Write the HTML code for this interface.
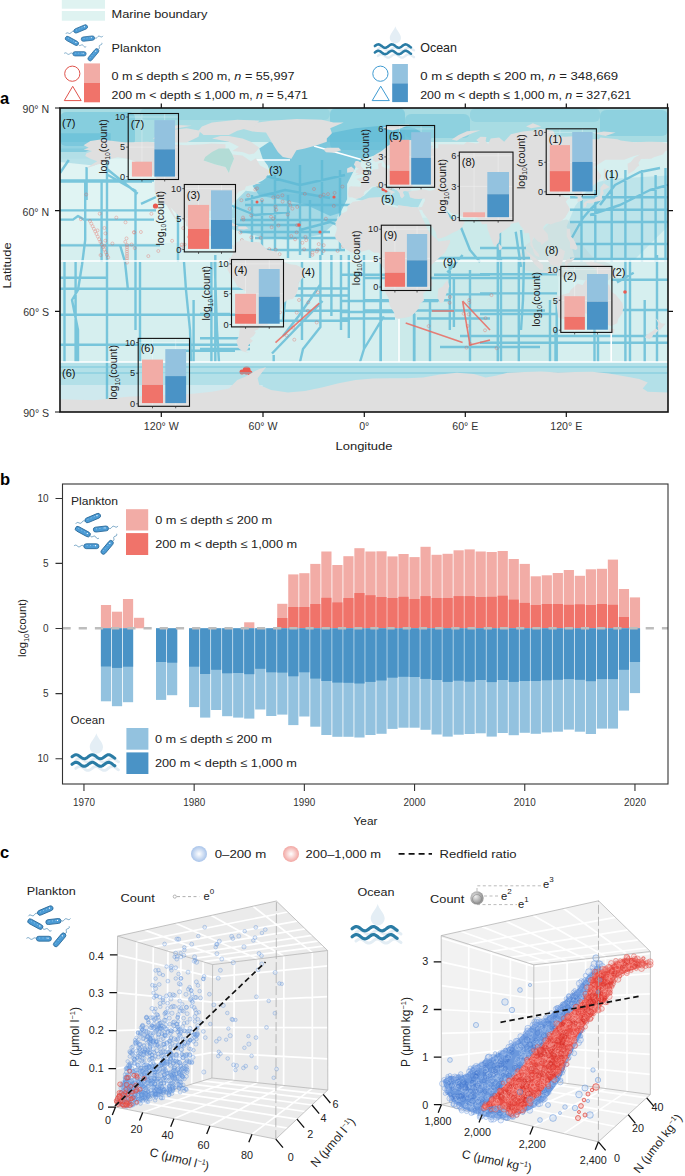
<!DOCTYPE html>
<html><head><meta charset="utf-8"><style>
html,body{margin:0;padding:0;background:#fff;}
svg{display:block;font-family:"Liberation Sans", sans-serif;}
</style></head><body>
<svg width="685" height="1176" viewBox="0 0 685 1176">
<defs><symbol id="bact" viewBox="0 0 40 38" overflow="visible"><path d="M10.00,7.70 L9.59,7.53 L9.18,7.40 L8.80,7.35 L8.44,7.39 L8.11,7.53 L7.80,7.77 L7.51,8.08 L7.23,8.43 L6.96,8.78 L6.67,9.10 L6.36,9.33 L6.03,9.48 L5.67,9.52 L5.29,9.46 L4.88,9.33 L4.47,9.17 L4.05,9.00 L3.65,8.87 L3.26,8.82 L2.90,8.86 L2.57,9.00 L2.26,9.24 L1.98,9.55 L1.70,9.90" fill="none" stroke="#2f77a8" stroke-width="0.6"/><path d="M14.30,20.40 L14.55,20.75 L14.82,21.07 L15.11,21.31 L15.42,21.46 L15.77,21.50 L16.14,21.45 L16.53,21.33 L16.93,21.17 L17.34,21.01 L17.73,20.88 L18.10,20.83 L18.45,20.88 L18.76,21.02 L19.05,21.27 L19.31,21.58 L19.57,21.93 L19.82,22.29 L20.09,22.60 L20.37,22.84 L20.69,22.99 L21.03,23.03 L21.40,22.98 L21.80,22.86 L22.20,22.70" fill="none" stroke="#2f77a8" stroke-width="0.6"/><path d="M30.60,13.80 L31.01,13.98 L31.41,14.12 L31.79,14.19 L32.15,14.17 L32.49,14.03 L32.81,13.81 L33.11,13.51 L33.40,13.17 L33.69,12.83 L33.99,12.53 L34.31,12.30 L34.65,12.17 L35.01,12.14 L35.39,12.21 L35.79,12.35 L36.20,12.53 L36.61,12.72 L37.01,12.86 L37.39,12.93 L37.75,12.90 L38.09,12.77 L38.41,12.54 L38.71,12.24 L39.00,11.90" fill="none" stroke="#2f77a8" stroke-width="0.6"/><path d="M8.85,29.80 L8.49,29.52 L8.14,29.28 L7.78,29.12 L7.42,29.05 L7.05,29.09 L6.68,29.23 L6.31,29.44 L5.93,29.70 L5.56,29.96 L5.19,30.17 L4.82,30.31 L4.45,30.35 L4.09,30.28 L3.73,30.12 L3.37,29.88 L3.02,29.60 L2.66,29.32 L2.30,29.08 L1.95,28.92 L1.58,28.85 L1.22,28.89 L0.85,29.03 L0.47,29.24 L0.10,29.50" fill="none" stroke="#2f77a8" stroke-width="0.6"/><path d="M34.10,25.20 L34.49,25.07 L34.84,24.91 L35.12,24.72 L35.32,24.48 L35.43,24.19 L35.45,23.85 L35.41,23.47 L35.33,23.07 L35.26,22.67 L35.21,22.29 L35.24,21.94 L35.34,21.65 L35.54,21.41 L35.83,21.22 L36.18,21.07 L36.57,20.93 L36.95,20.80 L37.30,20.65 L37.59,20.46 L37.79,20.22 L37.90,19.92 L37.92,19.58 L37.88,19.20 L37.80,18.80" fill="none" stroke="#2f77a8" stroke-width="0.6"/><g transform="translate(16.7,4.9) rotate(-23)"><rect x="-7.25" y="-2.15" width="14.5" height="4.3" rx="2.15" fill="#4b9bd5" stroke="#2b6a99" stroke-width="0.75"/><path d="M-4.75,-0.6 h9.50" stroke="#bfe0f5" stroke-width="0.6" stroke-dasharray="0.8 2.2" opacity="0.9"/><circle cx="4.25" cy="-0.5" r="0.55" fill="#fff"/></g><g transform="translate(7.9,16.9) rotate(28.6)"><rect x="-7.25" y="-2.15" width="14.5" height="4.3" rx="2.15" fill="#4b9bd5" stroke="#2b6a99" stroke-width="0.75"/><path d="M-4.75,-0.6 h9.50" stroke="#bfe0f5" stroke-width="0.6" stroke-dasharray="0.8 2.2" opacity="0.9"/><circle cx="4.25" cy="-0.5" r="0.55" fill="#fff"/></g><g transform="translate(23.9,14.6) rotate(-6.5)"><rect x="-6.70" y="-2.15" width="13.4" height="4.3" rx="2.15" fill="#4b9bd5" stroke="#2b6a99" stroke-width="0.75"/><path d="M-4.20,-0.6 h8.40" stroke="#bfe0f5" stroke-width="0.6" stroke-dasharray="0.8 2.2" opacity="0.9"/><circle cx="3.70" cy="-0.5" r="0.55" fill="#fff"/></g><g transform="translate(15.5,29.8) rotate(0)"><rect x="-6.65" y="-2.15" width="13.3" height="4.3" rx="2.15" fill="#4b9bd5" stroke="#2b6a99" stroke-width="0.75"/><path d="M-4.15,-0.6 h8.30" stroke="#bfe0f5" stroke-width="0.6" stroke-dasharray="0.8 2.2" opacity="0.9"/><circle cx="3.65" cy="-0.5" r="0.55" fill="#fff"/></g><g transform="translate(29.4,30.8) rotate(-50)"><rect x="-7.25" y="-2.15" width="14.5" height="4.3" rx="2.15" fill="#4b9bd5" stroke="#2b6a99" stroke-width="0.75"/><path d="M-4.75,-0.6 h9.50" stroke="#bfe0f5" stroke-width="0.6" stroke-dasharray="0.8 2.2" opacity="0.9"/><circle cx="4.25" cy="-0.5" r="0.55" fill="#fff"/></g></symbol></defs>
<rect x="61.8" y="0" width="43.2" height="8.7" fill="#dff3f1"/>
<rect x="61.8" y="11" width="43.2" height="9.7" fill="#dff3f1"/>
<text x="111.5" y="18" font-size="11.7" text-anchor="start" fill="#222" font-weight="normal" textLength="96" lengthAdjust="spacingAndGlyphs">Marine boundary</text>
<use href="#bact" x="64" y="24" width="40" height="38"/>
<text x="111.5" y="51.5" font-size="11.7" text-anchor="start" fill="#222" font-weight="normal" textLength="49.5" lengthAdjust="spacingAndGlyphs">Plankton</text>
<circle cx="72.3" cy="73.7" r="7.6" fill="none" stroke="#e0534c" stroke-width="1"/>
<path d="M64.3,100.6 L81.2,100.6 L72.7,86.3 Z" fill="none" stroke="#e0534c" stroke-width="1"/>
<rect x="84" y="63.4" width="16" height="19.6" fill="#f2aca6"/>
<rect x="84" y="83" width="16" height="19.3" fill="#f0736a"/>
<text x="111.5" y="79.6" font-size="11.7" text-anchor="start" fill="#222" font-weight="normal" textLength="183" lengthAdjust="spacingAndGlyphs">0 m ≤ depth ≤ 200 m, <tspan font-style="italic">n</tspan> = 55,997</text>
<text x="111.5" y="98.5" font-size="11.7" text-anchor="start" fill="#222" font-weight="normal" textLength="196.5" lengthAdjust="spacingAndGlyphs">200 m &lt; depth ≤ 1,000 m, <tspan font-style="italic">n</tspan> = 5,471</text>
<g transform="translate(374,25.5) scale(0.8)"><path d="M26.7,1 C28,6 33.7,10.5 33.7,15.5 A7,7 0 0 1 19.7,15.5 C19.7,10.5 25.4,6 26.7,1Z" fill="#e4eef5"/><path d="M5.00,29.50 L5.75,28.93 L6.50,28.40 L7.25,27.95 L8.00,27.63 L8.75,27.44 L9.50,27.41 L10.25,27.53 L11.00,27.81 L11.75,28.21 L12.50,28.71 L13.25,29.27 L14.00,29.85 L14.75,30.40 L15.50,30.88 L16.25,31.26 L17.00,31.50 L17.75,31.60 L18.50,31.54 L19.25,31.32 L20.00,30.96 L20.75,30.50 L21.50,29.96 L22.25,29.38 L23.00,28.82 L23.75,28.30 L24.50,27.88 L25.25,27.58 L26.00,27.42 L26.75,27.42 L27.50,27.58 L28.25,27.88 L29.00,28.30 L29.75,28.82 L30.50,29.38 L31.25,29.96 L32.00,30.50 L32.75,30.96 L33.50,31.32 L34.25,31.54 L35.00,31.60 L35.75,31.50 L36.50,31.26 L37.25,30.88 L38.00,30.40 L38.75,29.85 L39.50,29.27 L40.25,28.71 L41.00,28.21 L41.75,27.81 L42.50,27.53 L43.25,27.41 L44.00,27.44 L44.75,27.63 L45.50,27.95 L46.25,28.40 L47.00,28.93 L47.75,29.50 L48.50,30.07 L49.25,30.60 L50.00,31.05" fill="none" stroke="#e3edf4" stroke-width="3" stroke-linecap="round"/><path d="M5.00,38.00 L5.75,37.43 L6.50,36.90 L7.25,36.45 L8.00,36.13 L8.75,35.94 L9.50,35.91 L10.25,36.03 L11.00,36.31 L11.75,36.71 L12.50,37.21 L13.25,37.77 L14.00,38.35 L14.75,38.90 L15.50,39.38 L16.25,39.76 L17.00,40.00 L17.75,40.10 L18.50,40.04 L19.25,39.82 L20.00,39.46 L20.75,39.00 L21.50,38.46 L22.25,37.88 L23.00,37.32 L23.75,36.80 L24.50,36.38 L25.25,36.08 L26.00,35.92 L26.75,35.92 L27.50,36.08 L28.25,36.38 L29.00,36.80 L29.75,37.32 L30.50,37.88 L31.25,38.46 L32.00,39.00 L32.75,39.46 L33.50,39.82 L34.25,40.04 L35.00,40.10 L35.75,40.00 L36.50,39.76 L37.25,39.38 L38.00,38.90 L38.75,38.35 L39.50,37.77 L40.25,37.21 L41.00,36.71 L41.75,36.31 L42.50,36.03 L43.25,35.91 L44.00,35.94 L44.75,36.13 L45.50,36.45 L46.25,36.90 L47.00,37.43 L47.75,38.00 L48.50,38.57 L49.25,39.10 L50.00,39.55" fill="none" stroke="#e3edf4" stroke-width="3" stroke-linecap="round"/><path d="M1.10,25.70 L1.85,25.13 L2.60,24.60 L3.36,24.15 L4.11,23.82 L4.86,23.64 L5.61,23.61 L6.36,23.74 L7.11,24.01 L7.87,24.42 L8.62,24.92 L9.37,25.48 L10.12,26.06 L10.87,26.61 L11.62,27.09 L12.38,27.47 L13.13,27.71 L13.88,27.80 L14.63,27.73 L15.38,27.51 L16.13,27.15 L16.89,26.68 L17.64,26.13 L18.39,25.55 L19.14,24.99 L19.89,24.48 L20.64,24.06 L21.40,23.76 L22.15,23.62 L22.90,23.63 L23.65,23.79 L24.40,24.10 L25.15,24.54 L25.91,25.06 L26.66,25.63 L27.41,26.20 L28.16,26.74 L28.91,27.20 L29.66,27.54 L30.42,27.75 L31.17,27.80 L31.92,27.69 L32.67,27.43 L33.42,27.04 L34.17,26.54 L34.93,25.99 L35.68,25.41 L36.43,24.85 L37.18,24.36 L37.93,23.97 L38.68,23.71 L39.44,23.60 L40.19,23.65 L40.94,23.86 L41.69,24.20 L42.44,24.66 L43.19,25.20 L43.95,25.77 L44.70,26.34 L45.45,26.86 L46.20,27.30" fill="none" stroke="#2a7ca5" stroke-width="3.2" stroke-linecap="round"/><path d="M1.10,33.70 L1.85,33.13 L2.60,32.60 L3.36,32.15 L4.11,31.82 L4.86,31.64 L5.61,31.61 L6.36,31.74 L7.11,32.01 L7.87,32.42 L8.62,32.92 L9.37,33.48 L10.12,34.06 L10.87,34.61 L11.62,35.09 L12.38,35.47 L13.13,35.71 L13.88,35.80 L14.63,35.73 L15.38,35.51 L16.13,35.15 L16.89,34.68 L17.64,34.13 L18.39,33.55 L19.14,32.99 L19.89,32.48 L20.64,32.06 L21.40,31.76 L22.15,31.62 L22.90,31.63 L23.65,31.79 L24.40,32.10 L25.15,32.54 L25.91,33.06 L26.66,33.63 L27.41,34.20 L28.16,34.74 L28.91,35.20 L29.66,35.54 L30.42,35.75 L31.17,35.80 L31.92,35.69 L32.67,35.43 L33.42,35.04 L34.17,34.54 L34.93,33.99 L35.68,33.41 L36.43,32.85 L37.18,32.36 L37.93,31.97 L38.68,31.71 L39.44,31.60 L40.19,31.65 L40.94,31.86 L41.69,32.20 L42.44,32.66 L43.19,33.20 L43.95,33.77 L44.70,34.34 L45.45,34.86 L46.20,35.30" fill="none" stroke="#2a7ca5" stroke-width="3.2" stroke-linecap="round"/></g>
<text x="420.2" y="51.8" font-size="11.9" text-anchor="start" fill="#222" font-weight="normal" textLength="36.8" lengthAdjust="spacingAndGlyphs">Ocean</text>
<circle cx="380.4" cy="73.7" r="7.6" fill="none" stroke="#3f9bd2" stroke-width="1"/>
<path d="M372.2,100.6 L389.3,100.6 L380.7,86.2 Z" fill="none" stroke="#3f9bd2" stroke-width="1"/>
<rect x="392.2" y="64" width="15.7" height="19.3" fill="#93c2df"/>
<rect x="392.2" y="83.3" width="15.7" height="18.8" fill="#4a93c6"/>
<text x="420.2" y="79.6" font-size="11.7" text-anchor="start" fill="#222" font-weight="normal" textLength="198" lengthAdjust="spacingAndGlyphs">0 m ≤ depth ≤ 200 m, <tspan font-style="italic">n</tspan> = 348,669</text>
<text x="420.2" y="98.5" font-size="11.7" text-anchor="start" fill="#222" font-weight="normal" textLength="211" lengthAdjust="spacingAndGlyphs">200 m &lt; depth ≤ 1,000 m, <tspan font-style="italic">n</tspan> = 327,621</text>
<text x="0" y="104" font-size="16.5" text-anchor="start" fill="#000" font-weight="bold">a</text>
<text x="0" y="484.5" font-size="16.5" text-anchor="start" fill="#000" font-weight="bold">b</text>
<text x="0" y="857.5" font-size="16.5" text-anchor="start" fill="#000" font-weight="bold">c</text>
<clipPath id="mapclip"><rect x="60" y="108" width="608" height="304"/></clipPath>
<g clip-path="url(#mapclip)">
<rect x="60" y="108" width="608" height="304" fill="#d6efef"/>
<polygon points="60.0,243.1 195.1,243.1 195.1,158.7 60.0,158.7" fill="#e0f4f3"/>
<polygon points="397.8,361.3 558.2,361.3 558.2,217.8 397.8,217.8" fill="#cbeaea"/>
<rect x="60" y="108" width="608" height="34" fill="#a8dce3"/>
<rect x="60" y="362" width="608" height="50" fill="#b3e0e8"/>
<polygon points="60.0,385.0 262.7,385.0 262.7,401.9 60.0,401.9" fill="#cfe9ee"/>
<polygon points="524.4,246.5 532.9,239.7 543.0,229.6 549.8,222.8 566.7,219.5 580.2,226.2 583.6,246.5 592.0,256.6 608.9,263.4 617.3,270.1 608.9,280.3 583.6,280.3 563.3,276.9 541.3,273.5 524.4,270.1 519.4,256.6" fill="#cfe2e2"/>
<rect x="60" y="112" width="75" height="34" rx="6" fill="#5ebcd6" opacity="0.45"/>
<rect x="330" y="108" width="75" height="42" rx="6" fill="#5ebcd6" opacity="0.45"/>
<rect x="405" y="114" width="65" height="24" rx="6" fill="#5ebcd6" opacity="0.35"/>
<rect x="600" y="110" width="68" height="26" rx="6" fill="#5ebcd6" opacity="0.35"/>
<rect x="470" y="108" width="130" height="14" rx="6" fill="#5ebcd6" opacity="0.25"/>
<rect x="140" y="108" width="190" height="12" rx="6" fill="#5ebcd6" opacity="0.2"/>
<polygon points="252.5,185.7 262.7,180.6 271.1,173.9 267.7,165.4 262.7,158.7 259.3,148.5 269.4,141.8 296.4,148.5 313.3,141.8 330.2,133.3 355.6,128.3 389.3,124.9 414.7,128.3 431.6,138.4 406.2,141.8 380.9,153.6 364.0,158.7 355.6,167.1 347.1,184.0 347.1,199.2 340.4,212.7 330.2,216.1 304.9,204.3 279.6,199.2 259.3,195.8" fill="#5fbad6" opacity="0.75"/>
<polygon points="228.9,217.8 235.6,200.9 245.8,190.8 259.3,192.4 288.0,194.1 330.2,195.8 343.7,200.9 335.3,222.8 321.8,234.7 288.0,239.7 259.3,236.4 232.3,229.6" fill="#72c3db" opacity="0.5"/>
<polygon points="60.0,148.5 93.8,148.5 110.7,158.7 93.8,165.4 60.0,162.0" fill="#8fd0df" opacity="0.5"/>
<polygon points="60.0,133.3 110.7,133.3 110.7,141.8 85.3,151.9 60.0,151.9" fill="#5ebcd7" opacity="0.55"/>
<polygon points="592.0,184.0 608.9,178.9 668.0,175.6 668.0,226.2 634.2,260.0 575.1,260.0 566.7,226.2 575.1,206.0" fill="#9fd7e4" opacity="0.45"/>
<polygon points="355.6,199.2 364.0,195.8 372.4,187.4 384.3,184.0 397.8,190.8 411.3,190.8 423.1,197.5 418.0,207.6 397.8,206.0 380.9,200.9 364.0,200.9" fill="#a7dbe5" opacity="0.9"/>
<path d="M60,181.5 H152 M60,210.4 H156 M60,219.6 L73,219.6 L78,216 L84,219.6 L154,219.6 M60,245.4 H160 M85.2,182 L85.2,240 L82,265 L78,290 L72,300 L78,330 L78,362 M101.6,180 V262 M107,160 V412 M108,175 L135.5,190.7 L135.5,330 M178,210 V262 M141,203.8 L156,197 M68.8,160 L60,173 M60,277.7 H107 M60,288.8 H262 M60,314.8 H262 M182,350.7 H235 M184,262 L186,290 L190,330 L191,362 M214.7,262 L217,330 L219,362 M120,245 L125,262 L128,290 M86.6,167 L86.6,200 M107,169 L137.7,193.8 M60,180.5 H154 M245,205 H350 M240,220 H350 M255,238 H350 M265,250 H345 M252,195 V255 M275,175 V255 M300,165 V255 M322,160 V255 M340,170 V250 M262,175 L300,185 L345,175 M245,200 L285,190 L330,198 M320.4,255 L320.4,327 L303,349 L300,362 M331.4,255 V316 M341,255 V330 M272,353.5 L322.6,301 M283,336 L298.5,316.3 L320,285 M285,295.5 H350 M285,310.8 H350 M266,320.7 H350 M200,338.2 H250 M200,349 H250 M200,314 H230 M215.3,255 V362 M298.5,281 L285.4,298.8 L283,320 M302,262 V340 M285,288.5 H350 M348.8,255 V338 M364,255 L364,349 L360,362 M383.8,316.3 L364,349 M380.5,299 V362 M414.4,314 V362 M453.9,277 V327 M340,301 H438 M340,312 H395 M340,318.5 H395 M417,318.5 H490 M340,274.7 H385 M434,274.7 H490 M445,294.4 H490 M447.3,272.5 L462.6,255 M430,300 V362 M470,270 V362 M497.8,210 V362 M521,230 L524,260 L523,300 L521,330 M555.5,330 V362 M598,334.6 V362 M625.4,255 V362 M644.7,300 V362 M657,255 V362 M480,274.2 H557 M480,293.4 H557 M614.5,310 H668 M480,314 H562 M480,342.8 H668 M611.7,279.7 H668 M617,282.4 L633.7,272.8 M515.7,231.7 L521,267 M480,248 H526 M581.5,200 V262 M595.3,190 V262 M611.7,172 V262 M625.4,170 V262 M642,170 V262 M655.6,175 V262 M665.5,168 V262 M600,205 L615,185 L640,172 L660,168 M590,215 L620,205 L650,190 L668,185 M570,197.3 H668 M570,209.7 H668 M570,222 H668 M570,244 H668 M570,259 H668 M570.6,240 L583,218 L590,209.7 L600,200 M460,225 L470,250 L480,262 M500,230 V262 M440,205 L455,222 M435,258 H530 M64.5,262 V362 M75.6,262 V362 M140,262 V362 M193.6,300 V362 M211.4,262 V362 M273.7,355 V362 M60,344.8 H250 M380.8,258 V362 M414,258 V362 M449.8,258 V330 M501,258 V362 M518.8,258 V362 M550,300 V362 M556.7,300 V362 M594.5,300 V362 M630,258 V362 M363,278 H540 M363,300.3 H450 M363,310.5 H545 M460,336 H668 M440,347 H540 M225,225 H300 M240,232 H330 M262,200 V255 M288,195 V258 M310,200 V258 M230,205 L255,215 L290,212 M300,230 L330,222 L350,230" fill="none" stroke="#5cb8d5" stroke-width="2.4" stroke-linejoin="round" opacity="0.78"/>
<path d="M275.5,342.6 L319.3,303.2 M432,311 H454 M462.6,301 L490,330 M405.7,323 L462.6,342.6 M462.6,301 L470,345 L490,340" fill="none" stroke="#ea6a60" stroke-width="1.6" opacity="0.85"/>
<g fill="#ea5a50"><circle cx="246.6" cy="370.5" r="4"/><circle cx="242" cy="372" r="2.5"/><circle cx="250" cy="373" r="2.5"/><circle cx="383.5" cy="189" r="2.2"/><circle cx="386" cy="191" r="1.6"/><circle cx="155.5" cy="206" r="2.6"/><circle cx="299" cy="225" r="1.8"/><circle cx="334" cy="197" r="1.6"/><circle cx="320" cy="232" r="1.6"/><circle cx="257" cy="202" r="1.5"/><circle cx="625" cy="292" r="1.8"/></g>
<path d="M60,373 H668 M60,367 H668" stroke="#74c5dc" stroke-width="2" opacity="0.45" fill="none"/>
<g fill="none" stroke="#e9594f" stroke-width="0.6" opacity="0.55"><circle cx="305.4" cy="236.9" r="1.5"/><circle cx="323.5" cy="251.0" r="1.5"/><circle cx="317.7" cy="249.6" r="1.5"/><circle cx="243.0" cy="217.6" r="1.5"/><circle cx="339.1" cy="230.4" r="1.5"/><circle cx="334.6" cy="192.9" r="1.5"/><circle cx="289.3" cy="202.3" r="1.5"/><circle cx="297.1" cy="225.2" r="1.5"/><circle cx="241.4" cy="200.2" r="1.5"/><circle cx="269.3" cy="249.1" r="1.5"/><circle cx="320.4" cy="196.2" r="1.5"/><circle cx="323.7" cy="194.7" r="1.5"/><circle cx="304.8" cy="193.9" r="1.5"/><circle cx="240.2" cy="246.0" r="1.5"/><circle cx="262.0" cy="200.1" r="1.5"/><circle cx="343.2" cy="246.1" r="1.5"/><circle cx="270.4" cy="252.3" r="1.5"/><circle cx="296.6" cy="232.4" r="1.5"/><circle cx="261.5" cy="250.9" r="1.5"/><circle cx="312.5" cy="252.7" r="1.5"/><circle cx="333.8" cy="205.9" r="1.5"/><circle cx="277.9" cy="196.6" r="1.5"/><circle cx="255.3" cy="189.6" r="1.5"/><circle cx="271.6" cy="227.2" r="1.5"/><circle cx="240.4" cy="232.5" r="1.5"/><circle cx="275.5" cy="206.7" r="1.5"/><circle cx="325.9" cy="218.7" r="1.5"/><circle cx="273.2" cy="218.7" r="1.5"/><circle cx="314.0" cy="189.0" r="1.5"/><circle cx="342.4" cy="186.6" r="1.5"/><circle cx="318.7" cy="244.1" r="1.5"/><circle cx="241.9" cy="240.1" r="1.5"/><circle cx="278.4" cy="225.5" r="1.5"/><circle cx="241.0" cy="188.3" r="1.5"/><circle cx="259.0" cy="251.9" r="1.5"/><circle cx="260.6" cy="237.9" r="1.5"/><circle cx="337.6" cy="250.9" r="1.5"/><circle cx="276.2" cy="209.8" r="1.5"/><circle cx="295.1" cy="239.3" r="1.5"/><circle cx="251.3" cy="237.4" r="1.5"/><circle cx="323.7" cy="245.2" r="1.5"/><circle cx="243.8" cy="251.2" r="1.5"/><circle cx="249.6" cy="208.9" r="1.5"/><circle cx="304.1" cy="249.3" r="1.5"/><circle cx="275.7" cy="249.7" r="1.5"/><circle cx="297.2" cy="206.9" r="1.5"/><circle cx="273.3" cy="197.4" r="1.5"/><circle cx="248.2" cy="195.4" r="1.5"/><circle cx="312.4" cy="254.8" r="1.5"/><circle cx="257.0" cy="188.4" r="1.5"/><circle cx="343.6" cy="222.3" r="1.5"/><circle cx="282.6" cy="201.6" r="1.5"/><circle cx="302.4" cy="242.8" r="1.5"/><circle cx="287.8" cy="214.5" r="1.5"/><circle cx="245.8" cy="249.1" r="1.5"/><circle cx="243.4" cy="219.5" r="1.5"/><circle cx="328.0" cy="194.1" r="1.5"/><circle cx="316.8" cy="251.5" r="1.5"/><circle cx="306.2" cy="240.2" r="1.5"/><circle cx="251.2" cy="215.4" r="1.5"/><circle cx="255.7" cy="244.1" r="1.5"/><circle cx="271.0" cy="216.7" r="1.5"/><circle cx="344.9" cy="244.7" r="1.5"/><circle cx="342.5" cy="216.7" r="1.5"/><circle cx="291.3" cy="236.1" r="1.5"/><circle cx="290.3" cy="205.4" r="1.5"/><circle cx="282.4" cy="195.3" r="1.5"/><circle cx="279.6" cy="254.2" r="1.5"/><circle cx="340.8" cy="228.9" r="1.5"/><circle cx="292.4" cy="208.7" r="1.5"/><circle cx="86.2" cy="194.5" r="1.5"/><circle cx="134.7" cy="248.1" r="1.5"/><circle cx="105.3" cy="240.7" r="1.5"/><circle cx="134.2" cy="232.5" r="1.5"/><circle cx="126.5" cy="238.4" r="1.5"/><circle cx="105.4" cy="233.4" r="1.5"/><circle cx="99.7" cy="213.7" r="1.5"/><circle cx="133.9" cy="232.2" r="1.5"/><circle cx="100.6" cy="255.1" r="1.5"/><circle cx="125.5" cy="222.3" r="1.5"/><circle cx="80.8" cy="219.2" r="1.5"/><circle cx="97.5" cy="230.4" r="1.5"/><circle cx="112.4" cy="243.5" r="1.5"/><circle cx="125.3" cy="241.8" r="1.5"/><circle cx="104.4" cy="228.0" r="1.5"/><circle cx="131.6" cy="244.5" r="1.5"/><circle cx="104.5" cy="245.9" r="1.5"/><circle cx="140.9" cy="232.0" r="1.5"/><circle cx="148.3" cy="256.1" r="1.5"/><circle cx="116.3" cy="217.6" r="1.5"/><circle cx="158.3" cy="251.0" r="1.5"/><circle cx="196.9" cy="231.2" r="1.5"/><circle cx="184.6" cy="244.6" r="1.5"/><circle cx="186.5" cy="214.5" r="1.5"/><circle cx="189.0" cy="236.9" r="1.5"/><circle cx="183.3" cy="228.1" r="1.5"/><circle cx="181.2" cy="247.6" r="1.5"/><circle cx="181.8" cy="244.6" r="1.5"/><circle cx="151.4" cy="213.8" r="1.5"/><circle cx="172.1" cy="240.8" r="1.5"/><circle cx="293.1" cy="327.7" r="1.5"/><circle cx="317.9" cy="292.3" r="1.5"/><circle cx="308.3" cy="302.4" r="1.5"/><circle cx="283.2" cy="297.3" r="1.5"/><circle cx="299.0" cy="300.0" r="1.5"/><circle cx="291.6" cy="292.0" r="1.5"/><circle cx="307.9" cy="310.9" r="1.5"/><circle cx="316.7" cy="322.5" r="1.5"/><circle cx="294.3" cy="339.7" r="1.5"/><circle cx="280.0" cy="312.3" r="1.5"/><circle cx="296.7" cy="312.6" r="1.5"/><circle cx="286.9" cy="335.7" r="1.5"/><circle cx="449.9" cy="297.0" r="1.5"/><circle cx="469.1" cy="300.2" r="1.5"/><circle cx="463.6" cy="313.7" r="1.5"/><circle cx="466.5" cy="347.7" r="1.5"/><circle cx="485.5" cy="318.1" r="1.5"/><circle cx="485.0" cy="330.3" r="1.5"/><circle cx="449.6" cy="302.8" r="1.5"/><circle cx="467.7" cy="326.0" r="1.5"/><circle cx="496.6" cy="348.2" r="1.5"/><circle cx="468.7" cy="314.3" r="1.5"/><circle cx="491.5" cy="295.1" r="1.5"/><circle cx="428.6" cy="326.1" r="1.5"/><circle cx="469.2" cy="302.7" r="1.5"/><circle cx="470.4" cy="344.0" r="1.5"/><circle cx="390.1" cy="188.6" r="1.5"/><circle cx="378.1" cy="185.8" r="1.5"/><circle cx="437.8" cy="187.6" r="1.5"/><circle cx="436.9" cy="198.3" r="1.5"/><circle cx="407.7" cy="185.2" r="1.5"/><circle cx="438.5" cy="189.9" r="1.5"/><circle cx="393.2" cy="186.4" r="1.5"/><circle cx="438.7" cy="189.8" r="1.5"/><circle cx="127.0" cy="245.0" r="1.5"/><circle cx="127.0" cy="247.2" r="1.5"/><circle cx="127.0" cy="249.4" r="1.5"/><circle cx="127.0" cy="251.6" r="1.5"/><circle cx="127.0" cy="253.8" r="1.5"/><circle cx="127.0" cy="256.0" r="1.5"/><circle cx="127.0" cy="258.2" r="1.5"/><circle cx="127.0" cy="260.4" r="1.5"/><circle cx="127.0" cy="262.6" r="1.5"/><circle cx="90.0" cy="221.0" r="1.5"/><circle cx="91.3" cy="223.6" r="1.5"/><circle cx="92.6" cy="226.2" r="1.5"/><circle cx="93.9" cy="228.8" r="1.5"/><circle cx="95.2" cy="231.4" r="1.5"/><circle cx="96.5" cy="234.0" r="1.5"/><circle cx="97.8" cy="236.6" r="1.5"/><circle cx="99.1" cy="239.2" r="1.5"/><circle cx="100.4" cy="241.8" r="1.5"/><circle cx="101.7" cy="244.4" r="1.5"/><circle cx="103.0" cy="247.0" r="1.5"/><circle cx="104.3" cy="249.6" r="1.5"/><circle cx="105.6" cy="252.2" r="1.5"/><circle cx="106.9" cy="254.8" r="1.5"/><circle cx="108.2" cy="257.4" r="1.5"/></g>
<path d="M60,261 H668 M60,362 H668 M399,318.5 V362 M611.2,332 V362 M255,160 H290 M314,146 L363,160" stroke="#fff" stroke-width="1.6" fill="none"/>
<polygon points="83.6,145.2 90.4,140.9 100.5,139.6 125.9,142.5 147.8,141.8 169.8,144.3 186.7,145.2 203.6,144.3 212.0,143.5 225.5,144.3 225.5,148.5 217.1,151.9 206.9,157.0 205.2,160.9 215.4,164.6 225.5,167.1 228.9,173.0 230.6,167.1 234.0,158.7 232.3,154.4 242.4,155.6 250.8,161.2 255.9,158.2 260.1,165.4 267.7,169.6 269.9,172.2 264.4,178.9 255.1,182.3 261.0,183.2 252.5,184.8 245.8,186.5 244.9,189.6 239.0,191.6 235.6,195.8 235.6,200.9 227.2,206.8 228.9,214.4 228.0,217.4 225.5,215.2 223.8,210.2 220.4,209.8 213.7,209.0 212.0,211.0 205.2,210.0 199.7,213.6 199.3,219.5 199.3,223.7 203.6,228.4 210.3,228.8 211.2,224.5 217.1,223.7 216.2,229.6 214.5,233.0 222.1,233.8 223.0,241.4 226.4,244.8 230.6,244.0 233.1,245.6 233.4,246.8 228.9,247.3 223.8,245.6 218.8,241.4 215.4,237.5 208.6,235.5 201.9,233.5 193.4,230.4 185.8,225.4 185.8,222.0 179.9,216.9 174.0,211.0 170.6,207.6 174.0,214.4 178.2,221.2 174.8,218.6 171.5,213.6 168.9,209.3 166.4,205.1 160.5,201.7 157.1,196.7 154.6,191.6 154.6,182.3 156.3,178.1 152.9,175.6 147.8,172.2 143.6,168.0 139.4,163.7 134.3,161.2 127.6,158.7 117.4,157.3 109.0,159.5 103.9,162.9 97.2,164.6 90.4,167.1 86.2,168.0 97.2,161.2 90.4,158.7 85.3,156.1 86.2,153.6 92.1,151.1 83.6,149.4 88.7,147.7 83.6,145.2" fill="#dfdfdf"/>
<polygon points="240.7,128.3 252.5,123.2 271.1,120.7 296.4,119.0 321.8,119.8 333.6,122.4 343.7,122.4 330.2,128.3 331.9,133.3 326.8,138.4 326.8,141.8 316.7,145.2 304.9,148.5 296.4,150.2 291.4,158.7 282.9,157.0 277.9,151.9 274.5,146.8 271.1,140.9 266.0,132.5 252.5,131.6 240.7,128.3" fill="#dfdfdf"/>
<polygon points="228.9,135.9 242.4,138.4 250.8,141.8 259.3,147.7 254.2,153.6 249.2,154.4 242.4,151.9 232.3,151.1 239.0,146.8 228.9,141.8 212.0,138.4 220.4,135.9" fill="#dfdfdf"/>
<polygon points="234.0,245.6 236.5,242.3 242.4,239.7 245.8,240.6 250.8,241.9 259.3,242.3 262.7,245.6 267.7,249.9 276.2,251.6 279.6,257.5 282.9,261.7 289.7,264.2 296.4,265.1 304.9,269.3 304.9,275.2 299.0,282.0 298.1,289.6 295.6,295.5 293.1,298.8 288.0,299.7 282.1,303.9 282.1,308.1 277.9,312.4 274.5,317.4 267.7,320.8 267.7,325.0 259.3,325.9 258.4,329.2 254.2,330.9 255.9,332.6 253.4,336.0 250.0,338.5 252.9,340.7 248.3,345.3 248.3,348.7 245.8,351.2 249.2,352.9 242.4,351.2 238.2,347.8 236.5,341.1 239.0,336.0 239.9,327.6 239.9,322.5 243.2,315.7 243.2,307.3 244.9,298.8 245.8,291.2 237.3,286.2 234.0,280.3 229.7,273.5 227.2,269.3 227.2,266.8 228.9,262.5 228.9,258.3 230.9,257.5 233.1,253.2 233.3,249.0 234.0,245.6" fill="#dfdfdf"/>
<polygon points="335.3,224.5 337.0,219.5 342.0,213.6 347.1,211.0 347.6,206.0 353.0,201.7 360.6,200.7 369.1,197.8 380.9,197.0 382.6,200.0 380.9,203.4 389.3,205.4 397.8,208.0 397.8,205.1 406.2,206.3 413.8,207.6 418.0,207.3 418.9,209.7 423.1,219.5 427.3,228.8 430.7,234.2 436.6,238.9 438.3,241.4 450.1,240.1 450.1,242.3 445.1,252.4 434.9,261.7 431.6,265.1 429.9,270.1 430.7,277.7 432.4,285.3 423.1,293.8 424.0,300.5 419.7,303.9 418.9,308.1 414.7,312.9 410.4,316.6 406.2,317.4 397.8,318.8 394.9,317.4 394.4,313.2 389.7,305.6 388.5,298.0 383.9,289.6 386.8,280.3 384.8,270.1 379.2,261.7 380.0,254.1 378.4,252.4 374.1,252.7 369.1,249.4 360.6,252.1 351.3,252.6 342.9,247.3 341.2,244.0 338.7,241.4 335.8,238.9 334.8,235.2 336.1,232.1 337.0,227.9 335.3,224.5" fill="#dfdfdf"/>
<polygon points="447.3,280.3 449.3,286.2 447.6,290.4 445.1,297.2 443.4,302.2 440.0,303.1 437.5,297.2 438.3,288.7 442.5,286.7 445.1,282.8" fill="#dfdfdf"/>
<polygon points="348.8,197.5 348.0,194.1 348.8,187.4 350.5,186.2 360.6,186.7 361.5,182.3 356.4,178.9 361.5,177.8 366.5,175.2 370.8,173.2 372.4,169.8 378.4,169.1 378.4,166.3 377.8,163.7 381.7,162.6 381.7,166.3 385.1,168.1 387.6,168.8 395.2,167.6 399.5,166.3 399.5,163.7 404.5,163.4 404.5,161.2 403.7,160.0 413.0,158.7 402.0,158.3 400.3,156.1 400.3,152.8 406.2,149.9 401.2,148.9 396.1,152.8 393.6,154.4 393.6,157.0 396.1,158.7 394.4,160.4 391.9,163.7 388.5,165.4 385.4,164.9 382.6,160.5 380.9,160.4 375.8,162.0 373.3,160.7 372.4,157.0 375.8,154.3 381.7,151.1 387.6,146.0 391.9,143.5 396.1,141.8 402.8,140.6 411.3,140.1 416.4,141.8 419.7,142.8 433.2,146.0 431.6,148.5 438.3,148.2 438.3,144.3 453.5,144.3 463.6,144.6 467.0,142.1 475.5,143.5 479.7,143.0 476.3,140.1 480.5,136.7 486.4,137.0 485.6,140.9 488.1,144.3 490.7,138.4 499.1,137.6 504.2,141.8 510.9,134.2 522.8,131.6 534.6,130.3 540.5,128.8 553.2,130.8 555.7,135.9 565.0,136.7 578.5,135.9 581.9,140.1 586.9,139.2 598.8,139.2 600.4,137.6 617.3,139.2 620.7,140.4 634.2,142.3 647.7,141.8 652.0,141.8 661.2,142.1 668.0,143.8 668.0,150.2 665.5,151.1 662.9,154.4 654.5,157.0 651.1,158.7 641.0,159.0 638.4,162.9 639.3,165.4 637.1,167.1 634.2,170.5 628.3,173.9 627.5,163.7 630.8,162.0 634.2,157.8 640.1,154.4 634.2,156.1 624.1,159.8 614.0,159.8 605.5,159.8 600.4,162.9 593.7,167.1 597.1,169.6 601.3,175.6 600.4,178.1 597.1,182.3 592.0,186.5 586.9,187.4 582.7,190.8 582.7,192.4 580.2,195.0 582.7,199.2 581.9,200.7 577.6,201.9 577.6,196.7 575.1,196.2 574.3,192.8 570.0,191.6 569.2,194.1 564.1,194.1 562.4,195.0 565.0,197.5 570.9,197.5 567.5,199.2 565.8,201.7 568.4,206.0 570.0,209.3 567.5,213.6 565.0,217.8 560.8,221.2 555.7,222.5 550.6,224.5 548.9,223.7 546.4,223.7 543.9,226.2 543.0,228.8 547.8,234.2 548.4,240.1 544.7,242.3 541.3,245.5 541.0,242.6 538.0,241.4 533.7,237.2 532.0,242.3 533.7,248.2 538.8,254.1 539.6,257.5 535.4,255.3 533.7,252.4 532.9,249.0 530.4,245.6 530.4,241.4 529.0,233.0 524.4,233.3 523.1,228.8 520.2,225.4 518.5,222.0 516.0,222.8 510.9,223.7 510.1,226.2 505.9,229.3 499.4,233.8 499.6,238.0 498.8,242.6 494.9,246.5 493.2,244.0 489.8,235.5 487.3,227.9 487.0,223.7 482.2,224.5 479.7,220.3 476.3,217.1 467.9,217.4 461.1,216.6 459.1,214.1 455.2,214.9 451.0,213.0 448.4,209.3 445.9,209.3 448.8,215.2 449.8,218.1 451.0,219.1 455.2,219.1 458.6,216.1 459.4,218.6 465.0,222.0 462.8,225.4 461.4,227.9 457.7,230.4 452.2,233.0 445.9,236.4 440.0,238.4 437.3,238.6 436.1,233.5 435.8,232.1 429.9,223.7 428.2,219.5 423.1,212.7 422.3,210.2 418.9,209.5 418.6,207.3 421.9,207.1 423.1,204.3 424.8,200.9 424.8,198.4 418.9,199.0 414.7,198.7 410.1,197.5 408.8,193.3 408.2,191.4 413.0,190.8 417.2,190.4 423.1,189.1 429.0,190.8 434.1,189.9 434.1,188.1 429.0,184.8 427.3,180.6 423.1,181.8 420.6,184.8 416.4,181.3 414.7,183.2 412.5,185.7 411.3,189.1 407.9,191.4 404.5,191.1 402.8,192.1 404.5,195.8 402.0,198.4 400.3,196.7 399.5,193.3 396.8,189.9 391.0,186.5 387.1,183.8 384.8,184.3 387.6,188.2 391.0,190.2 395.2,192.1 391.9,194.1 391.0,195.8 390.5,192.4 385.1,189.6 381.7,187.4 378.9,185.0 376.2,186.4 371.6,186.5 369.2,188.4 369.4,189.2 365.4,190.8 363.5,193.3 364.3,194.6 360.5,198.0 355.6,198.7 353.4,197.8 351.3,197.2" fill="#dfdfdf"/>
<polygon points="354.4,175.6 366.5,173.5 366.9,171.0 364.0,169.6 361.5,167.1 360.6,165.4 361.0,162.7 358.1,161.0 355.6,161.0 353.9,164.6 355.6,167.1 358.9,168.8 356.4,170.0 356.2,170.8 355.6,172.9 358.9,173.2" fill="#dfdfdf"/>
<polygon points="347.1,172.7 353.9,171.8 353.9,168.8 351.3,166.6 347.1,168.5" fill="#dfdfdf"/>
<polygon points="323.5,149.4 326.8,147.7 338.7,147.7 341.2,150.2 333.6,152.8 326.0,152.2" fill="#dfdfdf"/>
<polygon points="583.6,207.6 586.1,206.8 586.9,202.9 592.0,203.4 595.4,201.7 599.6,200.9 601.8,199.7 602.1,195.8 603.8,193.3 603.0,189.9 605.5,189.1 609.7,186.9 603.8,183.2 600.4,187.4 600.4,190.8 600.1,195.0 595.4,197.5 593.7,199.5 588.6,200.0 585.2,201.7 583.6,203.4" fill="#dfdfdf"/>
<polygon points="603.8,182.3 606.4,177.2 605.5,168.8 603.8,168.8" fill="#dfdfdf"/>
<polygon points="566.7,228.8 570.0,228.8 570.9,236.4 573.4,238.9 576.0,244.0 577.6,248.2 576.0,249.9 570.0,248.2 570.0,242.3 566.7,236.4" fill="#dfdfdf"/>
<polygon points="525.0,250.5 529.5,253.2 539.6,261.7 543.0,265.1 543.0,270.1 540.5,269.8 534.6,264.2 530.4,257.5" fill="#dfdfdf"/>
<polygon points="541.3,271.5 546.4,270.6 554.0,271.5 557.4,273.2 549.8,273.8" fill="#dfdfdf"/>
<polygon points="548.1,257.5 551.5,256.6 554.8,254.6 559.9,248.3 565.0,251.2 563.3,258.3 562.4,261.7 560.8,265.9 556.5,265.9 550.6,265.1 548.1,260.5" fill="#dfdfdf"/>
<polygon points="565.0,269.3 567.5,269.3 567.5,263.4 571.7,261.7 575.1,257.5 567.5,259.2 565.0,261.7" fill="#dfdfdf"/>
<polygon points="585.2,262.5 591.2,261.7 597.1,262.9 602.1,264.6 609.7,267.6 613.1,270.5 618.2,277.7 613.1,276.9 610.6,273.5 606.4,275.2 600.4,274.0 597.1,274.0 596.2,269.3 591.2,266.8 586.9,264.2" fill="#dfdfdf"/>
<polygon points="555.7,297.2 556.5,303.9 558.2,317.4 563.1,319.1 572.6,317.4 576.8,314.6 585.2,313.2 590.3,315.4 593.0,318.8 596.7,315.7 597.1,320.0 600.4,324.2 607.2,324.7 611.1,325.9 617.3,323.3 618.2,319.1 622.4,313.2 623.2,308.1 622.4,303.1 618.7,298.2 615.6,294.6 611.1,291.8 609.4,285.3 606.4,283.6 604.7,278.2 603.0,282.8 603.0,288.7 599.6,289.6 593.7,286.2 595.0,280.6 587.8,279.4 585.2,280.6 582.7,285.2 577.6,283.6 573.4,287.5 570.9,289.6 569.2,292.9 564.1,294.3 557.4,296.8" fill="#dfdfdf"/>
<polygon points="608.2,328.7 614.5,329.1 614.0,333.0 610.6,333.6" fill="#dfdfdf"/>
<polygon points="655.5,318.1 658.7,320.8 661.2,323.3 665.5,323.7 662.9,326.7 659.9,330.3 658.9,329.6 657.5,326.2 658.7,323.8" fill="#dfdfdf"/>
<polygon points="655.8,328.4 658.4,330.4 656.5,332.6 653.3,334.6 652.1,337.4 649.4,338.9 645.2,337.7 646.0,335.3 652.8,330.9" fill="#dfdfdf"/>
<polygon points="498.8,243.4 502.3,247.3 501.1,249.5 499.1,249.9 498.6,246.5" fill="#dfdfdf"/>
<polygon points="220.4,223.2 228.9,220.8 235.6,224.5 238.7,225.9 233.1,226.4 227.2,223.5" fill="#dfdfdf"/>
<polygon points="238.3,226.6 245.8,226.6 248.5,228.6 244.1,229.6 238.3,229.1" fill="#dfdfdf"/>
<polygon points="382.6,127.4 392.7,124.9 409.6,124.4 401.2,128.3 392.7,130.6 386.0,129.1" fill="#dfdfdf"/>
<polygon points="451.8,139.6 458.6,135.0 467.0,131.3 480.5,130.3 472.1,133.3 460.3,138.4 456.9,140.8" fill="#dfdfdf"/>
<polygon points="526.1,126.6 532.9,123.2 541.3,126.6 531.2,128.3" fill="#dfdfdf"/>
<polygon points="593.7,133.3 603.8,131.6 615.6,132.5 605.5,135.9" fill="#dfdfdf"/>
<polygon points="60.0,399.3 93.8,400.2 110.7,398.5 127.6,396.8 144.4,396.0 161.3,395.1 178.2,395.1 195.1,393.4 212.0,391.7 228.9,388.4 237.3,379.9 245.8,376.5 254.2,371.5 259.3,368.9 266.0,367.2 262.7,371.5 257.6,378.2 259.3,385.0 271.1,390.0 288.0,392.6 304.9,390.9 321.8,387.5 338.7,383.3 355.6,379.9 372.4,378.6 389.3,378.2 406.2,378.2 423.1,377.4 440.0,374.5 456.9,372.8 473.8,374.0 485.6,377.4 495.7,375.7 507.6,372.8 524.4,372.0 541.3,371.5 558.2,372.5 575.1,372.0 592.0,371.8 608.9,373.5 625.8,376.5 639.3,379.1 647.7,382.4 642.7,388.4 647.7,391.7 668.0,392.6 668.0,412.0 60.0,412.0" fill="#dfdfdf"/>
<polygon points="152.9,138.4 164.7,130.8 186.7,128.3 200.2,130.8 198.5,136.7 186.7,142.6 173.2,142.6 161.3,140.1" fill="#dfdfdf"/>
<polygon points="203.6,135.0 228.9,135.0 237.3,130.8 254.2,126.6 259.3,120.7 237.3,119.8 212.0,122.4 201.9,126.6 198.5,130.8" fill="#dfdfdf"/>
<polygon points="169.8,130.0 181.6,127.4 191.7,125.7 178.2,124.9 161.3,128.3" fill="#dfdfdf"/>
<polygon points="203.6,160.4 205.2,157.0 212.0,151.9 218.8,148.5 228.9,148.5 232.3,154.4 234.0,158.7 230.6,167.1 228.9,173.0 225.5,167.1 215.4,164.6" fill="#b3dcd6"/>
</g>
<rect x="60" y="108" width="608" height="304" fill="none" stroke="#111" stroke-width="1.6"/>
<path d="M161.3,108 v-4.5 M263,108 v-4.5 M364.3,108 v-4.5 M465.3,108 v-4.5 M566.3,108 v-4.5 M667.5,108 v-4.5 M161.3,412 v5 M263,412 v5 M364.3,412 v5 M465.3,412 v5 M566.3,412 v5 M60,108 h-5 M60,210.6 h-5 M60,311.3 h-5 M60,412 h-5 M668,210.6 h5 M668,311.3 h5 " stroke="#111" stroke-width="1.2"/>
<text x="161.3" y="429.6" font-size="10.6" text-anchor="middle" fill="#333" font-weight="normal">120° W</text>
<text x="263" y="429.6" font-size="10.6" text-anchor="middle" fill="#333" font-weight="normal">60° W</text>
<text x="364.3" y="429.6" font-size="10.6" text-anchor="middle" fill="#333" font-weight="normal">0°</text>
<text x="465.3" y="429.6" font-size="10.6" text-anchor="middle" fill="#333" font-weight="normal">60° E</text>
<text x="566.3" y="429.6" font-size="10.6" text-anchor="middle" fill="#333" font-weight="normal">120° E</text>
<text x="49.2" y="112.9" font-size="10.6" text-anchor="end" fill="#333" font-weight="normal">90° N</text>
<text x="49.2" y="215.5" font-size="10.6" text-anchor="end" fill="#333" font-weight="normal">60° N</text>
<text x="49.2" y="316.2" font-size="10.6" text-anchor="end" fill="#333" font-weight="normal">60° S</text>
<text x="49.2" y="416.9" font-size="10.6" text-anchor="end" fill="#333" font-weight="normal">90° S</text>
<text x="364" y="450" font-size="11.6" text-anchor="middle" fill="#222" font-weight="normal" textLength="57" lengthAdjust="spacingAndGlyphs">Longitude</text>
<text transform="translate(10.8,265.4) rotate(-90)" font-size="11.6" text-anchor="middle" fill="#222" textLength="46" lengthAdjust="spacingAndGlyphs">Latitude</text>
<path d="M128.2,117 H178.5 M128.2,147.1 H178.5 M128.2,176.6 H178.5 M141.95,113.5 V179.5 M164.7,113.5 V179.5" stroke="#fff" stroke-width="0.6" opacity="0.5"/>
<rect x="131.9" y="161.7" width="20.099999999999994" height="14.900000000000006" fill="#f2aca6"/>
<rect x="154.4" y="120.1" width="20.599999999999994" height="29.200000000000017" fill="#93c2df"/>
<rect x="154.4" y="149.3" width="20.599999999999994" height="27.299999999999983" fill="#4a93c6"/>
<rect x="128.2" y="113.5" width="50.30000000000001" height="66.0" fill="none" stroke="#111" stroke-width="1.1"/>
<text x="125.19999999999999" y="120.2" font-size="9.2" text-anchor="end" fill="#222" font-weight="normal">10</text>
<text x="125.19999999999999" y="150.29999999999998" font-size="9.2" text-anchor="end" fill="#222" font-weight="normal">5</text>
<text x="125.19999999999999" y="179.79999999999998" font-size="9.2" text-anchor="end" fill="#222" font-weight="normal">0</text>
<path d="M128.2,117 h-2 M128.2,147.1 h-2 M128.2,176.6 h-2 M141.95,179.5 v2 M164.7,179.5 v2" stroke="#222" stroke-width="0.7"/>
<text x="130.7" y="127.5" font-size="11" text-anchor="start" fill="#111" font-weight="normal">(7)</text>
<text transform="translate(107.4,146.5) rotate(-90)" font-size="10.6" text-anchor="middle" fill="#222">log<tspan font-size="6.8" dy="2.6">10</tspan><tspan dy="-2.6">(count)</tspan></text>
<path d="M184.3,188.6 H235.5 M184.3,218.8 H235.5 M184.3,249.5 H235.5 M198.55,184.5 V251.9 M221.5,184.5 V251.9" stroke="#fff" stroke-width="0.6" opacity="0.5"/>
<rect x="188" y="204.9" width="21.099999999999994" height="24.099999999999994" fill="#f2aca6"/>
<rect x="188" y="229" width="21.099999999999994" height="19.900000000000006" fill="#f0736a"/>
<rect x="211" y="190.3" width="21" height="29.69999999999999" fill="#93c2df"/>
<rect x="211" y="220" width="21" height="28.900000000000006" fill="#4a93c6"/>
<rect x="184.3" y="184.5" width="51.19999999999999" height="67.4" fill="none" stroke="#111" stroke-width="1.1"/>
<text x="181.3" y="191.79999999999998" font-size="9.2" text-anchor="end" fill="#222" font-weight="normal">10</text>
<text x="181.3" y="222.0" font-size="9.2" text-anchor="end" fill="#222" font-weight="normal">5</text>
<text x="181.3" y="252.7" font-size="9.2" text-anchor="end" fill="#222" font-weight="normal">0</text>
<path d="M184.3,188.6 h-2 M184.3,218.8 h-2 M184.3,249.5 h-2 M198.55,251.9 v2 M221.5,251.9 v2" stroke="#222" stroke-width="0.7"/>
<text x="186.8" y="198.5" font-size="11" text-anchor="start" fill="#111" font-weight="normal">(3)</text>
<text transform="translate(163.7,218.2) rotate(-90)" font-size="10.6" text-anchor="middle" fill="#222">log<tspan font-size="6.8" dy="2.6">10</tspan><tspan dy="-2.6">(count)</tspan></text>
<path d="M231.5,263.9 H283.5 M231.5,293.8 H283.5 M231.5,324.5 H283.5 M245.55,259.5 V326.9 M269.25,259.5 V326.9" stroke="#fff" stroke-width="0.6" opacity="0.5"/>
<rect x="235.1" y="293.8" width="20.900000000000006" height="20.099999999999966" fill="#f2aca6"/>
<rect x="235.1" y="313.9" width="20.900000000000006" height="9.800000000000011" fill="#f0736a"/>
<rect x="258.8" y="269" width="20.899999999999977" height="27.69999999999999" fill="#93c2df"/>
<rect x="258.8" y="296.7" width="20.899999999999977" height="27.0" fill="#4a93c6"/>
<rect x="231.5" y="259.5" width="52.0" height="67.39999999999998" fill="none" stroke="#111" stroke-width="1.1"/>
<text x="228.5" y="267.09999999999997" font-size="9.2" text-anchor="end" fill="#222" font-weight="normal">10</text>
<text x="228.5" y="297.0" font-size="9.2" text-anchor="end" fill="#222" font-weight="normal">5</text>
<text x="228.5" y="327.7" font-size="9.2" text-anchor="end" fill="#222" font-weight="normal">0</text>
<path d="M231.5,263.9 h-2 M231.5,293.8 h-2 M231.5,324.5 h-2 M245.55,326.9 v2 M269.25,326.9 v2" stroke="#222" stroke-width="0.7"/>
<text x="234.0" y="273.5" font-size="11" text-anchor="start" fill="#111" font-weight="normal">(4)</text>
<text transform="translate(210.2,293.2) rotate(-90)" font-size="10.6" text-anchor="middle" fill="#222">log<tspan font-size="6.8" dy="2.6">10</tspan><tspan dy="-2.6">(count)</tspan></text>
<path d="M138.2,342.5 H189.5 M138.2,373.2 H189.5 M138.2,403.8 H189.5 M152.5,338.4 V406.3 M175.7,338.4 V406.3" stroke="#fff" stroke-width="0.6" opacity="0.5"/>
<rect x="142" y="359.6" width="21" height="25.299999999999955" fill="#f2aca6"/>
<rect x="142" y="384.9" width="21" height="18.200000000000045" fill="#f0736a"/>
<rect x="165.3" y="349.1" width="20.799999999999983" height="27.0" fill="#93c2df"/>
<rect x="165.3" y="376.1" width="20.799999999999983" height="27.0" fill="#4a93c6"/>
<rect x="138.2" y="338.4" width="51.30000000000001" height="67.90000000000003" fill="none" stroke="#111" stroke-width="1.1"/>
<text x="135.2" y="345.7" font-size="9.2" text-anchor="end" fill="#222" font-weight="normal">10</text>
<text x="135.2" y="376.4" font-size="9.2" text-anchor="end" fill="#222" font-weight="normal">5</text>
<text x="135.2" y="407.0" font-size="9.2" text-anchor="end" fill="#222" font-weight="normal">0</text>
<path d="M138.2,342.5 h-2 M138.2,373.2 h-2 M138.2,403.8 h-2 M152.5,406.3 v2 M175.7,406.3 v2" stroke="#222" stroke-width="0.7"/>
<text x="140.7" y="352.4" font-size="11" text-anchor="start" fill="#111" font-weight="normal">(6)</text>
<text transform="translate(116.9,372.35) rotate(-90)" font-size="10.6" text-anchor="middle" fill="#222">log<tspan font-size="6.8" dy="2.6">10</tspan><tspan dy="-2.6">(count)</tspan></text>
<path d="M386.4,128.9 H434.6 M386.4,156.9 H434.6 M386.4,184.8 H434.6 M399.5,125.5 V187.3 M421.04999999999995,125.5 V187.3" stroke="#fff" stroke-width="0.6" opacity="0.5"/>
<rect x="389.7" y="139.8" width="19.600000000000023" height="31.0" fill="#f2aca6"/>
<rect x="389.7" y="170.8" width="19.600000000000023" height="13.799999999999983" fill="#f0736a"/>
<rect x="411.2" y="132.2" width="19.69999999999999" height="25.600000000000023" fill="#93c2df"/>
<rect x="411.2" y="157.8" width="19.69999999999999" height="26.799999999999983" fill="#4a93c6"/>
<rect x="386.4" y="125.5" width="48.200000000000045" height="61.80000000000001" fill="none" stroke="#111" stroke-width="1.1"/>
<text x="383.4" y="132.1" font-size="9.2" text-anchor="end" fill="#222" font-weight="normal">6</text>
<text x="383.4" y="160.1" font-size="9.2" text-anchor="end" fill="#222" font-weight="normal">3</text>
<text x="383.4" y="188.0" font-size="9.2" text-anchor="end" fill="#222" font-weight="normal">0</text>
<path d="M386.4,128.9 h-2 M386.4,156.9 h-2 M386.4,184.8 h-2 M399.5,187.3 v2 M421.04999999999995,187.3 v2" stroke="#222" stroke-width="0.7"/>
<text x="388.9" y="139.5" font-size="11" text-anchor="start" fill="#111" font-weight="normal">(5)</text>
<text transform="translate(368.7,156.4) rotate(-90)" font-size="10.6" text-anchor="middle" fill="#222">log<tspan font-size="6.8" dy="2.6">10</tspan><tspan dy="-2.6">(count)</tspan></text>
<path d="M459.3,155.8 H513 M459.3,186.4 H513 M459.3,217.5 H513 M474.05,152.1 V220.7 M498.15,152.1 V220.7" stroke="#fff" stroke-width="0.6" opacity="0.5"/>
<rect x="463.1" y="212.3" width="21.899999999999977" height="4.899999999999977" fill="#f2aca6"/>
<rect x="487.3" y="172" width="21.69999999999999" height="22.19999999999999" fill="#93c2df"/>
<rect x="487.3" y="194.2" width="21.69999999999999" height="23.0" fill="#4a93c6"/>
<rect x="459.3" y="152.1" width="53.69999999999999" height="68.6" fill="none" stroke="#111" stroke-width="1.1"/>
<text x="456.3" y="159.0" font-size="9.2" text-anchor="end" fill="#222" font-weight="normal">6</text>
<text x="456.3" y="189.6" font-size="9.2" text-anchor="end" fill="#222" font-weight="normal">3</text>
<text x="456.3" y="220.7" font-size="9.2" text-anchor="end" fill="#222" font-weight="normal">0</text>
<path d="M459.3,155.8 h-2 M459.3,186.4 h-2 M459.3,217.5 h-2 M474.05,220.7 v2 M498.15,220.7 v2" stroke="#222" stroke-width="0.7"/>
<text x="461.8" y="166.1" font-size="11" text-anchor="start" fill="#111" font-weight="normal">(8)</text>
<text transform="translate(446.0,186.39999999999998) rotate(-90)" font-size="10.6" text-anchor="middle" fill="#222">log<tspan font-size="6.8" dy="2.6">10</tspan><tspan dy="-2.6">(count)</tspan></text>
<path d="M381.3,229.2 H430.8 M381.3,258.4 H430.8 M381.3,287 H430.8 M394.9,225.2 V290.5 M417.04999999999995,225.2 V290.5" stroke="#fff" stroke-width="0.6" opacity="0.5"/>
<rect x="384.8" y="251.9" width="20.19999999999999" height="20.799999999999983" fill="#f2aca6"/>
<rect x="384.8" y="272.7" width="20.19999999999999" height="14.100000000000023" fill="#f0736a"/>
<rect x="406.9" y="234" width="20.30000000000001" height="26.30000000000001" fill="#93c2df"/>
<rect x="406.9" y="260.3" width="20.30000000000001" height="26.5" fill="#4a93c6"/>
<rect x="381.3" y="225.2" width="49.5" height="65.30000000000001" fill="none" stroke="#111" stroke-width="1.1"/>
<text x="378.3" y="232.39999999999998" font-size="9.2" text-anchor="end" fill="#222" font-weight="normal">10</text>
<text x="378.3" y="261.59999999999997" font-size="9.2" text-anchor="end" fill="#222" font-weight="normal">5</text>
<text x="378.3" y="290.2" font-size="9.2" text-anchor="end" fill="#222" font-weight="normal">0</text>
<path d="M381.3,229.2 h-2 M381.3,258.4 h-2 M381.3,287 h-2 M394.9,290.5 v2 M417.04999999999995,290.5 v2" stroke="#222" stroke-width="0.7"/>
<text x="383.8" y="239.2" font-size="11" text-anchor="start" fill="#111" font-weight="normal">(9)</text>
<text transform="translate(359.5,257.85) rotate(-90)" font-size="10.6" text-anchor="middle" fill="#222">log<tspan font-size="6.8" dy="2.6">10</tspan><tspan dy="-2.6">(count)</tspan></text>
<path d="M546.2,132.4 H596.4 M546.2,162.3 H596.4 M546.2,191.8 H596.4 M559.9,128.8 V194.5 M582.4000000000001,128.8 V194.5" stroke="#fff" stroke-width="0.6" opacity="0.5"/>
<rect x="549.8" y="145.1" width="20.200000000000045" height="26.0" fill="#f2aca6"/>
<rect x="549.8" y="171.1" width="20.200000000000045" height="20.400000000000006" fill="#f0736a"/>
<rect x="572.2" y="132" width="20.399999999999977" height="29.900000000000006" fill="#93c2df"/>
<rect x="572.2" y="161.9" width="20.399999999999977" height="29.599999999999994" fill="#4a93c6"/>
<rect x="546.2" y="128.8" width="50.19999999999993" height="65.69999999999999" fill="none" stroke="#111" stroke-width="1.1"/>
<text x="543.2" y="135.6" font-size="9.2" text-anchor="end" fill="#222" font-weight="normal">10</text>
<text x="543.2" y="165.5" font-size="9.2" text-anchor="end" fill="#222" font-weight="normal">5</text>
<text x="543.2" y="195.0" font-size="9.2" text-anchor="end" fill="#222" font-weight="normal">0</text>
<path d="M546.2,132.4 h-2 M546.2,162.3 h-2 M546.2,191.8 h-2 M559.9,194.5 v2 M582.4000000000001,194.5 v2" stroke="#222" stroke-width="0.7"/>
<text x="548.7" y="142.8" font-size="11" text-anchor="start" fill="#111" font-weight="normal">(1)</text>
<text transform="translate(524.5,161.65) rotate(-90)" font-size="10.6" text-anchor="middle" fill="#222">log<tspan font-size="6.8" dy="2.6">10</tspan><tspan dy="-2.6">(count)</tspan></text>
<path d="M560.8,269.6 H611.9 M560.8,300.3 H611.9 M560.8,330.2 H611.9 M574.65,266.4 V332.4 M597.45,266.4 V332.4" stroke="#fff" stroke-width="0.6" opacity="0.5"/>
<rect x="564.4" y="296.2" width="20.5" height="20.600000000000023" fill="#f2aca6"/>
<rect x="564.4" y="316.8" width="20.5" height="12.899999999999977" fill="#f0736a"/>
<rect x="587" y="274" width="20.899999999999977" height="27.69999999999999" fill="#93c2df"/>
<rect x="587" y="301.7" width="20.899999999999977" height="28.0" fill="#4a93c6"/>
<rect x="560.8" y="266.4" width="51.10000000000002" height="66.0" fill="none" stroke="#111" stroke-width="1.1"/>
<text x="557.8" y="272.8" font-size="9.2" text-anchor="end" fill="#222" font-weight="normal">10</text>
<text x="557.8" y="303.5" font-size="9.2" text-anchor="end" fill="#222" font-weight="normal">5</text>
<text x="557.8" y="333.4" font-size="9.2" text-anchor="end" fill="#222" font-weight="normal">0</text>
<path d="M560.8,269.6 h-2 M560.8,300.3 h-2 M560.8,330.2 h-2 M574.65,332.4 v2 M597.45,332.4 v2" stroke="#222" stroke-width="0.7"/>
<text x="563.3" y="280.4" font-size="11" text-anchor="start" fill="#111" font-weight="normal">(2)</text>
<text transform="translate(539.5,299.4) rotate(-90)" font-size="10.6" text-anchor="middle" fill="#222">log<tspan font-size="6.8" dy="2.6">10</tspan><tspan dy="-2.6">(count)</tspan></text>
<text x="62" y="127" font-size="11" text-anchor="start" fill="#111" font-weight="normal">(7)</text>
<text x="269" y="174.3" font-size="11" text-anchor="start" fill="#111" font-weight="normal">(3)</text>
<text x="301.4" y="276" font-size="11" text-anchor="start" fill="#111" font-weight="normal">(4)</text>
<text x="62" y="377" font-size="11" text-anchor="start" fill="#111" font-weight="normal">(6)</text>
<text x="381" y="203" font-size="11" text-anchor="start" fill="#111" font-weight="normal">(5)</text>
<text x="443" y="266" font-size="11" text-anchor="start" fill="#111" font-weight="normal">(9)</text>
<text x="605" y="178.3" font-size="11" text-anchor="start" fill="#111" font-weight="normal">(1)</text>
<text x="545" y="253.5" font-size="11" text-anchor="start" fill="#111" font-weight="normal">(8)</text>
<text x="612" y="276" font-size="11" text-anchor="start" fill="#111" font-weight="normal">(2)</text>
<rect x="100.90" y="605" width="10.2" height="23.30" fill="#f2aca6"/>
<rect x="111.92" y="611.7" width="10.2" height="16.60" fill="#f2aca6"/>
<rect x="122.94" y="599" width="10.2" height="29.30" fill="#f2aca6"/>
<rect x="133.96" y="617.8" width="10.2" height="10.50" fill="#f2aca6"/>
<rect x="244.16" y="622.3" width="10.2" height="6.00" fill="#f2aca6"/>
<rect x="277.22" y="603.8" width="10.2" height="24.50" fill="#f2aca6"/>
<rect x="277.22" y="618" width="10.2" height="10.30" fill="#f0736a"/>
<rect x="288.24" y="574.4" width="10.2" height="53.90" fill="#f2aca6"/>
<rect x="288.24" y="607" width="10.2" height="21.30" fill="#f0736a"/>
<rect x="299.26" y="573.2" width="10.2" height="55.10" fill="#f2aca6"/>
<rect x="299.26" y="607" width="10.2" height="21.30" fill="#f0736a"/>
<rect x="310.28" y="563.9" width="10.2" height="64.40" fill="#f2aca6"/>
<rect x="310.28" y="604" width="10.2" height="24.30" fill="#f0736a"/>
<rect x="321.30" y="551.5" width="10.2" height="76.80" fill="#f2aca6"/>
<rect x="321.30" y="597.8" width="10.2" height="30.50" fill="#f0736a"/>
<rect x="332.32" y="565" width="10.2" height="63.30" fill="#f2aca6"/>
<rect x="332.32" y="602.4" width="10.2" height="25.90" fill="#f0736a"/>
<rect x="343.34" y="556.2" width="10.2" height="72.10" fill="#f2aca6"/>
<rect x="343.34" y="598" width="10.2" height="30.30" fill="#f0736a"/>
<rect x="354.36" y="548.2" width="10.2" height="80.10" fill="#f2aca6"/>
<rect x="354.36" y="593" width="10.2" height="35.30" fill="#f0736a"/>
<rect x="365.38" y="551.5" width="10.2" height="76.80" fill="#f2aca6"/>
<rect x="365.38" y="595.2" width="10.2" height="33.10" fill="#f0736a"/>
<rect x="376.40" y="551.3" width="10.2" height="77.00" fill="#f2aca6"/>
<rect x="376.40" y="597" width="10.2" height="31.30" fill="#f0736a"/>
<rect x="387.42" y="556.4" width="10.2" height="71.90" fill="#f2aca6"/>
<rect x="387.42" y="598" width="10.2" height="30.30" fill="#f0736a"/>
<rect x="398.44" y="554" width="10.2" height="74.30" fill="#f2aca6"/>
<rect x="398.44" y="596.8" width="10.2" height="31.50" fill="#f0736a"/>
<rect x="409.46" y="557.1" width="10.2" height="71.20" fill="#f2aca6"/>
<rect x="409.46" y="599" width="10.2" height="29.30" fill="#f0736a"/>
<rect x="420.48" y="546.8" width="10.2" height="81.50" fill="#f2aca6"/>
<rect x="420.48" y="596.1" width="10.2" height="32.20" fill="#f0736a"/>
<rect x="431.50" y="554.8" width="10.2" height="73.50" fill="#f2aca6"/>
<rect x="431.50" y="598" width="10.2" height="30.30" fill="#f0736a"/>
<rect x="442.52" y="553.8" width="10.2" height="74.50" fill="#f2aca6"/>
<rect x="442.52" y="598" width="10.2" height="30.30" fill="#f0736a"/>
<rect x="453.54" y="550.3" width="10.2" height="78.00" fill="#f2aca6"/>
<rect x="453.54" y="596.1" width="10.2" height="32.20" fill="#f0736a"/>
<rect x="464.56" y="549.4" width="10.2" height="78.90" fill="#f2aca6"/>
<rect x="464.56" y="596.1" width="10.2" height="32.20" fill="#f0736a"/>
<rect x="475.58" y="551.5" width="10.2" height="76.80" fill="#f2aca6"/>
<rect x="475.58" y="597" width="10.2" height="31.30" fill="#f0736a"/>
<rect x="486.60" y="552" width="10.2" height="76.30" fill="#f2aca6"/>
<rect x="486.60" y="596.8" width="10.2" height="31.50" fill="#f0736a"/>
<rect x="497.62" y="551" width="10.2" height="77.30" fill="#f2aca6"/>
<rect x="497.62" y="595.7" width="10.2" height="32.60" fill="#f0736a"/>
<rect x="508.64" y="559" width="10.2" height="69.30" fill="#f2aca6"/>
<rect x="508.64" y="599.6" width="10.2" height="28.70" fill="#f0736a"/>
<rect x="519.66" y="563.9" width="10.2" height="64.40" fill="#f2aca6"/>
<rect x="519.66" y="602.9" width="10.2" height="25.40" fill="#f0736a"/>
<rect x="530.68" y="576.3" width="10.2" height="52.00" fill="#f2aca6"/>
<rect x="530.68" y="605" width="10.2" height="23.30" fill="#f0736a"/>
<rect x="541.70" y="575.3" width="10.2" height="53.00" fill="#f2aca6"/>
<rect x="541.70" y="604" width="10.2" height="24.30" fill="#f0736a"/>
<rect x="552.72" y="573" width="10.2" height="55.30" fill="#f2aca6"/>
<rect x="552.72" y="604" width="10.2" height="24.30" fill="#f0736a"/>
<rect x="563.74" y="570" width="10.2" height="58.30" fill="#f2aca6"/>
<rect x="563.74" y="604.8" width="10.2" height="23.50" fill="#f0736a"/>
<rect x="574.76" y="575.8" width="10.2" height="52.50" fill="#f2aca6"/>
<rect x="574.76" y="604.3" width="10.2" height="24.00" fill="#f0736a"/>
<rect x="585.78" y="569.3" width="10.2" height="59.00" fill="#f2aca6"/>
<rect x="585.78" y="605" width="10.2" height="23.30" fill="#f0736a"/>
<rect x="596.80" y="568.8" width="10.2" height="59.50" fill="#f2aca6"/>
<rect x="596.80" y="604" width="10.2" height="24.30" fill="#f0736a"/>
<rect x="607.82" y="559.6" width="10.2" height="68.70" fill="#f2aca6"/>
<rect x="607.82" y="604.8" width="10.2" height="23.50" fill="#f0736a"/>
<rect x="618.84" y="589" width="10.2" height="39.30" fill="#f2aca6"/>
<rect x="618.84" y="617" width="10.2" height="11.30" fill="#f0736a"/>
<rect x="629.86" y="597.4" width="10.2" height="30.90" fill="#f2aca6"/>
<rect x="100.90" y="628.3" width="10.2" height="73.00" fill="#93c2df"/>
<rect x="100.90" y="628.3" width="10.2" height="38.20" fill="#4a93c6"/>
<rect x="111.92" y="628.3" width="10.2" height="77.90" fill="#93c2df"/>
<rect x="111.92" y="628.3" width="10.2" height="39.60" fill="#4a93c6"/>
<rect x="122.94" y="628.3" width="10.2" height="73.90" fill="#93c2df"/>
<rect x="122.94" y="628.3" width="10.2" height="38.40" fill="#4a93c6"/>
<rect x="156.00" y="628.3" width="10.2" height="71.60" fill="#93c2df"/>
<rect x="156.00" y="628.3" width="10.2" height="33.70" fill="#4a93c6"/>
<rect x="167.02" y="628.3" width="10.2" height="66.90" fill="#93c2df"/>
<rect x="167.02" y="628.3" width="10.2" height="34.40" fill="#4a93c6"/>
<rect x="189.06" y="628.3" width="10.2" height="78.80" fill="#93c2df"/>
<rect x="189.06" y="628.3" width="10.2" height="38.40" fill="#4a93c6"/>
<rect x="200.08" y="628.3" width="10.2" height="89.30" fill="#93c2df"/>
<rect x="200.08" y="628.3" width="10.2" height="45.70" fill="#4a93c6"/>
<rect x="211.10" y="628.3" width="10.2" height="81.70" fill="#93c2df"/>
<rect x="211.10" y="628.3" width="10.2" height="41.50" fill="#4a93c6"/>
<rect x="222.12" y="628.3" width="10.2" height="87.90" fill="#93c2df"/>
<rect x="222.12" y="628.3" width="10.2" height="45.00" fill="#4a93c6"/>
<rect x="233.14" y="628.3" width="10.2" height="89.30" fill="#93c2df"/>
<rect x="233.14" y="628.3" width="10.2" height="44.70" fill="#4a93c6"/>
<rect x="244.16" y="628.3" width="10.2" height="90.30" fill="#93c2df"/>
<rect x="244.16" y="628.3" width="10.2" height="45.90" fill="#4a93c6"/>
<rect x="255.18" y="628.3" width="10.2" height="81.20" fill="#93c2df"/>
<rect x="255.18" y="628.3" width="10.2" height="40.50" fill="#4a93c6"/>
<rect x="266.20" y="628.3" width="10.2" height="87.70" fill="#93c2df"/>
<rect x="266.20" y="628.3" width="10.2" height="44.00" fill="#4a93c6"/>
<rect x="277.22" y="628.3" width="10.2" height="86.30" fill="#93c2df"/>
<rect x="277.22" y="628.3" width="10.2" height="44.30" fill="#4a93c6"/>
<rect x="288.24" y="628.3" width="10.2" height="96.80" fill="#93c2df"/>
<rect x="288.24" y="628.3" width="10.2" height="48.00" fill="#4a93c6"/>
<rect x="299.26" y="628.3" width="10.2" height="88.20" fill="#93c2df"/>
<rect x="299.26" y="628.3" width="10.2" height="44.00" fill="#4a93c6"/>
<rect x="310.28" y="628.3" width="10.2" height="98.40" fill="#93c2df"/>
<rect x="310.28" y="628.3" width="10.2" height="50.30" fill="#4a93c6"/>
<rect x="321.30" y="628.3" width="10.2" height="106.70" fill="#93c2df"/>
<rect x="321.30" y="628.3" width="10.2" height="52.70" fill="#4a93c6"/>
<rect x="332.32" y="628.3" width="10.2" height="108.50" fill="#93c2df"/>
<rect x="332.32" y="628.3" width="10.2" height="54.30" fill="#4a93c6"/>
<rect x="343.34" y="628.3" width="10.2" height="108.50" fill="#93c2df"/>
<rect x="343.34" y="628.3" width="10.2" height="54.50" fill="#4a93c6"/>
<rect x="354.36" y="628.3" width="10.2" height="109.20" fill="#93c2df"/>
<rect x="354.36" y="628.3" width="10.2" height="55.20" fill="#4a93c6"/>
<rect x="365.38" y="628.3" width="10.2" height="106.70" fill="#93c2df"/>
<rect x="365.38" y="628.3" width="10.2" height="53.60" fill="#4a93c6"/>
<rect x="376.40" y="628.3" width="10.2" height="105.50" fill="#93c2df"/>
<rect x="376.40" y="628.3" width="10.2" height="52.20" fill="#4a93c6"/>
<rect x="387.42" y="628.3" width="10.2" height="100.60" fill="#93c2df"/>
<rect x="387.42" y="628.3" width="10.2" height="49.40" fill="#4a93c6"/>
<rect x="398.44" y="628.3" width="10.2" height="99.40" fill="#93c2df"/>
<rect x="398.44" y="628.3" width="10.2" height="48.50" fill="#4a93c6"/>
<rect x="409.46" y="628.3" width="10.2" height="99.40" fill="#93c2df"/>
<rect x="409.46" y="628.3" width="10.2" height="48.70" fill="#4a93c6"/>
<rect x="420.48" y="628.3" width="10.2" height="101.50" fill="#93c2df"/>
<rect x="420.48" y="628.3" width="10.2" height="50.60" fill="#4a93c6"/>
<rect x="431.50" y="628.3" width="10.2" height="106.20" fill="#93c2df"/>
<rect x="431.50" y="628.3" width="10.2" height="51.70" fill="#4a93c6"/>
<rect x="442.52" y="628.3" width="10.2" height="108.30" fill="#93c2df"/>
<rect x="442.52" y="628.3" width="10.2" height="53.60" fill="#4a93c6"/>
<rect x="453.54" y="628.3" width="10.2" height="106.40" fill="#93c2df"/>
<rect x="453.54" y="628.3" width="10.2" height="52.40" fill="#4a93c6"/>
<rect x="464.56" y="628.3" width="10.2" height="105.70" fill="#93c2df"/>
<rect x="464.56" y="628.3" width="10.2" height="53.40" fill="#4a93c6"/>
<rect x="475.58" y="628.3" width="10.2" height="105.00" fill="#93c2df"/>
<rect x="475.58" y="628.3" width="10.2" height="51.70" fill="#4a93c6"/>
<rect x="486.60" y="628.3" width="10.2" height="108.30" fill="#93c2df"/>
<rect x="486.60" y="628.3" width="10.2" height="53.80" fill="#4a93c6"/>
<rect x="497.62" y="628.3" width="10.2" height="104.70" fill="#93c2df"/>
<rect x="497.62" y="628.3" width="10.2" height="51.70" fill="#4a93c6"/>
<rect x="508.64" y="628.3" width="10.2" height="106.90" fill="#93c2df"/>
<rect x="508.64" y="628.3" width="10.2" height="53.60" fill="#4a93c6"/>
<rect x="519.66" y="628.3" width="10.2" height="104.50" fill="#93c2df"/>
<rect x="519.66" y="628.3" width="10.2" height="52.70" fill="#4a93c6"/>
<rect x="530.68" y="628.3" width="10.2" height="105.50" fill="#93c2df"/>
<rect x="530.68" y="628.3" width="10.2" height="52.70" fill="#4a93c6"/>
<rect x="541.70" y="628.3" width="10.2" height="104.10" fill="#93c2df"/>
<rect x="541.70" y="628.3" width="10.2" height="52.00" fill="#4a93c6"/>
<rect x="552.72" y="628.3" width="10.2" height="103.40" fill="#93c2df"/>
<rect x="552.72" y="628.3" width="10.2" height="51.50" fill="#4a93c6"/>
<rect x="563.74" y="628.3" width="10.2" height="101.30" fill="#93c2df"/>
<rect x="563.74" y="628.3" width="10.2" height="50.80" fill="#4a93c6"/>
<rect x="574.76" y="628.3" width="10.2" height="103.40" fill="#93c2df"/>
<rect x="574.76" y="628.3" width="10.2" height="51.50" fill="#4a93c6"/>
<rect x="585.78" y="628.3" width="10.2" height="105.70" fill="#93c2df"/>
<rect x="585.78" y="628.3" width="10.2" height="52.90" fill="#4a93c6"/>
<rect x="596.80" y="628.3" width="10.2" height="100.30" fill="#93c2df"/>
<rect x="596.80" y="628.3" width="10.2" height="50.80" fill="#4a93c6"/>
<rect x="607.82" y="628.3" width="10.2" height="100.30" fill="#93c2df"/>
<rect x="607.82" y="628.3" width="10.2" height="50.80" fill="#4a93c6"/>
<rect x="618.84" y="628.3" width="10.2" height="82.30" fill="#93c2df"/>
<rect x="618.84" y="628.3" width="10.2" height="41.50" fill="#4a93c6"/>
<rect x="629.86" y="628.3" width="10.2" height="64.80" fill="#93c2df"/>
<rect x="629.86" y="628.3" width="10.2" height="33.70" fill="#4a93c6"/>
<path d="M62.5,628.3 H668" stroke="#bdbdbd" stroke-width="2.6" stroke-dasharray="8.2 8"/>
<rect x="62.5" y="484" width="605.5" height="300" fill="none" stroke="#333" stroke-width="1.1"/>
<text x="48.5" y="502.0" font-size="10" text-anchor="end" fill="#333" font-weight="normal">10</text>
<text x="48.5" y="566.9" font-size="10" text-anchor="end" fill="#333" font-weight="normal">5</text>
<text x="48.5" y="632.0" font-size="10" text-anchor="end" fill="#333" font-weight="normal">0</text>
<text x="48.5" y="697.1" font-size="10" text-anchor="end" fill="#333" font-weight="normal">5</text>
<text x="48.5" y="762.2" font-size="10" text-anchor="end" fill="#333" font-weight="normal">10</text>
<text x="83.96" y="805.6" font-size="10.8" text-anchor="middle" fill="#333" font-weight="normal" textLength="22" lengthAdjust="spacingAndGlyphs">1970</text>
<text x="194.15999999999997" y="805.6" font-size="10.8" text-anchor="middle" fill="#333" font-weight="normal" textLength="22" lengthAdjust="spacingAndGlyphs">1980</text>
<text x="304.35999999999996" y="805.6" font-size="10.8" text-anchor="middle" fill="#333" font-weight="normal" textLength="22" lengthAdjust="spacingAndGlyphs">1990</text>
<text x="414.55999999999995" y="805.6" font-size="10.8" text-anchor="middle" fill="#333" font-weight="normal" textLength="22" lengthAdjust="spacingAndGlyphs">2000</text>
<text x="524.76" y="805.6" font-size="10.8" text-anchor="middle" fill="#333" font-weight="normal" textLength="22" lengthAdjust="spacingAndGlyphs">2010</text>
<text x="634.96" y="805.6" font-size="10.8" text-anchor="middle" fill="#333" font-weight="normal" textLength="22" lengthAdjust="spacingAndGlyphs">2020</text>
<path d="M62.5,498.5 h-7 M62.5,563.4 h-7 M62.5,628.5 h-7 M62.5,693.6 h-7 M62.5,758.7 h-7 M83.96,784 v7 M194.16,784 v7 M304.36,784 v7 M414.56,784 v7 M524.76,784 v7 M634.96,784 v7 " stroke="#333" stroke-width="1.1"/>
<text x="365.5" y="824.6" font-size="11.8" text-anchor="middle" fill="#222" font-weight="normal">Year</text>
<text transform="translate(26,628) rotate(-90)" font-size="11.2" text-anchor="middle" fill="#222">log<tspan font-size="7.5" dy="3">10</tspan><tspan dy="-3">(count)</tspan></text>
<text x="71" y="505.3" font-size="11.2" text-anchor="start" fill="#222" font-weight="normal" textLength="47" lengthAdjust="spacingAndGlyphs">Plankton</text>
<use href="#bact" x="73" y="512.5" width="47" height="43"/>
<rect x="126" y="509.2" width="22.2" height="21.3" fill="#f2aca6"/>
<rect x="126" y="533.1" width="22.2" height="21.9" fill="#f0736a"/>
<text x="155.2" y="524.2" font-size="11.2" text-anchor="start" fill="#222" font-weight="normal" textLength="117" lengthAdjust="spacingAndGlyphs">0 m ≤ depth ≤ 200 m</text>
<text x="155.2" y="548.2" font-size="11.2" text-anchor="start" fill="#222" font-weight="normal" textLength="142" lengthAdjust="spacingAndGlyphs">200 m &lt; depth ≤ 1,000 m</text>
<text x="70.6" y="724.2" font-size="11.2" text-anchor="start" fill="#222" font-weight="normal" textLength="34" lengthAdjust="spacingAndGlyphs">Ocean</text>
<g transform="translate(71,732.3) scale(0.95)"><path d="M26.7,1 C28,6 33.7,10.5 33.7,15.5 A7,7 0 0 1 19.7,15.5 C19.7,10.5 25.4,6 26.7,1Z" fill="#e4eef5"/><path d="M5.00,29.50 L5.75,28.93 L6.50,28.40 L7.25,27.95 L8.00,27.63 L8.75,27.44 L9.50,27.41 L10.25,27.53 L11.00,27.81 L11.75,28.21 L12.50,28.71 L13.25,29.27 L14.00,29.85 L14.75,30.40 L15.50,30.88 L16.25,31.26 L17.00,31.50 L17.75,31.60 L18.50,31.54 L19.25,31.32 L20.00,30.96 L20.75,30.50 L21.50,29.96 L22.25,29.38 L23.00,28.82 L23.75,28.30 L24.50,27.88 L25.25,27.58 L26.00,27.42 L26.75,27.42 L27.50,27.58 L28.25,27.88 L29.00,28.30 L29.75,28.82 L30.50,29.38 L31.25,29.96 L32.00,30.50 L32.75,30.96 L33.50,31.32 L34.25,31.54 L35.00,31.60 L35.75,31.50 L36.50,31.26 L37.25,30.88 L38.00,30.40 L38.75,29.85 L39.50,29.27 L40.25,28.71 L41.00,28.21 L41.75,27.81 L42.50,27.53 L43.25,27.41 L44.00,27.44 L44.75,27.63 L45.50,27.95 L46.25,28.40 L47.00,28.93 L47.75,29.50 L48.50,30.07 L49.25,30.60 L50.00,31.05" fill="none" stroke="#e3edf4" stroke-width="3" stroke-linecap="round"/><path d="M5.00,38.00 L5.75,37.43 L6.50,36.90 L7.25,36.45 L8.00,36.13 L8.75,35.94 L9.50,35.91 L10.25,36.03 L11.00,36.31 L11.75,36.71 L12.50,37.21 L13.25,37.77 L14.00,38.35 L14.75,38.90 L15.50,39.38 L16.25,39.76 L17.00,40.00 L17.75,40.10 L18.50,40.04 L19.25,39.82 L20.00,39.46 L20.75,39.00 L21.50,38.46 L22.25,37.88 L23.00,37.32 L23.75,36.80 L24.50,36.38 L25.25,36.08 L26.00,35.92 L26.75,35.92 L27.50,36.08 L28.25,36.38 L29.00,36.80 L29.75,37.32 L30.50,37.88 L31.25,38.46 L32.00,39.00 L32.75,39.46 L33.50,39.82 L34.25,40.04 L35.00,40.10 L35.75,40.00 L36.50,39.76 L37.25,39.38 L38.00,38.90 L38.75,38.35 L39.50,37.77 L40.25,37.21 L41.00,36.71 L41.75,36.31 L42.50,36.03 L43.25,35.91 L44.00,35.94 L44.75,36.13 L45.50,36.45 L46.25,36.90 L47.00,37.43 L47.75,38.00 L48.50,38.57 L49.25,39.10 L50.00,39.55" fill="none" stroke="#e3edf4" stroke-width="3" stroke-linecap="round"/><path d="M1.10,25.70 L1.85,25.13 L2.60,24.60 L3.36,24.15 L4.11,23.82 L4.86,23.64 L5.61,23.61 L6.36,23.74 L7.11,24.01 L7.87,24.42 L8.62,24.92 L9.37,25.48 L10.12,26.06 L10.87,26.61 L11.62,27.09 L12.38,27.47 L13.13,27.71 L13.88,27.80 L14.63,27.73 L15.38,27.51 L16.13,27.15 L16.89,26.68 L17.64,26.13 L18.39,25.55 L19.14,24.99 L19.89,24.48 L20.64,24.06 L21.40,23.76 L22.15,23.62 L22.90,23.63 L23.65,23.79 L24.40,24.10 L25.15,24.54 L25.91,25.06 L26.66,25.63 L27.41,26.20 L28.16,26.74 L28.91,27.20 L29.66,27.54 L30.42,27.75 L31.17,27.80 L31.92,27.69 L32.67,27.43 L33.42,27.04 L34.17,26.54 L34.93,25.99 L35.68,25.41 L36.43,24.85 L37.18,24.36 L37.93,23.97 L38.68,23.71 L39.44,23.60 L40.19,23.65 L40.94,23.86 L41.69,24.20 L42.44,24.66 L43.19,25.20 L43.95,25.77 L44.70,26.34 L45.45,26.86 L46.20,27.30" fill="none" stroke="#2a7ca5" stroke-width="3.2" stroke-linecap="round"/><path d="M1.10,33.70 L1.85,33.13 L2.60,32.60 L3.36,32.15 L4.11,31.82 L4.86,31.64 L5.61,31.61 L6.36,31.74 L7.11,32.01 L7.87,32.42 L8.62,32.92 L9.37,33.48 L10.12,34.06 L10.87,34.61 L11.62,35.09 L12.38,35.47 L13.13,35.71 L13.88,35.80 L14.63,35.73 L15.38,35.51 L16.13,35.15 L16.89,34.68 L17.64,34.13 L18.39,33.55 L19.14,32.99 L19.89,32.48 L20.64,32.06 L21.40,31.76 L22.15,31.62 L22.90,31.63 L23.65,31.79 L24.40,32.10 L25.15,32.54 L25.91,33.06 L26.66,33.63 L27.41,34.20 L28.16,34.74 L28.91,35.20 L29.66,35.54 L30.42,35.75 L31.17,35.80 L31.92,35.69 L32.67,35.43 L33.42,35.04 L34.17,34.54 L34.93,33.99 L35.68,33.41 L36.43,32.85 L37.18,32.36 L37.93,31.97 L38.68,31.71 L39.44,31.60 L40.19,31.65 L40.94,31.86 L41.69,32.20 L42.44,32.66 L43.19,33.20 L43.95,33.77 L44.70,34.34 L45.45,34.86 L46.20,35.30" fill="none" stroke="#2a7ca5" stroke-width="3.2" stroke-linecap="round"/></g>
<rect x="126.4" y="728" width="22" height="21.7" fill="#93c2df"/>
<rect x="126.4" y="752.4" width="22" height="21.6" fill="#4a93c6"/>
<text x="154.9" y="743.2" font-size="11.2" text-anchor="start" fill="#222" font-weight="normal" textLength="117" lengthAdjust="spacingAndGlyphs">0 m ≤ depth ≤ 200 m</text>
<text x="154.9" y="767.4" font-size="11.2" text-anchor="start" fill="#222" font-weight="normal" textLength="142" lengthAdjust="spacingAndGlyphs">200 m &lt; depth ≤ 1,000 m</text>
<polygon points="115.5,1107.1 211.9,1078.0 327.8,1090.0 275.8,1139.1" fill="#ebebeb"/>
<polygon points="117.6,936.1 212.6,964.6 327.6,950.5 276.4,901.0" fill="#ebebeb"/>
<polygon points="115.5,1107.1 117.6,936.1 212.6,964.6 211.9,1078.0" fill="#ebebeb"/>
<polygon points="211.9,1078.0 212.6,964.6 327.6,950.5 327.8,1090.0" fill="#ebebeb"/>
<path d="M142.7,1112.5 L233.7,1080.3 M144.7,930.1 L234.3,961.9 M233.7,1080.3 L234.3,961.9 M173.9,1118.7 L257.5,1082.7 M175.6,923.3 L258.0,959.0 M257.5,1082.7 L258.0,959.0 M209.9,1125.9 L283.6,1085.4 M211.3,915.4 L283.9,955.9 M283.6,1085.4 L283.9,955.9 M252.0,1134.3 L312.3,1088.4 M252.9,906.2 L312.3,952.4 M312.3,1088.4 L312.3,952.4 M134.9,1101.2 L287.4,1128.2 M136.7,941.8 L287.7,912.0 M134.9,1101.2 L136.7,941.8 M151.8,1096.1 L297.0,1119.1 M153.3,946.8 L297.1,921.1 M151.8,1096.1 L153.3,946.8 M166.7,1091.6 L305.0,1111.5 M168.0,951.2 L305.1,928.8 M166.7,1091.6 L168.0,951.2 M179.9,1087.6 L312.0,1105.0 M181.0,955.1 L312.0,935.4 M179.9,1087.6 L181.0,955.1 M191.7,1084.1 L318.0,1099.3 M192.7,958.6 L317.9,941.1 M191.7,1084.1 L192.7,958.6 M202.3,1080.9 L323.2,1094.4 M203.1,961.7 L323.1,946.1 M202.3,1080.9 L203.1,961.7 M116.0,1068.7 L212.0,1052.7 M212.0,1052.7 L327.8,1058.8 M116.4,1030.6 L212.2,1027.4 M212.2,1027.4 L327.7,1027.7 M116.9,992.7 L212.4,1002.2 M212.4,1002.2 L327.7,996.7 M117.4,954.9 L212.5,977.1 M212.5,977.1 L327.7,965.9 " stroke="#fff" stroke-width="1.7" fill="none"/>
<path d="M115.5,1107.1 L211.9,1078.0 M211.9,1078.0 L327.8,1090.0 M117.6,936.1 L212.6,964.6 M212.6,964.6 L327.6,950.5 M115.5,1107.1 L117.6,936.1 M211.9,1078.0 L212.6,964.6 M327.8,1090.0 L327.6,950.5 M115.5,1107.1 L275.8,1139.1 M275.8,1139.1 L327.8,1090.0 M117.6,936.1 L276.4,901.0 M276.4,901.0 L327.6,950.5 " stroke="#b5b5b5" stroke-width="0.8" fill="none"/>
<polygon points="441.4,1104.7 533.8,1079.0 650.3,1094.5 598.4,1141.8" fill="#f2f2f2"/>
<polygon points="441.2,935.6 533.8,964.8 650.4,951.5 598.5,900.8" fill="#f2f2f2"/>
<polygon points="441.4,1104.7 441.2,935.6 533.8,964.8 533.8,1079.0" fill="#f2f2f2"/>
<polygon points="533.8,1079.0 533.8,964.8 650.4,951.5 650.3,1094.5" fill="#f2f2f2"/>
<path d="M460.7,1109.3 L549.8,1081.1 M460.6,931.3 L549.8,963.0 M549.8,1081.1 L549.8,963.0 M482.2,1114.4 L567.0,1083.4 M482.0,926.6 L567.1,961.0 M567.0,1083.4 L567.1,961.0 M506.1,1120.0 L585.5,1085.9 M506.0,921.3 L585.6,958.9 M585.5,1085.9 L585.6,958.9 M533.1,1126.4 L605.4,1088.5 M533.0,915.3 L605.5,956.6 M605.4,1088.5 L605.5,956.6 M563.6,1133.6 L627.0,1091.4 M563.6,908.5 L627.0,954.2 M627.0,1091.4 L627.0,954.2 M468.9,1097.1 L615.3,1126.5 M468.7,944.3 L615.4,917.3 M468.9,1097.1 L468.7,944.3 M491.5,1090.8 L628.2,1114.7 M491.4,951.4 L628.3,929.9 M491.5,1090.8 L491.4,951.4 M510.5,1085.5 L638.4,1105.3 M510.4,957.4 L638.5,939.9 M510.5,1085.5 L510.4,957.4 M526.6,1081.0 L646.7,1097.8 M526.6,962.5 L646.8,948.0 M526.6,1081.0 L526.6,962.5 M441.4,1080.9 L533.8,1062.9 M533.8,1062.9 L650.3,1074.4 M441.3,1057.1 L533.8,1046.8 M533.8,1046.8 L650.3,1054.3 M441.3,1033.3 L533.8,1030.8 M533.8,1030.8 L650.4,1034.1 M441.3,1009.5 L533.8,1014.7 M533.8,1014.7 L650.4,1014.0 M441.3,985.7 L533.8,998.6 M533.8,998.6 L650.4,993.8 M441.2,961.8 L533.8,982.5 M533.8,982.5 L650.4,973.7 M441.2,938.0 L533.8,966.4 M533.8,966.4 L650.4,953.5 " stroke="#fff" stroke-width="1.7" fill="none"/>
<path d="M441.4,1104.7 L533.8,1079.0 M533.8,1079.0 L650.3,1094.5 M441.2,935.6 L533.8,964.8 M533.8,964.8 L650.4,951.5 M441.4,1104.7 L441.2,935.6 M533.8,1079.0 L533.8,964.8 M650.3,1094.5 L650.4,951.5 M441.4,1104.7 L598.4,1141.8 M598.4,1141.8 L650.3,1094.5 M441.2,935.6 L598.5,900.8 M598.5,900.8 L650.4,951.5 " stroke="#b5b5b5" stroke-width="0.8" fill="none"/>
<g fill="#8fb3e8" fill-opacity="0.15" stroke="#5b8fd9" stroke-opacity="0.5" stroke-width="0.7"><circle cx="157.3" cy="1029.5" r="1.7"/><circle cx="139.3" cy="1045.1" r="2.0"/><circle cx="131.4" cy="1063.5" r="1.9"/><circle cx="159.7" cy="1023.4" r="1.7"/><circle cx="134.1" cy="1072.2" r="1.8"/><circle cx="160.8" cy="1089.2" r="1.9"/><circle cx="160.6" cy="1091.9" r="1.9"/><circle cx="136.0" cy="1070.0" r="1.9"/><circle cx="165.8" cy="1012.2" r="1.7"/><circle cx="149.5" cy="1041.3" r="2.1"/><circle cx="121.1" cy="1092.4" r="1.8"/><circle cx="128.2" cy="1102.4" r="2.0"/><circle cx="161.0" cy="1075.9" r="2.1"/><circle cx="139.0" cy="1084.7" r="2.1"/><circle cx="145.9" cy="1039.9" r="1.8"/><circle cx="170.7" cy="1065.9" r="2.1"/><circle cx="186.5" cy="1076.4" r="1.9"/><circle cx="173.2" cy="1063.3" r="2.0"/><circle cx="146.4" cy="1031.1" r="1.8"/><circle cx="170.6" cy="1083.8" r="1.8"/><circle cx="126.0" cy="1068.8" r="1.9"/><circle cx="166.6" cy="1029.1" r="2.1"/><circle cx="182.1" cy="1010.6" r="1.9"/><circle cx="187.3" cy="1070.2" r="2.1"/><circle cx="133.4" cy="1084.0" r="2.0"/><circle cx="181.6" cy="1075.4" r="1.7"/><circle cx="149.7" cy="1042.3" r="2.1"/><circle cx="164.0" cy="1075.4" r="1.7"/><circle cx="195.3" cy="1009.7" r="1.8"/><circle cx="133.9" cy="1096.6" r="1.9"/><circle cx="178.4" cy="1046.2" r="2.1"/><circle cx="138.6" cy="1039.5" r="1.8"/><circle cx="140.3" cy="1054.1" r="1.8"/><circle cx="161.3" cy="1065.2" r="1.7"/><circle cx="144.4" cy="1062.1" r="1.7"/><circle cx="179.8" cy="1029.3" r="1.9"/><circle cx="130.9" cy="1052.7" r="1.9"/><circle cx="141.6" cy="1084.2" r="1.9"/><circle cx="146.1" cy="1069.7" r="1.7"/><circle cx="164.3" cy="1080.7" r="1.9"/><circle cx="161.9" cy="1076.4" r="1.9"/><circle cx="174.9" cy="1066.7" r="2.1"/><circle cx="155.5" cy="1074.5" r="1.8"/><circle cx="150.7" cy="1090.7" r="2.0"/><circle cx="167.0" cy="1042.4" r="1.9"/><circle cx="124.1" cy="1091.3" r="2.0"/><circle cx="177.3" cy="1080.8" r="1.9"/><circle cx="179.5" cy="1086.0" r="2.1"/><circle cx="139.6" cy="1048.5" r="2.0"/><circle cx="142.2" cy="1029.8" r="1.8"/><circle cx="177.6" cy="1017.7" r="1.9"/><circle cx="144.9" cy="1080.6" r="2.0"/><circle cx="182.5" cy="1078.6" r="1.8"/><circle cx="139.5" cy="1044.3" r="2.1"/><circle cx="140.6" cy="1083.2" r="1.9"/><circle cx="146.1" cy="1052.5" r="2.1"/><circle cx="178.8" cy="1072.4" r="1.8"/><circle cx="141.3" cy="1094.9" r="2.0"/><circle cx="189.7" cy="1040.5" r="1.9"/><circle cx="184.1" cy="1023.2" r="1.8"/><circle cx="185.1" cy="1071.6" r="1.9"/><circle cx="140.4" cy="1099.3" r="1.7"/><circle cx="164.2" cy="1089.2" r="1.8"/><circle cx="141.0" cy="1080.2" r="2.0"/><circle cx="144.2" cy="1065.3" r="1.9"/><circle cx="171.4" cy="1077.5" r="1.8"/><circle cx="178.9" cy="1072.9" r="1.8"/><circle cx="120.1" cy="1101.9" r="1.8"/><circle cx="135.1" cy="1076.4" r="1.8"/><circle cx="157.4" cy="1090.6" r="1.9"/><circle cx="142.1" cy="1029.7" r="1.7"/><circle cx="166.0" cy="1051.8" r="1.8"/><circle cx="128.4" cy="1093.3" r="1.9"/><circle cx="167.5" cy="1084.3" r="2.1"/><circle cx="134.6" cy="1060.2" r="2.0"/><circle cx="163.5" cy="1071.6" r="2.1"/><circle cx="156.2" cy="1068.9" r="1.8"/><circle cx="177.8" cy="1048.4" r="1.7"/><circle cx="194.1" cy="1007.5" r="2.0"/><circle cx="131.1" cy="1085.5" r="2.0"/><circle cx="157.5" cy="1045.4" r="1.8"/><circle cx="154.3" cy="1011.6" r="1.9"/><circle cx="124.6" cy="1102.7" r="2.1"/><circle cx="168.5" cy="1073.3" r="2.0"/><circle cx="195.9" cy="1044.0" r="2.1"/><circle cx="171.2" cy="1007.2" r="1.9"/><circle cx="125.2" cy="1083.6" r="1.8"/><circle cx="163.9" cy="1064.0" r="1.9"/><circle cx="184.0" cy="1045.9" r="1.7"/><circle cx="138.4" cy="1091.3" r="1.7"/><circle cx="144.1" cy="1051.7" r="1.7"/><circle cx="160.3" cy="1006.8" r="1.8"/><circle cx="160.9" cy="1051.6" r="1.8"/><circle cx="135.6" cy="1086.0" r="1.8"/><circle cx="154.0" cy="1068.7" r="2.0"/><circle cx="150.0" cy="1051.5" r="2.0"/><circle cx="142.1" cy="1075.3" r="1.7"/><circle cx="185.8" cy="1055.7" r="2.0"/><circle cx="170.2" cy="1053.4" r="2.0"/><circle cx="161.6" cy="1028.1" r="2.1"/><circle cx="153.4" cy="1043.3" r="1.8"/><circle cx="174.5" cy="1006.6" r="2.0"/><circle cx="167.7" cy="1031.2" r="1.9"/><circle cx="153.9" cy="1091.1" r="2.0"/><circle cx="182.4" cy="1076.5" r="2.1"/><circle cx="152.8" cy="1081.8" r="1.7"/><circle cx="171.7" cy="1075.1" r="2.0"/><circle cx="141.8" cy="1097.1" r="2.0"/><circle cx="142.2" cy="1094.5" r="2.0"/><circle cx="127.9" cy="1078.6" r="1.9"/><circle cx="130.3" cy="1052.6" r="1.9"/><circle cx="156.6" cy="1080.7" r="1.8"/><circle cx="148.3" cy="1086.0" r="2.0"/><circle cx="191.9" cy="1061.9" r="1.9"/><circle cx="128.6" cy="1087.4" r="1.9"/><circle cx="125.2" cy="1082.5" r="2.0"/><circle cx="128.7" cy="1093.4" r="1.7"/><circle cx="139.9" cy="1057.2" r="1.7"/><circle cx="125.0" cy="1074.4" r="1.7"/><circle cx="148.5" cy="1032.1" r="1.7"/><circle cx="194.9" cy="1016.6" r="2.0"/><circle cx="179.6" cy="1000.9" r="1.8"/><circle cx="179.8" cy="1034.3" r="1.9"/><circle cx="157.2" cy="1041.6" r="2.0"/><circle cx="159.4" cy="1027.1" r="1.8"/><circle cx="185.9" cy="1069.3" r="2.1"/><circle cx="166.4" cy="1064.0" r="2.1"/><circle cx="136.8" cy="1075.9" r="1.9"/><circle cx="180.6" cy="1036.2" r="1.9"/><circle cx="139.9" cy="1072.8" r="2.0"/><circle cx="145.0" cy="1049.8" r="2.1"/><circle cx="150.2" cy="1070.6" r="2.0"/><circle cx="193.0" cy="1035.1" r="1.9"/><circle cx="155.2" cy="1083.8" r="1.7"/><circle cx="173.4" cy="1070.1" r="2.0"/><circle cx="133.6" cy="1086.6" r="2.0"/><circle cx="142.9" cy="1070.0" r="2.0"/><circle cx="146.3" cy="1032.1" r="1.8"/><circle cx="160.7" cy="1083.8" r="2.0"/><circle cx="147.6" cy="1051.7" r="1.9"/><circle cx="129.6" cy="1102.2" r="1.9"/><circle cx="172.3" cy="1043.2" r="1.8"/><circle cx="164.5" cy="1013.7" r="1.7"/><circle cx="197.3" cy="1033.3" r="2.0"/><circle cx="126.5" cy="1067.8" r="1.8"/><circle cx="150.8" cy="1044.6" r="2.0"/><circle cx="153.3" cy="1080.9" r="1.8"/><circle cx="172.2" cy="1075.8" r="1.8"/><circle cx="146.6" cy="1017.1" r="2.0"/><circle cx="129.5" cy="1089.7" r="1.9"/><circle cx="184.8" cy="1068.8" r="2.1"/><circle cx="157.1" cy="1075.0" r="1.9"/><circle cx="162.8" cy="1044.4" r="2.1"/><circle cx="187.2" cy="1031.5" r="1.7"/><circle cx="159.0" cy="1088.7" r="1.7"/><circle cx="140.1" cy="1049.0" r="1.7"/><circle cx="179.3" cy="1070.6" r="2.1"/><circle cx="145.1" cy="1075.7" r="1.9"/><circle cx="170.8" cy="1057.6" r="2.0"/><circle cx="174.2" cy="1075.4" r="1.9"/><circle cx="176.7" cy="1024.1" r="2.1"/><circle cx="146.8" cy="1068.1" r="2.0"/><circle cx="179.7" cy="1075.5" r="1.9"/><circle cx="154.4" cy="1053.0" r="1.8"/><circle cx="183.6" cy="1044.2" r="1.9"/><circle cx="155.9" cy="1018.3" r="1.9"/><circle cx="130.8" cy="1088.4" r="1.8"/><circle cx="156.8" cy="1050.8" r="2.0"/><circle cx="156.1" cy="1040.7" r="2.0"/><circle cx="142.7" cy="1025.3" r="2.0"/><circle cx="162.2" cy="1030.5" r="1.8"/><circle cx="155.9" cy="1041.8" r="1.8"/><circle cx="173.6" cy="1060.9" r="2.0"/><circle cx="125.6" cy="1094.0" r="2.0"/><circle cx="124.3" cy="1095.0" r="2.0"/><circle cx="197.2" cy="1034.3" r="2.1"/><circle cx="146.7" cy="1017.7" r="1.8"/><circle cx="142.7" cy="1086.4" r="1.7"/><circle cx="143.7" cy="1038.4" r="1.8"/><circle cx="159.1" cy="1027.0" r="1.8"/><circle cx="178.4" cy="1081.7" r="1.7"/><circle cx="157.3" cy="1094.6" r="2.0"/><circle cx="181.0" cy="1066.4" r="1.9"/><circle cx="162.6" cy="1062.7" r="1.9"/><circle cx="121.1" cy="1099.9" r="2.0"/><circle cx="128.5" cy="1086.3" r="1.9"/><circle cx="122.1" cy="1086.5" r="2.1"/><circle cx="153.8" cy="1058.6" r="2.0"/><circle cx="148.2" cy="1078.9" r="1.9"/><circle cx="150.5" cy="1059.0" r="1.9"/><circle cx="156.9" cy="1078.7" r="1.9"/><circle cx="157.2" cy="1086.7" r="1.9"/><circle cx="140.6" cy="1086.6" r="2.0"/><circle cx="180.6" cy="1065.9" r="1.9"/><circle cx="132.7" cy="1050.7" r="1.8"/><circle cx="144.2" cy="1087.4" r="2.0"/><circle cx="170.6" cy="1033.1" r="1.9"/><circle cx="134.8" cy="1082.1" r="1.7"/><circle cx="144.2" cy="1052.2" r="2.0"/><circle cx="164.9" cy="1035.7" r="1.9"/><circle cx="135.6" cy="1043.1" r="2.1"/><circle cx="179.6" cy="1062.8" r="2.1"/><circle cx="155.6" cy="1008.8" r="1.7"/><circle cx="172.8" cy="1077.7" r="1.8"/><circle cx="180.6" cy="1072.1" r="2.0"/><circle cx="162.1" cy="1071.9" r="1.8"/><circle cx="160.1" cy="1003.4" r="2.0"/><circle cx="157.4" cy="1068.8" r="2.0"/><circle cx="158.7" cy="1034.1" r="2.1"/><circle cx="139.7" cy="1078.9" r="1.8"/><circle cx="173.3" cy="1087.5" r="2.0"/><circle cx="166.3" cy="1080.0" r="1.9"/><circle cx="181.2" cy="1049.5" r="2.0"/><circle cx="163.0" cy="1051.8" r="2.1"/><circle cx="182.8" cy="1026.5" r="1.8"/><circle cx="134.5" cy="1059.1" r="1.8"/><circle cx="132.2" cy="1080.1" r="2.0"/><circle cx="191.7" cy="1039.2" r="1.8"/><circle cx="158.5" cy="1034.9" r="1.9"/><circle cx="141.0" cy="1099.8" r="2.1"/><circle cx="133.9" cy="1080.1" r="2.0"/><circle cx="180.8" cy="1074.6" r="2.0"/><circle cx="125.0" cy="1081.1" r="1.7"/><circle cx="125.5" cy="1078.4" r="2.1"/><circle cx="126.3" cy="1081.9" r="1.9"/><circle cx="146.2" cy="1090.1" r="1.8"/><circle cx="153.6" cy="1066.1" r="1.7"/><circle cx="136.5" cy="1050.9" r="1.8"/><circle cx="137.8" cy="1098.9" r="1.7"/><circle cx="170.6" cy="1041.7" r="1.9"/><circle cx="181.9" cy="1054.7" r="1.9"/><circle cx="187.4" cy="1054.6" r="1.8"/><circle cx="182.0" cy="1045.5" r="2.0"/><circle cx="178.4" cy="1028.6" r="1.7"/><circle cx="156.7" cy="1026.8" r="1.9"/><circle cx="193.5" cy="1041.3" r="2.0"/><circle cx="150.8" cy="1027.6" r="2.0"/><circle cx="165.5" cy="1020.5" r="2.0"/><circle cx="126.4" cy="1081.9" r="1.9"/><circle cx="155.2" cy="1066.7" r="1.8"/><circle cx="152.3" cy="1058.0" r="1.9"/><circle cx="158.2" cy="1025.8" r="2.0"/><circle cx="134.3" cy="1062.8" r="2.0"/><circle cx="177.3" cy="1062.7" r="1.9"/><circle cx="147.8" cy="1050.0" r="2.1"/><circle cx="153.9" cy="1051.9" r="1.9"/><circle cx="118.8" cy="1101.8" r="2.0"/><circle cx="176.3" cy="1055.5" r="2.1"/><circle cx="137.1" cy="1064.5" r="1.8"/><circle cx="136.4" cy="1090.7" r="1.8"/><circle cx="171.0" cy="1030.7" r="2.1"/><circle cx="193.5" cy="1050.2" r="1.8"/><circle cx="140.8" cy="1068.4" r="1.9"/><circle cx="153.5" cy="1040.4" r="1.9"/><circle cx="157.2" cy="1093.5" r="2.0"/><circle cx="159.3" cy="1020.6" r="1.7"/><circle cx="155.5" cy="1056.4" r="1.9"/><circle cx="189.0" cy="1062.0" r="1.9"/><circle cx="152.0" cy="1025.5" r="1.7"/><circle cx="143.9" cy="1073.6" r="1.9"/><circle cx="127.2" cy="1068.3" r="2.0"/><circle cx="164.4" cy="1077.6" r="1.7"/><circle cx="135.7" cy="1077.6" r="1.8"/><circle cx="140.9" cy="1084.6" r="1.9"/><circle cx="154.9" cy="1091.6" r="1.9"/><circle cx="122.8" cy="1082.9" r="2.0"/><circle cx="153.3" cy="1033.3" r="1.8"/><circle cx="135.9" cy="1043.6" r="1.7"/><circle cx="159.1" cy="1070.9" r="1.8"/><circle cx="181.6" cy="1069.3" r="2.0"/><circle cx="190.5" cy="1049.2" r="1.9"/><circle cx="186.5" cy="1007.1" r="1.9"/><circle cx="161.2" cy="1039.7" r="2.0"/><circle cx="146.5" cy="1093.1" r="1.9"/><circle cx="173.5" cy="1084.6" r="1.8"/><circle cx="155.4" cy="1065.5" r="1.9"/><circle cx="142.7" cy="1062.8" r="2.1"/><circle cx="135.0" cy="1040.1" r="1.7"/><circle cx="169.3" cy="1018.1" r="2.0"/><circle cx="170.3" cy="1050.5" r="1.8"/><circle cx="164.9" cy="1065.8" r="2.0"/><circle cx="176.4" cy="1085.3" r="1.8"/><circle cx="148.6" cy="1080.5" r="2.0"/><circle cx="177.6" cy="1039.9" r="2.0"/><circle cx="154.8" cy="1086.8" r="1.7"/><circle cx="166.8" cy="1062.2" r="2.1"/><circle cx="148.2" cy="1022.4" r="1.7"/><circle cx="148.9" cy="1080.7" r="1.7"/><circle cx="131.7" cy="1085.6" r="2.0"/><circle cx="152.6" cy="1086.8" r="1.9"/><circle cx="151.7" cy="1055.1" r="1.7"/><circle cx="159.8" cy="1085.6" r="2.0"/><circle cx="125.4" cy="1093.6" r="1.9"/><circle cx="174.1" cy="1068.0" r="2.1"/><circle cx="135.9" cy="1096.7" r="2.1"/><circle cx="134.9" cy="1085.6" r="2.1"/><circle cx="171.5" cy="1075.8" r="1.9"/><circle cx="143.5" cy="1092.5" r="2.0"/><circle cx="153.6" cy="1073.3" r="2.0"/><circle cx="146.3" cy="1088.0" r="1.8"/><circle cx="137.1" cy="1056.9" r="2.0"/><circle cx="127.3" cy="1074.5" r="1.8"/><circle cx="170.9" cy="1030.8" r="1.9"/><circle cx="154.7" cy="1095.4" r="1.7"/><circle cx="126.2" cy="1094.1" r="1.8"/><circle cx="176.1" cy="1073.7" r="1.9"/><circle cx="179.3" cy="1062.5" r="2.0"/><circle cx="125.1" cy="1092.4" r="2.0"/><circle cx="153.6" cy="1070.0" r="1.8"/><circle cx="139.5" cy="1092.3" r="1.9"/><circle cx="150.4" cy="1078.0" r="1.8"/><circle cx="148.7" cy="1096.0" r="1.8"/><circle cx="138.2" cy="1093.6" r="1.8"/><circle cx="145.7" cy="1093.0" r="2.0"/><circle cx="160.2" cy="1065.2" r="2.1"/><circle cx="133.5" cy="1099.0" r="1.7"/><circle cx="184.7" cy="1067.4" r="1.8"/><circle cx="172.7" cy="1071.5" r="2.0"/><circle cx="131.9" cy="1068.2" r="1.9"/><circle cx="164.6" cy="1057.9" r="1.9"/><circle cx="174.5" cy="1068.3" r="2.0"/><circle cx="188.9" cy="1048.6" r="1.7"/><circle cx="154.9" cy="1032.0" r="2.1"/><circle cx="150.2" cy="1081.1" r="1.8"/><circle cx="134.8" cy="1095.7" r="2.0"/><circle cx="153.4" cy="1048.8" r="2.0"/><circle cx="142.1" cy="1068.0" r="2.0"/><circle cx="151.6" cy="1075.0" r="1.9"/><circle cx="182.8" cy="1076.8" r="2.0"/><circle cx="138.7" cy="1055.5" r="1.7"/><circle cx="187.0" cy="1061.0" r="1.9"/><circle cx="185.8" cy="1062.9" r="2.0"/><circle cx="153.7" cy="1087.0" r="1.8"/><circle cx="164.4" cy="1020.2" r="2.0"/><circle cx="179.2" cy="1030.3" r="1.9"/><circle cx="126.0" cy="1077.6" r="2.0"/><circle cx="179.2" cy="1080.9" r="2.0"/><circle cx="172.1" cy="1031.6" r="1.8"/><circle cx="180.5" cy="1086.3" r="1.9"/><circle cx="133.6" cy="1083.5" r="1.7"/><circle cx="154.7" cy="1071.9" r="2.0"/><circle cx="179.3" cy="1058.7" r="2.0"/><circle cx="170.9" cy="999.0" r="2.0"/><circle cx="149.4" cy="1053.0" r="2.0"/><circle cx="160.3" cy="1091.0" r="1.9"/><circle cx="160.7" cy="1080.4" r="1.8"/><circle cx="178.3" cy="1014.7" r="2.0"/><circle cx="164.7" cy="1063.2" r="1.8"/><circle cx="138.9" cy="1081.5" r="1.9"/><circle cx="142.5" cy="1029.4" r="1.7"/><circle cx="168.6" cy="1080.8" r="2.0"/><circle cx="162.9" cy="1055.5" r="1.9"/><circle cx="162.5" cy="1026.1" r="2.0"/><circle cx="169.9" cy="1040.7" r="1.8"/><circle cx="173.2" cy="1022.4" r="1.9"/><circle cx="129.4" cy="1099.6" r="2.0"/><circle cx="175.2" cy="1061.3" r="1.9"/><circle cx="119.0" cy="1099.3" r="2.0"/><circle cx="151.7" cy="1054.8" r="1.7"/><circle cx="138.9" cy="1082.5" r="1.8"/><circle cx="145.8" cy="1050.1" r="1.7"/><circle cx="147.7" cy="1042.4" r="2.0"/><circle cx="197.7" cy="1025.4" r="1.9"/><circle cx="184.2" cy="1030.6" r="2.0"/><circle cx="150.8" cy="1017.7" r="2.0"/><circle cx="172.3" cy="1083.2" r="1.7"/><circle cx="170.1" cy="1064.6" r="1.9"/><circle cx="164.4" cy="1027.2" r="2.0"/><circle cx="181.6" cy="1049.6" r="2.1"/><circle cx="124.8" cy="1082.1" r="1.7"/><circle cx="170.6" cy="1046.4" r="1.7"/><circle cx="152.4" cy="1038.4" r="1.9"/><circle cx="168.4" cy="1052.4" r="2.0"/><circle cx="201.4" cy="1022.4" r="1.7"/><circle cx="142.2" cy="1034.0" r="2.1"/><circle cx="154.2" cy="1087.7" r="2.0"/><circle cx="167.5" cy="1008.2" r="1.7"/><circle cx="144.2" cy="1046.3" r="2.0"/><circle cx="126.2" cy="1096.4" r="1.9"/><circle cx="141.2" cy="1074.4" r="1.8"/><circle cx="158.1" cy="1017.0" r="2.0"/><circle cx="169.2" cy="1041.2" r="2.0"/><circle cx="134.4" cy="1059.4" r="1.9"/><circle cx="151.7" cy="1080.0" r="1.8"/><circle cx="148.0" cy="1019.7" r="1.8"/><circle cx="147.8" cy="1035.9" r="1.7"/><circle cx="154.0" cy="1070.0" r="1.8"/><circle cx="198.9" cy="1012.3" r="1.8"/><circle cx="127.9" cy="1068.6" r="1.8"/><circle cx="172.9" cy="1024.6" r="1.7"/><circle cx="134.6" cy="1056.0" r="2.0"/><circle cx="130.5" cy="1090.1" r="1.8"/><circle cx="173.4" cy="1073.5" r="1.7"/><circle cx="167.8" cy="1032.4" r="1.8"/><circle cx="192.6" cy="1002.2" r="1.9"/><circle cx="164.5" cy="1035.0" r="1.9"/><circle cx="140.2" cy="1035.4" r="1.7"/><circle cx="134.5" cy="1091.4" r="1.8"/><circle cx="144.1" cy="1031.1" r="1.7"/><circle cx="150.4" cy="1034.8" r="1.9"/><circle cx="194.6" cy="1036.9" r="2.1"/><circle cx="165.8" cy="1070.2" r="2.0"/><circle cx="145.1" cy="1085.7" r="2.0"/><circle cx="163.3" cy="1060.5" r="2.1"/><circle cx="150.6" cy="1090.3" r="1.8"/><circle cx="138.1" cy="1091.0" r="2.0"/><circle cx="143.1" cy="1092.4" r="1.9"/><circle cx="129.5" cy="1080.9" r="1.8"/><circle cx="121.6" cy="1092.6" r="2.0"/><circle cx="160.7" cy="1086.2" r="1.9"/><circle cx="142.0" cy="1092.3" r="1.9"/><circle cx="172.3" cy="1076.8" r="1.8"/><circle cx="160.0" cy="1023.3" r="2.1"/><circle cx="122.4" cy="1095.6" r="2.0"/><circle cx="129.4" cy="1075.7" r="2.0"/><circle cx="161.0" cy="1028.5" r="2.0"/><circle cx="132.6" cy="1054.1" r="2.1"/><circle cx="160.0" cy="1081.2" r="1.8"/><circle cx="163.8" cy="1082.9" r="1.8"/><circle cx="163.8" cy="1044.6" r="2.1"/><circle cx="173.8" cy="1025.8" r="2.0"/><circle cx="150.1" cy="1047.1" r="2.1"/><circle cx="158.3" cy="1036.9" r="1.8"/><circle cx="141.5" cy="1060.9" r="2.1"/><circle cx="165.8" cy="1024.6" r="1.9"/><circle cx="136.8" cy="1070.0" r="2.0"/><circle cx="143.4" cy="1054.1" r="2.1"/><circle cx="146.5" cy="1071.5" r="1.9"/><circle cx="164.0" cy="1083.3" r="1.9"/><circle cx="143.0" cy="1038.8" r="1.9"/><circle cx="196.5" cy="1039.0" r="1.8"/><circle cx="157.7" cy="1044.2" r="1.7"/><circle cx="160.0" cy="1029.0" r="2.1"/><circle cx="148.0" cy="1076.9" r="2.0"/><circle cx="128.7" cy="1094.2" r="1.7"/><circle cx="131.6" cy="1047.5" r="1.9"/><circle cx="129.1" cy="1091.5" r="1.8"/><circle cx="152.0" cy="1093.3" r="2.0"/><circle cx="194.8" cy="1021.4" r="1.8"/><circle cx="161.1" cy="1083.5" r="1.7"/><circle cx="147.7" cy="1094.2" r="2.0"/><circle cx="142.5" cy="1026.5" r="2.1"/><circle cx="121.7" cy="1084.9" r="2.0"/><circle cx="162.7" cy="1061.8" r="2.1"/><circle cx="137.9" cy="1033.1" r="1.7"/><circle cx="157.1" cy="1030.3" r="1.8"/><circle cx="144.5" cy="1098.6" r="2.0"/><circle cx="149.8" cy="1055.9" r="1.9"/><circle cx="124.7" cy="1092.6" r="1.8"/><circle cx="156.1" cy="1089.1" r="1.8"/><circle cx="137.5" cy="1058.2" r="1.8"/><circle cx="153.1" cy="1093.5" r="2.0"/><circle cx="154.1" cy="1027.4" r="2.0"/><circle cx="144.4" cy="1035.0" r="2.0"/><circle cx="124.6" cy="1103.3" r="2.0"/><circle cx="140.0" cy="1077.1" r="2.0"/><circle cx="142.1" cy="1054.5" r="2.1"/><circle cx="146.2" cy="1098.3" r="1.8"/><circle cx="197.5" cy="1028.3" r="1.8"/><circle cx="126.5" cy="1072.2" r="2.1"/><circle cx="196.0" cy="1034.7" r="2.1"/><circle cx="149.8" cy="1066.5" r="2.0"/><circle cx="138.2" cy="1065.7" r="2.0"/><circle cx="190.0" cy="1028.4" r="2.0"/><circle cx="137.8" cy="1081.3" r="1.8"/><circle cx="147.8" cy="1065.2" r="1.9"/><circle cx="183.3" cy="1085.0" r="1.8"/><circle cx="128.1" cy="1077.6" r="1.7"/><circle cx="169.6" cy="1024.1" r="1.8"/><circle cx="156.9" cy="1014.6" r="2.0"/><circle cx="141.8" cy="1085.2" r="1.8"/><circle cx="124.3" cy="1096.4" r="1.7"/><circle cx="136.2" cy="1086.3" r="1.8"/><circle cx="161.8" cy="1064.9" r="2.0"/><circle cx="122.9" cy="1102.8" r="2.1"/><circle cx="129.8" cy="1056.5" r="1.8"/><circle cx="121.0" cy="1088.1" r="2.1"/><circle cx="129.3" cy="1085.9" r="1.9"/><circle cx="134.6" cy="1099.8" r="2.0"/><circle cx="183.0" cy="1039.5" r="2.0"/><circle cx="137.4" cy="1078.4" r="1.9"/><circle cx="130.7" cy="1091.2" r="2.0"/><circle cx="179.2" cy="1073.7" r="2.1"/><circle cx="136.5" cy="1041.5" r="1.9"/><circle cx="149.0" cy="1066.1" r="1.8"/><circle cx="172.8" cy="1006.3" r="2.1"/><circle cx="126.9" cy="1076.9" r="2.0"/><circle cx="188.2" cy="1042.1" r="1.8"/><circle cx="141.0" cy="1090.5" r="1.8"/><circle cx="130.9" cy="1080.8" r="1.9"/><circle cx="140.4" cy="1033.7" r="1.9"/><circle cx="139.9" cy="1070.0" r="2.0"/><circle cx="178.7" cy="1044.8" r="2.0"/><circle cx="156.2" cy="1030.6" r="1.9"/><circle cx="132.1" cy="1101.0" r="2.1"/><circle cx="181.6" cy="1044.2" r="1.9"/><circle cx="179.9" cy="1011.0" r="2.0"/><circle cx="170.4" cy="1071.8" r="1.7"/><circle cx="125.1" cy="1097.4" r="1.7"/><circle cx="186.4" cy="1007.5" r="2.0"/><circle cx="124.2" cy="1086.6" r="2.0"/><circle cx="177.2" cy="1024.1" r="1.8"/><circle cx="137.7" cy="1042.8" r="1.7"/><circle cx="132.4" cy="1091.9" r="1.7"/><circle cx="129.4" cy="1089.5" r="1.8"/><circle cx="161.1" cy="1091.1" r="2.1"/><circle cx="131.9" cy="1090.6" r="1.8"/><circle cx="182.8" cy="1057.7" r="1.8"/><circle cx="123.4" cy="1087.7" r="2.0"/><circle cx="124.9" cy="1089.3" r="1.8"/><circle cx="138.0" cy="1032.4" r="1.8"/><circle cx="134.6" cy="1087.7" r="2.0"/><circle cx="142.2" cy="1072.0" r="2.0"/><circle cx="184.8" cy="1043.0" r="2.1"/><circle cx="157.8" cy="1015.0" r="1.7"/><circle cx="176.6" cy="1054.2" r="1.8"/><circle cx="135.4" cy="1042.3" r="1.9"/><circle cx="144.8" cy="1097.5" r="1.8"/><circle cx="124.0" cy="1083.9" r="2.0"/><circle cx="178.5" cy="1026.7" r="1.8"/><circle cx="159.0" cy="1087.8" r="1.9"/><circle cx="182.3" cy="1004.2" r="1.8"/><circle cx="177.7" cy="1061.9" r="1.8"/><circle cx="175.3" cy="1079.2" r="2.0"/><circle cx="132.2" cy="1097.1" r="2.0"/><circle cx="137.3" cy="1090.1" r="1.9"/><circle cx="146.1" cy="1084.4" r="1.9"/><circle cx="177.9" cy="1031.9" r="2.0"/><circle cx="135.8" cy="1089.0" r="2.1"/><circle cx="142.3" cy="1025.7" r="1.8"/><circle cx="151.9" cy="1035.7" r="1.7"/><circle cx="146.5" cy="1036.1" r="1.8"/><circle cx="162.0" cy="1087.6" r="2.0"/><circle cx="129.2" cy="1087.8" r="1.8"/><circle cx="139.5" cy="1059.8" r="2.0"/><circle cx="166.5" cy="1073.5" r="1.8"/><circle cx="187.1" cy="1022.5" r="1.9"/><circle cx="129.6" cy="1063.7" r="1.8"/><circle cx="138.4" cy="1052.8" r="1.9"/><circle cx="129.3" cy="1100.7" r="1.8"/><circle cx="126.1" cy="1087.1" r="1.9"/><circle cx="157.2" cy="1073.3" r="2.0"/><circle cx="189.3" cy="1030.9" r="2.0"/><circle cx="130.0" cy="1065.5" r="1.9"/><circle cx="184.6" cy="1063.5" r="1.7"/><circle cx="165.7" cy="1092.0" r="2.0"/><circle cx="160.0" cy="1028.3" r="1.7"/><circle cx="148.8" cy="1067.6" r="1.9"/><circle cx="158.2" cy="1081.6" r="2.0"/><circle cx="172.2" cy="1086.1" r="2.1"/><circle cx="173.5" cy="1062.6" r="2.0"/><circle cx="138.2" cy="1084.3" r="1.7"/><circle cx="141.3" cy="1027.8" r="2.1"/><circle cx="144.4" cy="1058.3" r="1.7"/><circle cx="142.1" cy="1050.0" r="1.7"/><circle cx="167.0" cy="1055.1" r="2.0"/><circle cx="174.8" cy="1078.1" r="2.1"/><circle cx="138.1" cy="1064.9" r="2.0"/><circle cx="172.0" cy="1013.2" r="2.1"/><circle cx="180.9" cy="1064.6" r="2.0"/><circle cx="143.8" cy="1086.2" r="1.7"/><circle cx="127.5" cy="1090.0" r="1.9"/><circle cx="149.9" cy="1049.0" r="2.0"/><circle cx="153.7" cy="1041.5" r="1.9"/><circle cx="197.1" cy="1034.9" r="2.0"/><circle cx="127.2" cy="1078.5" r="1.9"/><circle cx="159.8" cy="1069.5" r="1.7"/><circle cx="147.5" cy="1080.2" r="2.0"/><circle cx="157.2" cy="1045.6" r="1.8"/><circle cx="176.2" cy="1048.1" r="1.8"/><circle cx="128.4" cy="1087.1" r="1.8"/><circle cx="170.9" cy="1054.9" r="1.8"/><circle cx="147.0" cy="1076.1" r="1.9"/><circle cx="137.7" cy="1092.2" r="1.8"/><circle cx="134.5" cy="1089.8" r="1.8"/><circle cx="125.2" cy="1080.2" r="1.9"/><circle cx="150.1" cy="1052.8" r="1.7"/><circle cx="170.6" cy="1052.8" r="1.9"/><circle cx="170.7" cy="1058.6" r="1.7"/><circle cx="151.7" cy="1065.7" r="1.8"/><circle cx="163.3" cy="1002.5" r="1.7"/><circle cx="181.2" cy="1070.2" r="2.0"/><circle cx="127.8" cy="1088.8" r="2.0"/><circle cx="144.5" cy="1075.2" r="2.1"/><circle cx="176.1" cy="1074.0" r="2.0"/><circle cx="143.7" cy="1081.0" r="1.9"/><circle cx="163.2" cy="1063.2" r="1.9"/><circle cx="151.5" cy="1082.8" r="1.9"/><circle cx="163.4" cy="1068.3" r="2.0"/><circle cx="177.7" cy="1077.1" r="2.1"/><circle cx="178.3" cy="1021.6" r="1.8"/><circle cx="150.4" cy="1083.9" r="2.1"/><circle cx="174.2" cy="1038.8" r="2.1"/><circle cx="152.0" cy="1008.5" r="2.1"/><circle cx="174.4" cy="1070.2" r="2.0"/><circle cx="150.5" cy="1040.1" r="1.9"/><circle cx="168.3" cy="1076.5" r="2.1"/><circle cx="147.7" cy="1082.6" r="1.9"/><circle cx="154.8" cy="1078.7" r="2.0"/><circle cx="161.0" cy="1063.0" r="1.7"/><circle cx="174.2" cy="1073.9" r="1.8"/><circle cx="153.3" cy="1026.2" r="1.9"/><circle cx="155.2" cy="1044.9" r="2.0"/><circle cx="158.6" cy="1078.8" r="1.8"/><circle cx="158.4" cy="1053.9" r="2.0"/><circle cx="138.3" cy="1082.6" r="1.9"/><circle cx="170.8" cy="1058.6" r="1.8"/><circle cx="128.6" cy="1068.1" r="1.7"/><circle cx="147.8" cy="1095.2" r="1.9"/><circle cx="155.5" cy="1090.7" r="2.0"/><circle cx="165.2" cy="1035.0" r="2.1"/><circle cx="135.8" cy="1087.6" r="2.0"/><circle cx="174.7" cy="1076.7" r="1.8"/><circle cx="151.1" cy="1040.5" r="2.1"/><circle cx="187.3" cy="1044.5" r="1.8"/><circle cx="119.1" cy="1101.8" r="1.9"/><circle cx="186.5" cy="1059.1" r="2.0"/><circle cx="129.7" cy="1067.7" r="1.8"/><circle cx="183.6" cy="1011.3" r="1.8"/><circle cx="191.8" cy="1062.8" r="1.9"/><circle cx="164.6" cy="1074.7" r="2.1"/><circle cx="135.3" cy="1089.9" r="1.9"/><circle cx="136.5" cy="1037.7" r="1.7"/><circle cx="151.2" cy="1084.4" r="1.8"/><circle cx="128.0" cy="1078.1" r="1.9"/><circle cx="169.3" cy="1085.9" r="1.9"/><circle cx="131.1" cy="1090.4" r="2.1"/><circle cx="134.3" cy="1063.7" r="1.9"/><circle cx="128.9" cy="1074.9" r="2.0"/><circle cx="132.5" cy="1071.6" r="2.0"/><circle cx="164.9" cy="1051.9" r="1.9"/><circle cx="131.4" cy="1086.0" r="1.9"/><circle cx="151.1" cy="1080.9" r="1.9"/><circle cx="144.4" cy="1080.6" r="1.7"/><circle cx="177.5" cy="1078.9" r="1.7"/><circle cx="128.9" cy="1094.7" r="1.7"/><circle cx="142.0" cy="1088.1" r="1.8"/><circle cx="167.7" cy="1090.9" r="1.7"/><circle cx="119.2" cy="1096.5" r="1.9"/><circle cx="169.6" cy="1061.9" r="1.8"/><circle cx="133.1" cy="1071.7" r="2.1"/><circle cx="165.5" cy="1071.2" r="1.9"/><circle cx="154.2" cy="1020.2" r="1.7"/><circle cx="181.9" cy="1075.0" r="2.0"/><circle cx="154.8" cy="1084.5" r="2.0"/><circle cx="162.0" cy="1063.5" r="2.1"/><circle cx="127.4" cy="1091.1" r="1.8"/><circle cx="158.8" cy="1066.0" r="1.8"/><circle cx="124.4" cy="1096.2" r="2.0"/><circle cx="154.6" cy="1083.5" r="2.0"/><circle cx="145.9" cy="1064.9" r="1.9"/><circle cx="132.9" cy="1074.1" r="2.1"/><circle cx="164.8" cy="1047.4" r="2.1"/><circle cx="174.9" cy="1087.7" r="1.7"/><circle cx="118.7" cy="1102.8" r="1.9"/><circle cx="154.7" cy="1019.0" r="2.1"/><circle cx="164.7" cy="1077.5" r="1.7"/><circle cx="171.4" cy="1053.6" r="1.8"/><circle cx="190.3" cy="1061.3" r="2.0"/><circle cx="121.0" cy="1092.6" r="1.7"/><circle cx="142.0" cy="1070.9" r="1.9"/><circle cx="163.9" cy="1090.4" r="2.1"/><circle cx="188.3" cy="1043.0" r="1.9"/><circle cx="173.7" cy="1081.5" r="1.7"/><circle cx="179.1" cy="1007.2" r="1.7"/><circle cx="186.9" cy="1067.6" r="1.9"/><circle cx="170.4" cy="1074.7" r="1.7"/><circle cx="149.7" cy="1075.9" r="2.0"/><circle cx="127.7" cy="1061.4" r="1.8"/><circle cx="165.1" cy="1068.8" r="1.8"/><circle cx="131.5" cy="1085.1" r="2.0"/><circle cx="154.6" cy="1093.4" r="2.0"/><circle cx="161.5" cy="1055.9" r="2.0"/><circle cx="127.7" cy="1078.3" r="1.8"/><circle cx="142.8" cy="1086.8" r="1.8"/><circle cx="166.7" cy="1059.2" r="2.0"/><circle cx="170.7" cy="1080.5" r="1.9"/><circle cx="180.7" cy="1032.3" r="2.0"/><circle cx="152.8" cy="1041.7" r="1.9"/><circle cx="175.2" cy="1029.4" r="2.1"/><circle cx="167.7" cy="1012.5" r="1.8"/><circle cx="172.0" cy="1055.0" r="2.0"/><circle cx="156.7" cy="1089.3" r="2.0"/><circle cx="142.3" cy="1097.7" r="2.1"/><circle cx="171.3" cy="1037.3" r="1.9"/><circle cx="144.0" cy="1054.5" r="2.1"/><circle cx="160.6" cy="1048.7" r="1.9"/><circle cx="165.7" cy="1029.2" r="2.0"/><circle cx="170.9" cy="1038.2" r="1.8"/><circle cx="176.0" cy="1061.0" r="2.1"/><circle cx="169.7" cy="1088.4" r="1.7"/><circle cx="150.5" cy="1063.8" r="2.1"/><circle cx="126.2" cy="1095.4" r="1.9"/><circle cx="161.9" cy="1086.3" r="1.9"/><circle cx="192.0" cy="1000.7" r="1.8"/><circle cx="190.1" cy="1019.1" r="2.0"/><circle cx="186.2" cy="1066.2" r="1.8"/><circle cx="165.7" cy="1088.9" r="2.0"/><circle cx="151.9" cy="1058.5" r="2.0"/><circle cx="128.7" cy="1084.9" r="1.8"/><circle cx="134.9" cy="1071.0" r="2.0"/><circle cx="196.4" cy="1013.1" r="2.0"/><circle cx="175.1" cy="1078.2" r="1.8"/><circle cx="186.3" cy="1054.4" r="2.0"/><circle cx="154.0" cy="1078.5" r="2.0"/><circle cx="169.3" cy="1086.2" r="1.9"/><circle cx="160.4" cy="1065.5" r="2.0"/><circle cx="150.5" cy="1033.3" r="2.0"/><circle cx="155.2" cy="1069.4" r="2.1"/><circle cx="165.8" cy="1016.8" r="2.0"/><circle cx="152.0" cy="1025.7" r="1.7"/><circle cx="133.6" cy="1058.4" r="2.0"/><circle cx="123.2" cy="1091.0" r="2.1"/><circle cx="197.9" cy="1019.3" r="1.9"/><circle cx="181.1" cy="1030.7" r="2.1"/><circle cx="148.7" cy="1022.5" r="1.8"/><circle cx="162.9" cy="1000.1" r="1.7"/><circle cx="173.1" cy="1057.7" r="1.9"/><circle cx="142.4" cy="1098.0" r="1.7"/><circle cx="145.6" cy="1088.2" r="1.8"/><circle cx="147.4" cy="1086.7" r="1.9"/><circle cx="166.1" cy="1035.9" r="2.1"/><circle cx="167.6" cy="1003.2" r="1.9"/><circle cx="129.8" cy="1081.3" r="2.1"/><circle cx="161.0" cy="1025.5" r="1.9"/><circle cx="129.6" cy="1102.0" r="1.9"/><circle cx="181.0" cy="1008.4" r="1.7"/><circle cx="124.9" cy="1077.4" r="1.7"/><circle cx="183.3" cy="1071.0" r="2.0"/><circle cx="180.8" cy="1082.4" r="2.0"/><circle cx="175.2" cy="1045.5" r="1.9"/><circle cx="166.9" cy="1043.4" r="2.1"/><circle cx="140.5" cy="1053.2" r="2.0"/><circle cx="123.9" cy="1084.9" r="1.8"/><circle cx="137.3" cy="1073.7" r="2.0"/><circle cx="129.8" cy="1051.5" r="2.0"/><circle cx="163.2" cy="1059.3" r="1.7"/><circle cx="146.9" cy="1072.8" r="2.0"/><circle cx="182.3" cy="1076.2" r="1.8"/><circle cx="128.5" cy="1065.5" r="2.0"/><circle cx="140.5" cy="1071.4" r="2.0"/><circle cx="189.8" cy="1054.5" r="2.1"/><circle cx="153.3" cy="1062.8" r="1.7"/><circle cx="183.7" cy="1055.4" r="2.0"/><circle cx="161.2" cy="1053.3" r="1.8"/><circle cx="153.9" cy="1078.1" r="2.0"/><circle cx="189.9" cy="1062.7" r="1.7"/><circle cx="176.1" cy="1054.7" r="2.1"/><circle cx="140.9" cy="1068.0" r="2.1"/><circle cx="145.0" cy="1096.9" r="1.9"/><circle cx="167.9" cy="1061.7" r="1.9"/><circle cx="140.3" cy="1032.4" r="1.9"/><circle cx="178.2" cy="1045.0" r="2.1"/><circle cx="167.8" cy="1063.5" r="1.7"/><circle cx="143.4" cy="1092.5" r="2.0"/><circle cx="150.2" cy="1043.4" r="1.8"/><circle cx="163.0" cy="1078.6" r="1.9"/><circle cx="138.5" cy="1099.2" r="2.0"/><circle cx="127.0" cy="1081.4" r="1.7"/><circle cx="177.8" cy="1017.0" r="1.8"/><circle cx="151.8" cy="1083.4" r="2.0"/><circle cx="133.7" cy="1094.7" r="2.0"/><circle cx="150.0" cy="1039.5" r="1.8"/><circle cx="193.1" cy="1057.3" r="2.0"/><circle cx="181.8" cy="1053.8" r="1.8"/><circle cx="132.0" cy="1096.9" r="1.7"/><circle cx="177.9" cy="1038.7" r="1.8"/><circle cx="157.4" cy="1086.7" r="1.8"/><circle cx="148.0" cy="1095.3" r="1.9"/><circle cx="183.6" cy="1018.2" r="1.9"/><circle cx="129.8" cy="1099.2" r="1.9"/><circle cx="128.4" cy="1087.6" r="2.1"/><circle cx="190.4" cy="999.6" r="1.9"/><circle cx="144.3" cy="1093.5" r="1.8"/><circle cx="177.0" cy="1047.3" r="2.1"/><circle cx="140.2" cy="1044.2" r="2.0"/><circle cx="174.2" cy="1022.0" r="2.1"/><circle cx="167.3" cy="1073.0" r="1.9"/><circle cx="125.7" cy="1101.7" r="1.9"/><circle cx="133.2" cy="1084.5" r="1.8"/><circle cx="169.5" cy="1052.4" r="2.1"/><circle cx="184.8" cy="1031.0" r="1.8"/><circle cx="172.4" cy="1082.9" r="2.1"/><circle cx="153.9" cy="1023.8" r="1.8"/><circle cx="152.8" cy="1082.6" r="2.0"/><circle cx="121.0" cy="1096.5" r="2.0"/><circle cx="163.5" cy="1070.1" r="2.0"/><circle cx="129.6" cy="1067.5" r="1.8"/><circle cx="153.5" cy="1028.0" r="2.1"/><circle cx="177.3" cy="1026.9" r="1.9"/><circle cx="123.8" cy="1103.5" r="1.7"/><circle cx="135.6" cy="1094.1" r="2.0"/><circle cx="152.7" cy="1017.4" r="1.7"/><circle cx="158.3" cy="1056.9" r="2.0"/><circle cx="178.2" cy="1068.7" r="2.0"/><circle cx="146.3" cy="1066.7" r="1.8"/><circle cx="162.2" cy="1034.4" r="1.7"/><circle cx="144.0" cy="1045.2" r="1.8"/><circle cx="149.8" cy="1067.7" r="2.0"/><circle cx="154.3" cy="1095.4" r="2.0"/><circle cx="134.3" cy="1094.7" r="2.1"/><circle cx="150.8" cy="1038.8" r="1.8"/><circle cx="129.7" cy="1064.7" r="1.7"/><circle cx="166.8" cy="1077.5" r="2.0"/><circle cx="128.8" cy="1083.3" r="2.0"/><circle cx="179.0" cy="1035.1" r="2.0"/><circle cx="129.8" cy="1070.5" r="1.9"/><circle cx="158.0" cy="1028.5" r="1.8"/><circle cx="147.6" cy="1036.6" r="2.0"/><circle cx="170.3" cy="1073.3" r="2.0"/><circle cx="196.5" cy="1028.5" r="1.8"/><circle cx="170.7" cy="1059.4" r="2.0"/><circle cx="126.0" cy="1084.8" r="2.0"/><circle cx="157.1" cy="1079.3" r="2.1"/><circle cx="127.8" cy="1097.9" r="1.9"/><circle cx="177.4" cy="1069.6" r="1.9"/><circle cx="175.8" cy="1039.6" r="1.7"/><circle cx="184.5" cy="1078.9" r="1.8"/><circle cx="126.1" cy="1088.4" r="2.0"/><circle cx="170.4" cy="1047.3" r="1.8"/><circle cx="173.1" cy="1078.2" r="2.1"/><circle cx="122.6" cy="1100.3" r="1.8"/><circle cx="153.5" cy="1069.8" r="2.0"/><circle cx="160.7" cy="1093.6" r="1.8"/><circle cx="144.9" cy="1048.7" r="2.0"/><circle cx="166.9" cy="1061.4" r="1.9"/><circle cx="142.5" cy="1058.4" r="1.8"/><circle cx="149.3" cy="1094.4" r="1.8"/><circle cx="144.2" cy="1077.0" r="1.8"/><circle cx="146.3" cy="1067.5" r="1.7"/><circle cx="135.2" cy="1083.2" r="2.0"/><circle cx="182.8" cy="1068.4" r="2.1"/><circle cx="149.7" cy="1038.2" r="2.0"/><circle cx="191.7" cy="1006.2" r="1.7"/><circle cx="155.9" cy="1093.1" r="2.1"/><circle cx="119.4" cy="1098.4" r="2.0"/><circle cx="154.5" cy="1075.4" r="2.0"/><circle cx="131.4" cy="1091.2" r="2.0"/><circle cx="188.7" cy="1033.9" r="1.8"/><circle cx="150.5" cy="1038.9" r="1.8"/><circle cx="144.5" cy="1082.0" r="1.9"/><circle cx="194.3" cy="1034.0" r="1.8"/><circle cx="147.8" cy="1091.9" r="1.7"/><circle cx="186.9" cy="1072.3" r="2.1"/><circle cx="151.7" cy="1027.7" r="1.9"/><circle cx="154.7" cy="1091.3" r="1.9"/><circle cx="154.9" cy="1078.7" r="1.7"/><circle cx="189.8" cy="1055.2" r="2.0"/><circle cx="134.9" cy="1095.2" r="2.0"/><circle cx="158.1" cy="1071.9" r="1.7"/><circle cx="129.7" cy="1066.4" r="1.8"/><circle cx="191.6" cy="1032.1" r="2.0"/><circle cx="135.0" cy="1099.4" r="1.7"/><circle cx="174.7" cy="1071.4" r="1.7"/><circle cx="126.9" cy="1100.1" r="1.7"/><circle cx="138.4" cy="1047.6" r="1.8"/><circle cx="187.2" cy="1013.7" r="2.0"/><circle cx="146.3" cy="1017.8" r="2.0"/><circle cx="132.1" cy="1052.3" r="1.9"/><circle cx="155.2" cy="1072.1" r="1.8"/><circle cx="144.5" cy="1068.4" r="2.0"/><circle cx="165.6" cy="1012.7" r="2.0"/><circle cx="190.0" cy="1040.0" r="1.7"/><circle cx="148.9" cy="1071.4" r="1.8"/><circle cx="147.7" cy="1037.1" r="2.0"/><circle cx="140.5" cy="1083.2" r="1.9"/><circle cx="145.6" cy="1072.1" r="1.9"/><circle cx="185.2" cy="1038.8" r="1.9"/><circle cx="161.9" cy="1033.3" r="1.8"/><circle cx="149.9" cy="1046.6" r="1.9"/><circle cx="195.1" cy="1034.5" r="1.8"/><circle cx="183.2" cy="1057.5" r="2.1"/><circle cx="161.3" cy="1022.7" r="2.0"/><circle cx="148.1" cy="1091.3" r="1.9"/><circle cx="149.0" cy="1066.8" r="2.1"/><circle cx="153.6" cy="1064.3" r="2.0"/><circle cx="141.4" cy="1092.1" r="1.9"/><circle cx="133.0" cy="1046.8" r="2.0"/><circle cx="178.7" cy="1084.4" r="2.0"/><circle cx="141.4" cy="1092.4" r="2.1"/><circle cx="149.4" cy="1059.8" r="2.0"/><circle cx="162.9" cy="998.3" r="1.8"/><circle cx="159.2" cy="1046.9" r="1.7"/><circle cx="146.5" cy="1027.7" r="2.1"/><circle cx="139.8" cy="1050.6" r="2.0"/><circle cx="164.2" cy="1043.8" r="1.9"/><circle cx="146.9" cy="1053.8" r="1.9"/><circle cx="158.1" cy="1024.6" r="2.1"/><circle cx="148.4" cy="1092.1" r="1.7"/><circle cx="160.8" cy="1091.5" r="1.8"/><circle cx="125.9" cy="1091.1" r="1.8"/><circle cx="131.6" cy="1081.0" r="2.1"/><circle cx="144.9" cy="1073.3" r="2.0"/><circle cx="169.2" cy="1087.7" r="1.9"/><circle cx="156.5" cy="1041.6" r="1.8"/><circle cx="190.6" cy="1040.1" r="1.8"/><circle cx="196.4" cy="1036.4" r="1.7"/><circle cx="129.7" cy="1096.2" r="1.8"/><circle cx="163.1" cy="1038.8" r="1.8"/><circle cx="180.1" cy="1081.9" r="1.9"/><circle cx="203.4" cy="978.8" r="1.8"/><circle cx="179.4" cy="983.7" r="2.1"/><circle cx="159.5" cy="973.5" r="2.1"/><circle cx="155.8" cy="995.9" r="1.9"/><circle cx="177.0" cy="956.6" r="1.8"/><circle cx="203.3" cy="979.0" r="1.8"/><circle cx="191.3" cy="990.2" r="1.7"/><circle cx="188.0" cy="972.2" r="2.0"/><circle cx="183.9" cy="955.5" r="1.9"/><circle cx="169.7" cy="994.5" r="2.1"/><circle cx="199.6" cy="991.1" r="1.8"/><circle cx="159.8" cy="997.1" r="2.0"/><circle cx="156.8" cy="995.9" r="1.9"/><circle cx="190.9" cy="998.5" r="2.0"/><circle cx="204.1" cy="976.3" r="1.8"/><circle cx="166.5" cy="995.9" r="2.0"/><circle cx="166.6" cy="966.6" r="1.8"/><circle cx="180.9" cy="957.1" r="1.8"/><circle cx="174.5" cy="956.9" r="1.7"/><circle cx="174.4" cy="995.4" r="1.9"/><circle cx="200.5" cy="997.9" r="2.0"/><circle cx="189.6" cy="987.3" r="1.9"/><circle cx="172.9" cy="994.7" r="2.0"/><circle cx="155.6" cy="970.4" r="1.9"/><circle cx="152.4" cy="985.2" r="1.9"/><circle cx="159.2" cy="984.5" r="1.9"/><circle cx="180.6" cy="984.6" r="1.7"/><circle cx="188.3" cy="989.3" r="1.9"/><circle cx="175.8" cy="978.5" r="1.8"/><circle cx="163.0" cy="975.1" r="1.7"/><circle cx="154.0" cy="997.7" r="1.7"/><circle cx="178.5" cy="974.0" r="1.8"/><circle cx="167.9" cy="981.1" r="1.9"/><circle cx="171.4" cy="970.3" r="1.8"/><circle cx="153.6" cy="992.9" r="1.8"/><circle cx="175.7" cy="967.7" r="1.9"/><circle cx="186.0" cy="994.3" r="2.1"/><circle cx="158.4" cy="970.1" r="1.8"/><circle cx="170.9" cy="968.1" r="1.8"/><circle cx="155.6" cy="978.6" r="1.8"/><circle cx="180.8" cy="978.5" r="1.8"/><circle cx="191.8" cy="994.1" r="1.8"/><circle cx="171.4" cy="966.3" r="2.0"/><circle cx="196.6" cy="962.2" r="2.1"/><circle cx="198.0" cy="985.4" r="1.9"/><circle cx="196.4" cy="981.9" r="2.0"/><circle cx="154.9" cy="985.7" r="1.7"/><circle cx="176.8" cy="959.2" r="1.9"/><circle cx="196.2" cy="997.5" r="2.0"/><circle cx="180.7" cy="953.0" r="1.7"/><circle cx="155.6" cy="988.5" r="2.1"/><circle cx="181.0" cy="978.3" r="1.9"/><circle cx="191.2" cy="990.7" r="1.9"/><circle cx="179.5" cy="991.8" r="2.1"/><circle cx="194.9" cy="997.4" r="2.1"/><circle cx="217.1" cy="944.3" r="1.8"/><circle cx="164.6" cy="944.0" r="1.9"/><circle cx="221.8" cy="959.0" r="2.0"/><circle cx="255.8" cy="927.3" r="1.9"/><circle cx="177.0" cy="939.1" r="2.1"/><circle cx="244.7" cy="931.2" r="1.8"/><circle cx="244.0" cy="946.9" r="2.1"/><circle cx="255.0" cy="937.7" r="1.9"/><circle cx="204.7" cy="927.2" r="1.9"/><circle cx="216.9" cy="953.7" r="2.0"/><circle cx="216.4" cy="944.3" r="1.8"/><circle cx="259.0" cy="953.4" r="1.9"/><circle cx="195.3" cy="960.0" r="1.8"/><circle cx="238.8" cy="936.1" r="2.0"/><circle cx="184.4" cy="950.0" r="1.8"/><circle cx="215.7" cy="947.2" r="1.8"/><circle cx="175.7" cy="953.3" r="2.1"/><circle cx="253.3" cy="940.5" r="1.8"/><circle cx="194.3" cy="961.1" r="2.1"/><circle cx="265.3" cy="929.6" r="1.9"/><circle cx="219.3" cy="941.2" r="2.0"/><circle cx="191.7" cy="944.2" r="2.0"/><circle cx="232.8" cy="938.6" r="1.9"/><circle cx="194.6" cy="956.9" r="2.1"/><circle cx="231.7" cy="936.3" r="2.0"/><circle cx="178.6" cy="939.2" r="2.1"/><circle cx="261.5" cy="955.7" r="1.9"/><circle cx="184.3" cy="947.4" r="1.8"/><circle cx="261.9" cy="933.0" r="1.8"/><circle cx="198.3" cy="936.1" r="1.8"/><circle cx="216.4" cy="1041.3" r="1.9"/><circle cx="233.2" cy="962.6" r="2.1"/><circle cx="219.3" cy="1038.7" r="1.9"/><circle cx="261.7" cy="963.9" r="1.9"/><circle cx="248.4" cy="1036.1" r="1.7"/><circle cx="256.0" cy="1037.6" r="1.9"/><circle cx="268.7" cy="1000.9" r="1.8"/><circle cx="274.9" cy="1013.2" r="1.9"/><circle cx="205.3" cy="1037.6" r="1.9"/><circle cx="230.2" cy="1035.7" r="2.1"/><circle cx="232.8" cy="1019.8" r="1.9"/><circle cx="248.9" cy="1044.1" r="2.1"/><circle cx="226.1" cy="1039.7" r="1.7"/><circle cx="220.5" cy="1053.8" r="1.8"/><circle cx="220.4" cy="970.3" r="2.0"/><circle cx="203.4" cy="1031.4" r="1.9"/><circle cx="228.4" cy="1028.6" r="1.7"/><circle cx="227.3" cy="1013.0" r="1.8"/><circle cx="276.6" cy="1069.1" r="1.9"/><circle cx="203.8" cy="1072.0" r="2.1"/><circle cx="244.4" cy="1047.8" r="1.8"/><circle cx="281.8" cy="983.9" r="1.7"/><circle cx="233.6" cy="1064.9" r="2.0"/><circle cx="245.7" cy="1066.1" r="1.9"/><circle cx="273.7" cy="1077.8" r="1.8"/><circle cx="258.1" cy="969.8" r="1.9"/><circle cx="279.4" cy="983.5" r="1.8"/><circle cx="213.8" cy="1004.8" r="2.0"/><circle cx="218.2" cy="978.2" r="2.0"/><circle cx="256.2" cy="1067.6" r="1.8"/><circle cx="223.2" cy="1005.4" r="2.1"/><circle cx="256.4" cy="996.8" r="1.9"/><circle cx="243.4" cy="1067.9" r="1.9"/><circle cx="210.3" cy="1024.0" r="1.8"/><circle cx="218.8" cy="1051.7" r="1.7"/><circle cx="218.3" cy="1056.1" r="1.8"/><circle cx="235.5" cy="1070.0" r="1.8"/><circle cx="231.9" cy="1019.2" r="1.9"/><circle cx="209.4" cy="994.2" r="1.9"/><circle cx="236.6" cy="1065.6" r="2.0"/><circle cx="251.6" cy="1055.9" r="1.8"/><circle cx="275.1" cy="972.5" r="2.0"/><circle cx="227.7" cy="1058.5" r="1.8"/><circle cx="266.5" cy="1027.4" r="1.9"/><circle cx="235.5" cy="1019.9" r="1.7"/><circle cx="135.7" cy="1102.5" r="2.1"/><circle cx="135.6" cy="1098.3" r="1.8"/><circle cx="133.1" cy="1097.9" r="2.0"/><circle cx="140.9" cy="1095.8" r="1.9"/><circle cx="169.0" cy="1094.7" r="1.9"/><circle cx="173.0" cy="1088.6" r="1.8"/><circle cx="146.5" cy="1098.1" r="2.0"/><circle cx="162.9" cy="1097.9" r="1.9"/><circle cx="155.1" cy="1093.8" r="1.8"/><circle cx="143.9" cy="1094.8" r="1.7"/><circle cx="123.5" cy="1104.9" r="1.9"/><circle cx="140.5" cy="1103.5" r="1.9"/><circle cx="163.5" cy="1093.6" r="1.8"/><circle cx="141.2" cy="1095.4" r="1.8"/><circle cx="161.0" cy="1097.4" r="2.0"/><circle cx="168.4" cy="1089.6" r="2.0"/><circle cx="145.1" cy="1097.7" r="1.8"/><circle cx="137.9" cy="1095.3" r="2.0"/><circle cx="164.0" cy="1089.4" r="1.7"/><circle cx="141.5" cy="1094.6" r="2.0"/><circle cx="167.4" cy="1092.5" r="2.0"/><circle cx="184.2" cy="1088.4" r="1.7"/><circle cx="155.2" cy="1094.7" r="2.1"/><circle cx="146.5" cy="1101.2" r="2.1"/><circle cx="133.0" cy="1105.1" r="1.8"/><circle cx="182.2" cy="1088.1" r="2.0"/><circle cx="184.3" cy="1090.7" r="1.9"/><circle cx="161.2" cy="1098.2" r="1.8"/><circle cx="132.9" cy="1097.8" r="1.8"/><circle cx="171.6" cy="1091.5" r="1.8"/><circle cx="172.1" cy="1087.5" r="2.0"/><circle cx="145.6" cy="1093.3" r="1.9"/><circle cx="139.3" cy="1100.9" r="2.1"/><circle cx="136.3" cy="1103.4" r="1.8"/><circle cx="141.1" cy="1099.3" r="1.9"/><circle cx="123.8" cy="1105.1" r="1.8"/><circle cx="156.5" cy="1096.1" r="1.9"/><circle cx="172.4" cy="1089.9" r="1.9"/><circle cx="149.6" cy="1096.8" r="2.0"/><circle cx="126.2" cy="1106.4" r="2.0"/><circle cx="148.1" cy="1102.0" r="1.7"/><circle cx="142.6" cy="1100.8" r="1.8"/><circle cx="145.9" cy="1099.4" r="2.0"/><circle cx="126.5" cy="1104.0" r="2.0"/><circle cx="120.9" cy="1103.7" r="2.0"/><circle cx="126.9" cy="1101.9" r="1.8"/><circle cx="132.3" cy="1104.4" r="1.9"/><circle cx="162.7" cy="1092.9" r="1.7"/><circle cx="152.3" cy="1095.5" r="1.9"/><circle cx="129.8" cy="1103.9" r="1.8"/><circle cx="139.8" cy="1098.9" r="1.9"/><circle cx="171.9" cy="1093.6" r="1.9"/><circle cx="169.6" cy="1091.8" r="1.8"/><circle cx="168.8" cy="1093.2" r="1.7"/><circle cx="173.0" cy="1089.0" r="2.0"/><circle cx="159.8" cy="1090.1" r="2.0"/><circle cx="130.7" cy="1105.7" r="2.1"/><circle cx="170.2" cy="1089.8" r="1.9"/><circle cx="141.2" cy="1094.0" r="1.7"/><circle cx="186.0" cy="1088.9" r="1.7"/><circle cx="170.0" cy="1091.0" r="2.1"/><circle cx="135.1" cy="1098.2" r="2.0"/><circle cx="170.0" cy="1089.6" r="1.8"/><circle cx="150.5" cy="1098.8" r="1.9"/><circle cx="156.2" cy="1094.0" r="1.8"/><circle cx="142.1" cy="1095.0" r="2.0"/><circle cx="181.0" cy="1085.3" r="2.0"/><circle cx="158.2" cy="1090.5" r="2.1"/><circle cx="162.8" cy="1090.5" r="2.0"/><circle cx="156.0" cy="1094.5" r="1.9"/><circle cx="127.5" cy="1105.7" r="2.1"/><circle cx="155.9" cy="1097.4" r="1.9"/><circle cx="133.3" cy="1103.7" r="2.0"/><circle cx="179.1" cy="1088.1" r="1.8"/><circle cx="155.1" cy="1100.3" r="1.8"/><circle cx="163.7" cy="1092.2" r="1.9"/><circle cx="122.5" cy="1104.5" r="1.8"/><circle cx="127.3" cy="1101.7" r="2.0"/><circle cx="180.1" cy="1092.1" r="1.9"/><circle cx="179.3" cy="1088.1" r="2.1"/><circle cx="159.4" cy="1092.0" r="1.9"/><circle cx="146.0" cy="1094.6" r="1.9"/><circle cx="186.4" cy="1089.6" r="1.9"/><circle cx="158.6" cy="1094.3" r="1.8"/><circle cx="148.1" cy="1096.8" r="1.8"/><circle cx="158.9" cy="1090.9" r="2.1"/><circle cx="158.3" cy="1094.9" r="2.0"/><circle cx="169.0" cy="1094.7" r="2.0"/><circle cx="173.0" cy="1090.6" r="1.9"/><circle cx="124.2" cy="1105.3" r="1.8"/></g>
<g fill="#f08a84" fill-opacity="0.25" stroke="#e3463e" stroke-opacity="0.75" stroke-width="0.8"><circle cx="136.6" cy="1075.6" r="2.0"/><circle cx="121.0" cy="1101.5" r="1.9"/><circle cx="127.9" cy="1094.0" r="2.0"/><circle cx="126.0" cy="1089.4" r="2.1"/><circle cx="116.4" cy="1100.6" r="2.1"/><circle cx="131.0" cy="1098.8" r="2.1"/><circle cx="128.2" cy="1104.6" r="1.9"/><circle cx="131.4" cy="1104.4" r="1.9"/><circle cx="120.9" cy="1101.0" r="2.2"/><circle cx="126.8" cy="1103.9" r="2.1"/><circle cx="120.0" cy="1084.2" r="2.3"/><circle cx="129.5" cy="1105.3" r="2.3"/><circle cx="122.3" cy="1105.0" r="2.1"/><circle cx="121.0" cy="1092.6" r="2.1"/><circle cx="126.4" cy="1104.0" r="2.3"/><circle cx="123.1" cy="1097.7" r="2.0"/><circle cx="123.2" cy="1101.6" r="2.3"/><circle cx="130.7" cy="1086.3" r="2.1"/><circle cx="127.8" cy="1094.5" r="2.0"/><circle cx="119.1" cy="1092.7" r="2.1"/><circle cx="116.7" cy="1101.9" r="2.2"/><circle cx="126.5" cy="1105.2" r="2.3"/><circle cx="124.0" cy="1105.7" r="2.3"/><circle cx="128.0" cy="1102.9" r="1.9"/><circle cx="140.1" cy="1089.3" r="2.0"/><circle cx="134.0" cy="1075.4" r="2.1"/><circle cx="136.8" cy="1102.3" r="1.9"/><circle cx="137.2" cy="1077.1" r="2.1"/><circle cx="123.0" cy="1104.6" r="2.1"/><circle cx="128.2" cy="1077.4" r="2.2"/><circle cx="121.2" cy="1100.4" r="2.1"/><circle cx="144.2" cy="1078.3" r="2.0"/><circle cx="118.6" cy="1102.8" r="2.2"/><circle cx="125.3" cy="1092.6" r="1.9"/><circle cx="133.3" cy="1097.7" r="1.9"/><circle cx="119.5" cy="1095.7" r="2.3"/><circle cx="129.6" cy="1071.2" r="2.0"/><circle cx="118.3" cy="1104.6" r="2.0"/><circle cx="131.1" cy="1098.9" r="2.0"/><circle cx="136.8" cy="1089.9" r="2.2"/><circle cx="125.5" cy="1104.5" r="2.0"/><circle cx="126.8" cy="1077.9" r="2.2"/><circle cx="119.0" cy="1096.2" r="2.2"/><circle cx="123.3" cy="1094.5" r="2.1"/><circle cx="117.8" cy="1098.6" r="2.4"/><circle cx="126.6" cy="1084.6" r="2.3"/><circle cx="124.9" cy="1095.2" r="2.0"/><circle cx="120.2" cy="1097.7" r="2.0"/><circle cx="132.8" cy="1092.2" r="2.0"/><circle cx="136.0" cy="1085.2" r="2.3"/><circle cx="136.0" cy="1091.1" r="2.0"/><circle cx="126.5" cy="1102.0" r="2.1"/><circle cx="131.7" cy="1092.2" r="1.9"/><circle cx="119.0" cy="1097.1" r="2.3"/><circle cx="128.3" cy="1099.1" r="2.3"/></g>
<path d="M115,1106 L265.5,962" stroke="#111" stroke-width="1.7" stroke-dasharray="5.5 3.5"/>
<polygon points="443.2,1079.7 450.5,1076.0 458.0,1076.5 466.8,1074.2 472.2,1067.0 483.0,1061.5 490.3,1058.0 499.4,1052.5 508.4,1047.0 517.5,1039.8 526.5,1030.8 535.6,1021.7 540.0,1021.5 549.0,1016.0 558.1,1007.0 567.2,997.9 576.2,990.7 581.6,983.4 587.1,976.2 594.3,969.0 597.0,966.0 601.0,966.0 600.0,975.0 590.0,1000.0 583.4,1030.5 578.0,1041.4 569.0,1057.7 560.0,1080.0 545.0,1100.0 530.0,1110.0 513.8,1115.9 508.4,1117.7 499.4,1118.6 490.3,1117.7 481.3,1115.0 472.2,1112.2 463.2,1108.6 454.1,1103.2 446.9,1094.0 443.2,1083.3" fill="#6b98dd"/>
<g fill="none" stroke="#bcd0f0" stroke-opacity="0.55" stroke-width="0.6"><circle cx="548.1" cy="1072.6" r="1.9"/><circle cx="475.6" cy="1089.0" r="2.4"/><circle cx="552.0" cy="1075.8" r="2.0"/><circle cx="510.8" cy="1090.2" r="1.2"/><circle cx="461.4" cy="1088.8" r="1.6"/><circle cx="511.8" cy="1084.2" r="1.6"/><circle cx="483.6" cy="1111.7" r="1.7"/><circle cx="529.3" cy="1043.9" r="1.7"/><circle cx="575.6" cy="1033.5" r="1.2"/><circle cx="530.2" cy="1039.1" r="1.9"/><circle cx="554.3" cy="1083.2" r="2.5"/><circle cx="508.6" cy="1084.4" r="2.1"/><circle cx="481.9" cy="1099.1" r="1.5"/><circle cx="479.8" cy="1112.1" r="2.6"/><circle cx="469.5" cy="1096.0" r="2.4"/><circle cx="539.2" cy="1067.8" r="2.4"/><circle cx="513.0" cy="1086.9" r="1.4"/><circle cx="564.2" cy="1069.0" r="2.2"/><circle cx="561.9" cy="1031.4" r="1.7"/><circle cx="553.0" cy="1033.8" r="2.3"/><circle cx="496.3" cy="1085.0" r="1.7"/><circle cx="585.1" cy="991.4" r="1.5"/><circle cx="589.1" cy="996.8" r="2.6"/><circle cx="564.7" cy="1039.0" r="2.4"/><circle cx="494.1" cy="1108.6" r="2.1"/><circle cx="558.5" cy="1077.5" r="1.9"/><circle cx="545.1" cy="1022.1" r="2.0"/><circle cx="542.2" cy="1031.7" r="2.1"/><circle cx="534.4" cy="1091.9" r="1.8"/><circle cx="518.0" cy="1098.3" r="1.8"/><circle cx="499.3" cy="1063.3" r="1.6"/><circle cx="454.5" cy="1086.9" r="2.1"/><circle cx="572.6" cy="1004.0" r="1.6"/><circle cx="555.9" cy="1020.3" r="1.8"/><circle cx="462.9" cy="1090.0" r="1.6"/><circle cx="497.5" cy="1063.5" r="2.5"/><circle cx="495.4" cy="1059.9" r="1.9"/><circle cx="571.5" cy="1041.0" r="1.4"/><circle cx="535.3" cy="1084.5" r="1.4"/><circle cx="544.7" cy="1075.5" r="2.3"/><circle cx="486.2" cy="1109.1" r="2.5"/><circle cx="504.0" cy="1105.4" r="1.5"/><circle cx="492.2" cy="1116.3" r="2.0"/><circle cx="533.7" cy="1091.0" r="1.9"/><circle cx="506.1" cy="1109.1" r="1.8"/><circle cx="541.5" cy="1074.6" r="2.2"/><circle cx="562.9" cy="1023.9" r="2.3"/><circle cx="565.9" cy="1025.2" r="2.3"/><circle cx="456.9" cy="1085.3" r="1.5"/><circle cx="524.2" cy="1087.2" r="2.0"/><circle cx="538.4" cy="1097.5" r="1.4"/><circle cx="580.5" cy="1000.7" r="1.5"/><circle cx="477.6" cy="1082.6" r="1.7"/><circle cx="588.4" cy="1000.9" r="2.0"/><circle cx="477.4" cy="1104.3" r="1.9"/><circle cx="545.2" cy="1038.0" r="1.3"/><circle cx="512.1" cy="1096.6" r="1.9"/><circle cx="451.0" cy="1098.4" r="1.4"/><circle cx="537.7" cy="1026.3" r="1.4"/><circle cx="492.5" cy="1103.7" r="2.4"/><circle cx="555.0" cy="1059.7" r="2.1"/><circle cx="588.2" cy="989.7" r="1.5"/><circle cx="506.1" cy="1099.3" r="2.3"/><circle cx="563.0" cy="1025.2" r="2.6"/><circle cx="572.0" cy="1023.8" r="2.4"/><circle cx="470.9" cy="1073.4" r="1.4"/><circle cx="480.8" cy="1065.2" r="2.1"/><circle cx="526.4" cy="1064.8" r="1.8"/><circle cx="540.2" cy="1070.2" r="1.8"/><circle cx="588.7" cy="987.8" r="1.5"/><circle cx="561.2" cy="1049.1" r="1.4"/><circle cx="523.0" cy="1059.4" r="2.6"/><circle cx="559.0" cy="1078.6" r="1.8"/><circle cx="559.1" cy="1063.9" r="1.4"/><circle cx="461.6" cy="1079.9" r="1.9"/><circle cx="538.4" cy="1029.8" r="1.8"/><circle cx="584.9" cy="1010.8" r="1.4"/><circle cx="483.9" cy="1111.7" r="2.2"/><circle cx="535.7" cy="1090.1" r="2.1"/><circle cx="560.1" cy="1041.5" r="2.2"/><circle cx="495.2" cy="1109.3" r="2.4"/><circle cx="511.7" cy="1083.2" r="2.4"/><circle cx="599.0" cy="970.9" r="2.6"/><circle cx="543.7" cy="1094.2" r="2.2"/><circle cx="545.2" cy="1095.5" r="2.6"/><circle cx="506.7" cy="1056.2" r="2.6"/><circle cx="529.8" cy="1033.5" r="1.5"/><circle cx="514.0" cy="1073.9" r="1.7"/><circle cx="467.0" cy="1093.2" r="1.9"/><circle cx="498.2" cy="1094.4" r="1.9"/><circle cx="510.1" cy="1095.3" r="1.3"/><circle cx="506.1" cy="1117.5" r="1.7"/><circle cx="504.9" cy="1116.1" r="2.3"/><circle cx="470.7" cy="1086.0" r="1.9"/><circle cx="455.6" cy="1085.3" r="2.1"/><circle cx="521.8" cy="1097.4" r="2.2"/><circle cx="512.7" cy="1044.4" r="2.1"/><circle cx="567.6" cy="1001.3" r="1.2"/><circle cx="597.4" cy="970.3" r="1.7"/><circle cx="549.3" cy="1046.4" r="2.2"/><circle cx="532.8" cy="1060.1" r="1.7"/><circle cx="523.0" cy="1057.9" r="2.6"/><circle cx="538.3" cy="1041.0" r="2.5"/><circle cx="548.0" cy="1026.5" r="1.9"/><circle cx="457.9" cy="1098.0" r="2.6"/><circle cx="522.6" cy="1078.5" r="1.5"/><circle cx="483.3" cy="1065.3" r="1.9"/><circle cx="493.1" cy="1116.5" r="2.5"/><circle cx="493.0" cy="1074.1" r="1.3"/><circle cx="454.6" cy="1088.8" r="1.9"/><circle cx="595.5" cy="969.5" r="1.8"/><circle cx="456.7" cy="1079.9" r="1.7"/><circle cx="447.7" cy="1077.8" r="1.8"/><circle cx="546.4" cy="1069.0" r="2.0"/><circle cx="494.5" cy="1070.2" r="2.5"/><circle cx="465.7" cy="1105.8" r="1.3"/><circle cx="592.0" cy="985.2" r="1.4"/><circle cx="528.1" cy="1088.5" r="2.2"/><circle cx="480.6" cy="1085.6" r="2.0"/><circle cx="561.3" cy="1062.2" r="2.2"/><circle cx="557.0" cy="1075.8" r="2.4"/><circle cx="506.0" cy="1080.4" r="2.3"/><circle cx="510.1" cy="1050.0" r="1.6"/><circle cx="499.1" cy="1059.3" r="1.5"/><circle cx="535.8" cy="1068.8" r="2.1"/><circle cx="539.6" cy="1058.3" r="1.3"/><circle cx="502.1" cy="1051.4" r="2.0"/><circle cx="567.8" cy="1022.2" r="2.1"/><circle cx="507.7" cy="1072.7" r="1.9"/><circle cx="502.5" cy="1069.9" r="2.4"/><circle cx="525.5" cy="1111.0" r="1.3"/><circle cx="523.7" cy="1086.5" r="1.2"/><circle cx="516.4" cy="1075.5" r="2.5"/><circle cx="481.9" cy="1063.0" r="2.4"/><circle cx="444.2" cy="1084.8" r="1.3"/><circle cx="475.9" cy="1074.9" r="2.2"/><circle cx="586.6" cy="987.5" r="2.0"/><circle cx="486.6" cy="1115.7" r="1.4"/><circle cx="504.0" cy="1083.2" r="1.8"/><circle cx="555.3" cy="1079.6" r="2.0"/><circle cx="578.4" cy="1016.5" r="2.1"/><circle cx="531.7" cy="1091.7" r="1.5"/><circle cx="501.6" cy="1074.6" r="1.2"/><circle cx="568.2" cy="1009.9" r="1.3"/><circle cx="454.4" cy="1086.4" r="1.5"/><circle cx="503.2" cy="1097.9" r="1.6"/><circle cx="506.1" cy="1078.7" r="1.5"/><circle cx="576.0" cy="995.5" r="1.7"/><circle cx="581.4" cy="1022.4" r="1.3"/><circle cx="550.6" cy="1080.4" r="1.8"/><circle cx="517.0" cy="1048.2" r="1.7"/><circle cx="527.1" cy="1102.6" r="1.6"/><circle cx="507.2" cy="1085.9" r="1.7"/><circle cx="556.6" cy="1037.1" r="2.4"/><circle cx="474.0" cy="1067.8" r="2.3"/><circle cx="476.3" cy="1104.6" r="1.4"/><circle cx="505.3" cy="1072.0" r="1.3"/><circle cx="538.3" cy="1050.8" r="2.0"/><circle cx="507.6" cy="1116.2" r="1.3"/><circle cx="555.9" cy="1046.3" r="2.3"/><circle cx="456.7" cy="1087.0" r="1.7"/><circle cx="479.1" cy="1099.1" r="2.6"/><circle cx="583.3" cy="998.1" r="1.7"/><circle cx="489.1" cy="1074.5" r="2.0"/><circle cx="541.5" cy="1102.0" r="1.3"/><circle cx="572.6" cy="1033.7" r="1.4"/><circle cx="465.6" cy="1105.7" r="1.5"/><circle cx="567.5" cy="1054.7" r="2.5"/><circle cx="536.6" cy="1104.5" r="2.6"/><circle cx="494.1" cy="1072.5" r="2.1"/><circle cx="525.1" cy="1050.8" r="2.1"/><circle cx="480.0" cy="1097.3" r="2.3"/><circle cx="540.9" cy="1036.3" r="1.8"/><circle cx="458.9" cy="1099.2" r="2.5"/><circle cx="540.6" cy="1026.6" r="1.5"/><circle cx="527.3" cy="1056.4" r="2.5"/><circle cx="488.2" cy="1096.4" r="1.2"/><circle cx="504.7" cy="1091.1" r="2.0"/><circle cx="520.8" cy="1036.7" r="2.1"/><circle cx="483.1" cy="1112.6" r="2.3"/><circle cx="575.8" cy="1004.4" r="1.5"/><circle cx="487.6" cy="1072.0" r="1.7"/><circle cx="533.4" cy="1061.2" r="2.5"/><circle cx="561.9" cy="1010.2" r="1.5"/><circle cx="528.2" cy="1048.5" r="1.6"/><circle cx="570.4" cy="1002.9" r="2.0"/><circle cx="527.9" cy="1070.2" r="2.6"/><circle cx="537.2" cy="1082.9" r="1.7"/><circle cx="535.6" cy="1072.2" r="1.4"/><circle cx="456.2" cy="1096.6" r="1.4"/><circle cx="482.0" cy="1105.1" r="2.6"/><circle cx="541.8" cy="1033.0" r="1.6"/><circle cx="458.0" cy="1076.8" r="2.2"/><circle cx="501.0" cy="1097.0" r="1.3"/><circle cx="560.3" cy="1024.0" r="1.8"/><circle cx="487.2" cy="1061.4" r="2.0"/><circle cx="522.3" cy="1110.4" r="2.2"/><circle cx="471.2" cy="1086.4" r="2.1"/><circle cx="461.1" cy="1094.1" r="1.8"/><circle cx="501.5" cy="1067.8" r="1.4"/><circle cx="493.1" cy="1089.0" r="1.8"/><circle cx="570.0" cy="1028.3" r="1.8"/><circle cx="524.1" cy="1095.0" r="1.6"/><circle cx="555.8" cy="1046.4" r="1.4"/><circle cx="506.3" cy="1110.6" r="2.4"/><circle cx="534.7" cy="1073.9" r="1.5"/><circle cx="512.0" cy="1085.1" r="1.7"/><circle cx="575.3" cy="998.8" r="1.8"/><circle cx="538.7" cy="1045.0" r="1.4"/><circle cx="503.8" cy="1050.8" r="2.3"/><circle cx="552.1" cy="1086.4" r="1.4"/><circle cx="516.0" cy="1065.4" r="2.4"/><circle cx="481.4" cy="1077.3" r="1.2"/><circle cx="515.0" cy="1063.8" r="1.2"/><circle cx="549.3" cy="1031.9" r="1.9"/><circle cx="472.7" cy="1109.1" r="1.9"/><circle cx="573.9" cy="1024.5" r="1.8"/><circle cx="502.9" cy="1095.3" r="2.5"/><circle cx="561.9" cy="1008.3" r="2.3"/><circle cx="572.8" cy="1017.7" r="2.4"/><circle cx="588.5" cy="1003.6" r="2.3"/><circle cx="549.7" cy="1069.7" r="2.3"/><circle cx="564.3" cy="1035.2" r="2.3"/><circle cx="520.0" cy="1046.6" r="2.4"/><circle cx="499.1" cy="1078.3" r="2.3"/><circle cx="543.5" cy="1075.4" r="1.5"/><circle cx="571.7" cy="1017.9" r="1.9"/><circle cx="494.9" cy="1060.3" r="2.2"/><circle cx="548.9" cy="1074.4" r="1.9"/><circle cx="545.0" cy="1095.3" r="1.9"/><circle cx="541.7" cy="1087.5" r="1.6"/><circle cx="512.0" cy="1113.5" r="1.4"/><circle cx="567.7" cy="1026.5" r="2.5"/><circle cx="527.8" cy="1081.7" r="1.7"/><circle cx="492.3" cy="1109.1" r="1.2"/><circle cx="483.7" cy="1115.2" r="1.7"/><circle cx="545.6" cy="1078.1" r="2.6"/><circle cx="573.3" cy="1029.0" r="1.2"/><circle cx="479.9" cy="1086.9" r="2.6"/><circle cx="557.7" cy="1069.3" r="1.5"/><circle cx="532.5" cy="1026.2" r="1.2"/><circle cx="556.5" cy="1030.3" r="2.6"/><circle cx="471.2" cy="1102.7" r="1.6"/><circle cx="587.7" cy="985.2" r="2.6"/><circle cx="476.7" cy="1068.6" r="1.6"/><circle cx="471.2" cy="1092.5" r="1.7"/><circle cx="522.6" cy="1086.1" r="2.6"/><circle cx="574.7" cy="1012.0" r="1.6"/><circle cx="559.1" cy="1048.2" r="2.3"/><circle cx="547.6" cy="1030.1" r="2.4"/><circle cx="512.5" cy="1078.8" r="1.8"/><circle cx="508.7" cy="1081.2" r="1.4"/><circle cx="500.8" cy="1057.9" r="2.3"/><circle cx="561.3" cy="1030.0" r="1.4"/><circle cx="519.8" cy="1107.6" r="1.7"/><circle cx="488.1" cy="1074.0" r="1.5"/><circle cx="498.1" cy="1099.7" r="2.5"/><circle cx="506.8" cy="1103.2" r="1.6"/><circle cx="574.0" cy="1010.7" r="2.0"/><circle cx="556.1" cy="1028.8" r="2.1"/><circle cx="486.9" cy="1097.4" r="1.6"/><circle cx="494.7" cy="1115.2" r="2.0"/><circle cx="465.1" cy="1089.6" r="2.2"/><circle cx="583.6" cy="1004.4" r="2.6"/><circle cx="474.8" cy="1091.7" r="1.8"/><circle cx="518.1" cy="1086.1" r="1.7"/><circle cx="572.0" cy="1005.1" r="1.7"/><circle cx="536.0" cy="1103.5" r="2.0"/><circle cx="492.1" cy="1079.9" r="1.6"/><circle cx="548.8" cy="1061.7" r="1.8"/><circle cx="476.8" cy="1081.1" r="2.1"/><circle cx="575.5" cy="1036.5" r="2.2"/><circle cx="567.3" cy="1035.4" r="2.2"/><circle cx="531.7" cy="1080.1" r="2.1"/><circle cx="587.9" cy="978.1" r="1.4"/><circle cx="485.7" cy="1070.0" r="2.1"/><circle cx="521.3" cy="1055.5" r="1.5"/><circle cx="500.3" cy="1111.4" r="2.4"/><circle cx="501.0" cy="1070.8" r="2.5"/><circle cx="532.4" cy="1052.4" r="1.6"/><circle cx="538.8" cy="1085.3" r="2.5"/><circle cx="505.7" cy="1113.2" r="2.1"/><circle cx="467.7" cy="1091.1" r="2.2"/><circle cx="530.5" cy="1035.0" r="2.2"/><circle cx="516.8" cy="1060.8" r="2.1"/><circle cx="489.8" cy="1106.9" r="1.4"/><circle cx="584.4" cy="1024.2" r="2.0"/><circle cx="508.0" cy="1102.4" r="2.6"/><circle cx="586.6" cy="995.0" r="2.4"/><circle cx="523.0" cy="1085.7" r="1.8"/><circle cx="563.5" cy="1029.7" r="2.6"/><circle cx="518.0" cy="1091.7" r="2.5"/><circle cx="491.1" cy="1091.4" r="1.8"/><circle cx="559.2" cy="1033.9" r="2.4"/><circle cx="498.1" cy="1118.1" r="1.6"/><circle cx="483.7" cy="1084.9" r="1.4"/><circle cx="471.0" cy="1105.2" r="1.9"/><circle cx="488.2" cy="1106.6" r="2.3"/><circle cx="505.9" cy="1115.4" r="2.2"/><circle cx="525.5" cy="1032.6" r="1.6"/><circle cx="449.1" cy="1080.3" r="1.9"/><circle cx="584.2" cy="999.6" r="2.3"/><circle cx="516.6" cy="1072.0" r="2.2"/><circle cx="533.6" cy="1098.0" r="2.5"/><circle cx="497.6" cy="1069.4" r="1.4"/><circle cx="543.0" cy="1067.3" r="2.2"/><circle cx="523.9" cy="1098.4" r="2.1"/><circle cx="559.6" cy="1012.0" r="1.6"/><circle cx="467.1" cy="1075.5" r="2.5"/><circle cx="529.4" cy="1102.8" r="1.9"/><circle cx="498.6" cy="1093.4" r="2.1"/><circle cx="518.2" cy="1059.0" r="2.6"/><circle cx="491.9" cy="1106.2" r="2.0"/><circle cx="562.3" cy="1004.6" r="2.1"/><circle cx="531.3" cy="1032.1" r="2.0"/><circle cx="501.2" cy="1098.2" r="2.4"/><circle cx="473.1" cy="1067.3" r="2.1"/><circle cx="560.5" cy="1057.1" r="1.4"/><circle cx="555.5" cy="1080.2" r="1.3"/><circle cx="553.2" cy="1067.9" r="2.5"/><circle cx="495.5" cy="1055.2" r="2.3"/><circle cx="555.5" cy="1044.0" r="1.4"/><circle cx="474.5" cy="1085.0" r="2.4"/><circle cx="449.6" cy="1084.3" r="2.1"/><circle cx="470.5" cy="1105.4" r="2.0"/><circle cx="518.7" cy="1040.3" r="2.3"/><circle cx="507.7" cy="1104.7" r="2.5"/><circle cx="477.6" cy="1065.7" r="1.6"/><circle cx="510.8" cy="1084.4" r="1.3"/><circle cx="525.4" cy="1096.3" r="2.1"/><circle cx="529.1" cy="1062.9" r="1.6"/><circle cx="503.0" cy="1088.6" r="2.2"/><circle cx="502.9" cy="1108.5" r="2.2"/><circle cx="544.4" cy="1097.3" r="2.1"/><circle cx="451.2" cy="1078.7" r="2.3"/><circle cx="535.2" cy="1044.9" r="1.4"/><circle cx="486.4" cy="1078.1" r="1.5"/><circle cx="498.4" cy="1117.3" r="1.9"/><circle cx="506.3" cy="1082.8" r="1.4"/><circle cx="541.7" cy="1075.6" r="1.9"/><circle cx="573.6" cy="1010.4" r="1.6"/><circle cx="498.0" cy="1096.8" r="2.6"/><circle cx="541.0" cy="1043.9" r="2.4"/><circle cx="502.6" cy="1090.8" r="2.3"/><circle cx="560.7" cy="1071.4" r="2.4"/><circle cx="583.5" cy="1020.2" r="1.5"/><circle cx="489.3" cy="1081.7" r="1.9"/><circle cx="454.8" cy="1101.0" r="2.1"/><circle cx="567.6" cy="1046.3" r="1.3"/><circle cx="523.7" cy="1062.9" r="1.5"/><circle cx="494.9" cy="1076.1" r="2.4"/><circle cx="499.6" cy="1105.7" r="1.6"/><circle cx="473.0" cy="1069.2" r="2.5"/><circle cx="522.0" cy="1045.4" r="1.9"/><circle cx="577.2" cy="1029.5" r="1.9"/><circle cx="520.9" cy="1052.8" r="1.4"/><circle cx="565.2" cy="1057.1" r="2.4"/><circle cx="536.6" cy="1043.1" r="1.8"/><circle cx="505.5" cy="1080.0" r="1.5"/><circle cx="469.7" cy="1085.0" r="1.4"/><circle cx="557.3" cy="1008.0" r="1.4"/><circle cx="509.8" cy="1103.6" r="2.3"/><circle cx="447.2" cy="1088.0" r="1.7"/><circle cx="559.8" cy="1051.9" r="2.0"/><circle cx="486.7" cy="1086.7" r="1.7"/><circle cx="467.7" cy="1104.7" r="2.5"/><circle cx="489.2" cy="1104.6" r="1.9"/><circle cx="518.0" cy="1079.0" r="1.9"/><circle cx="452.7" cy="1097.9" r="2.5"/><circle cx="574.8" cy="1009.5" r="2.3"/><circle cx="587.3" cy="979.6" r="2.6"/><circle cx="496.0" cy="1074.9" r="2.3"/><circle cx="577.7" cy="1000.9" r="1.5"/><circle cx="575.0" cy="1042.7" r="1.8"/><circle cx="561.0" cy="1013.8" r="2.3"/><circle cx="471.9" cy="1107.7" r="1.5"/><circle cx="565.5" cy="1061.6" r="1.8"/><circle cx="541.6" cy="1052.2" r="1.4"/><circle cx="523.5" cy="1069.7" r="1.8"/><circle cx="523.1" cy="1071.9" r="2.0"/><circle cx="522.1" cy="1084.3" r="1.4"/><circle cx="491.4" cy="1100.1" r="2.0"/><circle cx="531.2" cy="1108.8" r="1.4"/><circle cx="490.6" cy="1080.3" r="1.9"/><circle cx="534.7" cy="1081.1" r="2.2"/><circle cx="571.6" cy="998.4" r="2.2"/><circle cx="531.0" cy="1086.3" r="1.8"/><circle cx="543.7" cy="1030.1" r="1.4"/><circle cx="484.1" cy="1110.3" r="2.6"/><circle cx="489.2" cy="1089.4" r="2.0"/><circle cx="485.9" cy="1091.9" r="1.9"/><circle cx="482.7" cy="1094.1" r="1.3"/><circle cx="467.9" cy="1096.4" r="2.3"/><circle cx="484.8" cy="1070.0" r="2.3"/><circle cx="542.2" cy="1034.6" r="2.2"/><circle cx="554.3" cy="1021.8" r="1.8"/><circle cx="548.0" cy="1038.7" r="1.8"/><circle cx="539.1" cy="1067.5" r="2.4"/><circle cx="504.0" cy="1052.3" r="2.5"/><circle cx="530.4" cy="1067.8" r="2.0"/><circle cx="548.8" cy="1072.8" r="2.1"/><circle cx="532.3" cy="1059.2" r="2.4"/><circle cx="463.7" cy="1089.8" r="1.7"/><circle cx="510.4" cy="1081.1" r="1.4"/><circle cx="510.8" cy="1088.4" r="2.3"/><circle cx="551.2" cy="1018.6" r="2.1"/><circle cx="523.6" cy="1102.6" r="1.7"/><circle cx="556.7" cy="1075.4" r="2.4"/><circle cx="524.7" cy="1104.5" r="2.3"/><circle cx="449.7" cy="1094.7" r="1.2"/><circle cx="550.1" cy="1047.8" r="1.9"/><circle cx="553.8" cy="1034.9" r="2.2"/><circle cx="515.5" cy="1104.6" r="2.5"/><circle cx="518.8" cy="1048.0" r="2.2"/><circle cx="514.7" cy="1065.3" r="1.5"/><circle cx="551.3" cy="1064.5" r="1.4"/><circle cx="558.3" cy="1022.2" r="2.5"/><circle cx="574.0" cy="1029.0" r="2.4"/><circle cx="532.5" cy="1058.3" r="1.8"/><circle cx="457.7" cy="1081.8" r="1.8"/><circle cx="570.1" cy="996.8" r="2.3"/><circle cx="497.0" cy="1063.0" r="2.1"/><circle cx="579.5" cy="994.8" r="1.6"/><circle cx="497.4" cy="1077.3" r="1.9"/><circle cx="581.6" cy="991.1" r="2.6"/><circle cx="509.7" cy="1057.0" r="1.8"/><circle cx="446.5" cy="1090.4" r="1.2"/><circle cx="477.3" cy="1081.5" r="1.3"/><circle cx="535.9" cy="1104.4" r="1.4"/><circle cx="545.2" cy="1093.5" r="2.1"/><circle cx="518.2" cy="1044.3" r="1.7"/><circle cx="577.8" cy="1040.3" r="2.1"/><circle cx="524.1" cy="1055.8" r="1.6"/><circle cx="523.2" cy="1054.3" r="2.3"/><circle cx="527.5" cy="1088.4" r="1.9"/><circle cx="483.1" cy="1110.0" r="2.5"/><circle cx="477.5" cy="1089.9" r="2.3"/><circle cx="489.4" cy="1085.7" r="1.9"/><circle cx="526.1" cy="1071.5" r="2.6"/><circle cx="575.6" cy="1032.9" r="1.7"/><circle cx="544.1" cy="1054.0" r="1.9"/><circle cx="542.9" cy="1045.9" r="1.7"/><circle cx="507.3" cy="1050.1" r="1.2"/><circle cx="506.3" cy="1071.4" r="1.6"/><circle cx="475.6" cy="1076.8" r="1.3"/><circle cx="476.9" cy="1071.1" r="1.4"/><circle cx="502.8" cy="1100.9" r="1.4"/><circle cx="555.3" cy="1039.2" r="1.7"/><circle cx="477.6" cy="1100.2" r="2.0"/><circle cx="569.5" cy="1024.2" r="2.0"/><circle cx="505.4" cy="1091.0" r="2.1"/><circle cx="550.8" cy="1051.8" r="1.5"/><circle cx="581.5" cy="996.6" r="1.6"/><circle cx="580.2" cy="998.2" r="1.4"/><circle cx="586.3" cy="981.8" r="2.5"/><circle cx="520.1" cy="1104.9" r="1.4"/><circle cx="527.6" cy="1098.2" r="2.1"/><circle cx="478.7" cy="1094.6" r="1.9"/><circle cx="528.0" cy="1053.8" r="1.3"/><circle cx="540.5" cy="1078.7" r="2.4"/><circle cx="537.0" cy="1058.4" r="1.9"/><circle cx="563.3" cy="1034.8" r="2.0"/><circle cx="542.4" cy="1085.9" r="2.3"/><circle cx="456.5" cy="1077.3" r="1.6"/><circle cx="560.5" cy="1037.4" r="1.7"/><circle cx="535.8" cy="1027.5" r="1.4"/><circle cx="526.2" cy="1078.4" r="2.4"/><circle cx="596.8" cy="969.6" r="1.7"/><circle cx="531.8" cy="1105.8" r="2.4"/><circle cx="527.1" cy="1043.4" r="2.4"/><circle cx="524.9" cy="1042.0" r="1.8"/><circle cx="547.2" cy="1027.8" r="2.0"/><circle cx="584.4" cy="1018.0" r="1.5"/><circle cx="550.3" cy="1036.3" r="1.9"/><circle cx="505.8" cy="1114.6" r="1.6"/><circle cx="535.2" cy="1043.8" r="2.5"/><circle cx="547.4" cy="1058.1" r="2.1"/><circle cx="521.4" cy="1048.4" r="2.5"/><circle cx="518.4" cy="1077.8" r="1.5"/><circle cx="590.6" cy="975.5" r="1.5"/><circle cx="504.8" cy="1111.7" r="1.2"/><circle cx="522.7" cy="1080.1" r="2.0"/><circle cx="555.3" cy="1083.7" r="1.6"/><circle cx="481.1" cy="1066.2" r="1.6"/><circle cx="533.3" cy="1066.4" r="1.8"/><circle cx="528.5" cy="1088.7" r="2.0"/><circle cx="517.7" cy="1047.3" r="2.3"/><circle cx="549.3" cy="1082.9" r="2.4"/><circle cx="475.3" cy="1100.8" r="1.5"/><circle cx="569.6" cy="1025.8" r="1.9"/><circle cx="525.6" cy="1099.8" r="2.5"/><circle cx="587.8" cy="992.1" r="1.6"/><circle cx="572.7" cy="1034.6" r="2.0"/><circle cx="583.6" cy="994.1" r="1.8"/><circle cx="511.5" cy="1105.3" r="2.2"/><circle cx="574.9" cy="1014.9" r="2.2"/><circle cx="586.9" cy="987.8" r="1.8"/><circle cx="540.8" cy="1026.9" r="1.6"/><circle cx="474.4" cy="1112.1" r="2.1"/><circle cx="495.9" cy="1080.3" r="2.5"/></g>
<g fill="none" stroke="#3f74cc" stroke-opacity="0.5" stroke-width="0.7"><circle cx="482.2" cy="1101.4" r="1.7"/><circle cx="537.7" cy="1029.0" r="2.4"/><circle cx="534.7" cy="1092.2" r="2.4"/><circle cx="587.3" cy="997.3" r="2.3"/><circle cx="542.3" cy="1095.5" r="2.0"/><circle cx="515.7" cy="1098.0" r="1.5"/><circle cx="513.3" cy="1091.8" r="2.1"/><circle cx="538.5" cy="1079.4" r="1.2"/><circle cx="517.9" cy="1107.4" r="2.7"/><circle cx="475.5" cy="1075.5" r="2.0"/><circle cx="563.2" cy="1070.8" r="2.0"/><circle cx="522.3" cy="1111.7" r="2.7"/><circle cx="501.0" cy="1101.0" r="2.6"/><circle cx="521.5" cy="1057.2" r="1.7"/><circle cx="547.2" cy="1078.5" r="2.7"/><circle cx="462.9" cy="1098.8" r="2.7"/><circle cx="514.7" cy="1112.5" r="1.5"/><circle cx="484.9" cy="1061.9" r="1.9"/><circle cx="542.5" cy="1065.6" r="1.8"/><circle cx="498.2" cy="1085.0" r="2.1"/><circle cx="493.4" cy="1087.3" r="2.2"/><circle cx="500.4" cy="1088.5" r="1.8"/><circle cx="478.9" cy="1083.6" r="2.3"/><circle cx="492.1" cy="1081.0" r="2.2"/><circle cx="570.5" cy="1040.3" r="2.0"/><circle cx="509.5" cy="1085.3" r="1.2"/><circle cx="535.7" cy="1039.8" r="1.6"/><circle cx="476.7" cy="1075.9" r="1.8"/><circle cx="538.5" cy="1085.4" r="2.3"/><circle cx="564.8" cy="1036.3" r="1.8"/><circle cx="561.7" cy="1009.0" r="1.6"/><circle cx="473.8" cy="1085.7" r="1.3"/><circle cx="475.8" cy="1076.7" r="2.3"/><circle cx="527.7" cy="1104.9" r="1.8"/><circle cx="548.4" cy="1064.4" r="2.0"/><circle cx="544.3" cy="1085.7" r="2.6"/><circle cx="551.7" cy="1020.0" r="2.3"/><circle cx="532.0" cy="1070.4" r="1.6"/><circle cx="559.6" cy="1037.6" r="1.6"/><circle cx="557.0" cy="1079.5" r="2.2"/><circle cx="562.7" cy="1004.6" r="2.5"/><circle cx="502.2" cy="1064.8" r="1.5"/><circle cx="514.9" cy="1105.7" r="1.9"/><circle cx="563.6" cy="1012.9" r="1.5"/><circle cx="540.6" cy="1068.3" r="1.4"/><circle cx="548.4" cy="1023.6" r="2.3"/><circle cx="501.0" cy="1091.6" r="1.8"/><circle cx="475.3" cy="1088.5" r="1.9"/><circle cx="530.3" cy="1058.4" r="2.5"/><circle cx="501.2" cy="1105.5" r="1.2"/><circle cx="564.0" cy="1029.4" r="1.6"/><circle cx="533.0" cy="1093.4" r="1.3"/><circle cx="499.0" cy="1111.5" r="1.2"/><circle cx="536.7" cy="1066.2" r="2.0"/><circle cx="495.8" cy="1070.9" r="1.7"/><circle cx="561.6" cy="1069.6" r="2.3"/><circle cx="511.1" cy="1081.2" r="1.5"/><circle cx="505.1" cy="1106.9" r="1.4"/><circle cx="528.7" cy="1087.1" r="2.4"/><circle cx="519.7" cy="1066.5" r="1.3"/><circle cx="498.0" cy="1054.8" r="2.1"/><circle cx="467.5" cy="1075.5" r="1.3"/><circle cx="473.0" cy="1082.9" r="2.7"/><circle cx="451.7" cy="1085.8" r="2.6"/><circle cx="537.0" cy="1081.1" r="1.3"/><circle cx="537.5" cy="1091.0" r="2.7"/><circle cx="509.7" cy="1093.6" r="2.1"/><circle cx="559.6" cy="1070.0" r="2.4"/><circle cx="484.9" cy="1106.3" r="2.5"/><circle cx="459.3" cy="1083.3" r="1.9"/><circle cx="484.0" cy="1080.9" r="1.9"/><circle cx="490.1" cy="1111.2" r="1.7"/><circle cx="457.7" cy="1096.1" r="2.2"/><circle cx="551.2" cy="1086.9" r="1.3"/><circle cx="499.4" cy="1083.5" r="2.3"/><circle cx="534.0" cy="1062.8" r="2.4"/><circle cx="451.4" cy="1098.4" r="2.3"/><circle cx="576.3" cy="1026.3" r="2.2"/><circle cx="536.3" cy="1079.1" r="1.7"/><circle cx="545.6" cy="1072.3" r="2.3"/><circle cx="485.0" cy="1076.7" r="1.8"/><circle cx="560.8" cy="1040.2" r="2.2"/><circle cx="448.8" cy="1083.2" r="1.6"/><circle cx="558.2" cy="1032.2" r="1.6"/><circle cx="532.2" cy="1079.6" r="2.2"/><circle cx="485.3" cy="1092.0" r="1.5"/><circle cx="564.2" cy="1021.5" r="2.5"/><circle cx="544.9" cy="1051.6" r="2.5"/><circle cx="578.5" cy="1002.7" r="2.1"/><circle cx="575.0" cy="1005.2" r="1.6"/><circle cx="578.7" cy="1034.2" r="1.7"/><circle cx="574.2" cy="1037.1" r="1.4"/><circle cx="526.3" cy="1072.2" r="2.4"/><circle cx="461.7" cy="1095.5" r="2.7"/><circle cx="517.2" cy="1108.9" r="1.4"/><circle cx="459.2" cy="1077.5" r="1.3"/><circle cx="532.7" cy="1085.1" r="1.9"/><circle cx="455.8" cy="1077.9" r="2.8"/><circle cx="554.1" cy="1076.0" r="1.5"/><circle cx="452.4" cy="1079.9" r="1.5"/><circle cx="500.4" cy="1065.5" r="1.8"/><circle cx="512.3" cy="1052.7" r="1.7"/><circle cx="468.6" cy="1103.2" r="1.6"/><circle cx="492.9" cy="1097.4" r="2.1"/><circle cx="538.6" cy="1044.1" r="1.4"/><circle cx="587.7" cy="996.9" r="1.3"/><circle cx="464.0" cy="1083.2" r="2.0"/><circle cx="472.6" cy="1101.0" r="2.7"/><circle cx="560.4" cy="1042.9" r="1.5"/><circle cx="569.6" cy="1034.6" r="1.6"/><circle cx="530.4" cy="1051.8" r="1.6"/><circle cx="595.8" cy="970.2" r="1.3"/><circle cx="506.1" cy="1095.2" r="1.4"/><circle cx="551.0" cy="1054.1" r="1.7"/><circle cx="488.8" cy="1107.9" r="1.7"/><circle cx="576.4" cy="1009.2" r="2.1"/><circle cx="522.9" cy="1082.9" r="1.5"/><circle cx="501.4" cy="1064.0" r="2.7"/><circle cx="470.6" cy="1091.2" r="2.1"/><circle cx="548.3" cy="1019.9" r="2.5"/><circle cx="567.9" cy="1039.1" r="1.4"/><circle cx="556.3" cy="1044.7" r="2.5"/><circle cx="556.4" cy="1046.1" r="1.9"/><circle cx="579.4" cy="994.5" r="1.7"/><circle cx="564.4" cy="1049.7" r="2.6"/><circle cx="598.3" cy="973.4" r="1.9"/><circle cx="489.9" cy="1107.0" r="1.7"/><circle cx="554.1" cy="1041.3" r="1.8"/><circle cx="480.8" cy="1108.9" r="2.1"/><circle cx="550.2" cy="1047.3" r="1.6"/><circle cx="527.4" cy="1083.9" r="2.0"/><circle cx="548.2" cy="1080.6" r="1.7"/><circle cx="496.1" cy="1073.4" r="1.4"/><circle cx="522.2" cy="1082.5" r="1.2"/><circle cx="478.4" cy="1101.6" r="2.5"/><circle cx="516.9" cy="1067.4" r="2.6"/><circle cx="536.5" cy="1057.4" r="1.7"/><circle cx="526.9" cy="1047.2" r="2.4"/><circle cx="494.7" cy="1095.2" r="1.9"/><circle cx="530.0" cy="1091.3" r="1.8"/><circle cx="564.9" cy="1052.0" r="1.7"/><circle cx="493.7" cy="1075.0" r="1.7"/><circle cx="530.6" cy="1064.6" r="1.8"/><circle cx="487.7" cy="1079.3" r="1.4"/><circle cx="585.8" cy="983.0" r="2.5"/><circle cx="485.0" cy="1071.7" r="1.9"/><circle cx="510.6" cy="1098.4" r="1.5"/><circle cx="511.8" cy="1104.3" r="1.9"/><circle cx="519.8" cy="1076.5" r="2.0"/><circle cx="484.6" cy="1114.1" r="2.4"/><circle cx="502.9" cy="1074.7" r="1.5"/><circle cx="493.9" cy="1065.7" r="2.0"/><circle cx="542.2" cy="1091.2" r="2.4"/><circle cx="522.8" cy="1099.9" r="2.5"/><circle cx="447.1" cy="1093.4" r="1.4"/><circle cx="556.6" cy="1031.5" r="1.8"/><circle cx="477.5" cy="1085.4" r="2.3"/><circle cx="499.3" cy="1061.9" r="1.7"/><circle cx="463.5" cy="1082.2" r="2.3"/><circle cx="598.0" cy="975.5" r="1.6"/><circle cx="571.3" cy="1003.1" r="1.7"/><circle cx="460.1" cy="1087.3" r="1.3"/><circle cx="579.9" cy="1036.6" r="2.2"/><circle cx="450.7" cy="1077.6" r="1.7"/><circle cx="593.7" cy="990.3" r="1.3"/><circle cx="509.1" cy="1093.2" r="1.6"/><circle cx="554.8" cy="1016.9" r="1.5"/><circle cx="548.7" cy="1045.1" r="1.8"/><circle cx="505.9" cy="1059.2" r="2.7"/><circle cx="539.5" cy="1080.2" r="2.7"/><circle cx="559.8" cy="1050.4" r="2.5"/><circle cx="545.3" cy="1070.0" r="2.5"/><circle cx="562.5" cy="1023.7" r="2.6"/><circle cx="498.3" cy="1066.5" r="1.5"/><circle cx="551.8" cy="1083.1" r="2.0"/><circle cx="543.7" cy="1035.5" r="2.5"/><circle cx="568.8" cy="999.0" r="2.7"/><circle cx="475.3" cy="1091.4" r="2.2"/><circle cx="471.7" cy="1072.9" r="1.4"/><circle cx="508.7" cy="1085.1" r="1.8"/><circle cx="472.1" cy="1081.5" r="1.5"/><circle cx="461.1" cy="1096.5" r="2.4"/><circle cx="538.3" cy="1104.2" r="2.5"/><circle cx="586.8" cy="996.3" r="1.8"/><circle cx="558.0" cy="1011.9" r="1.2"/><circle cx="485.3" cy="1063.1" r="2.7"/><circle cx="509.0" cy="1075.9" r="2.6"/><circle cx="502.4" cy="1093.2" r="2.7"/><circle cx="492.4" cy="1096.2" r="2.4"/><circle cx="514.9" cy="1088.3" r="2.8"/><circle cx="525.9" cy="1093.8" r="1.6"/><circle cx="532.8" cy="1070.3" r="1.4"/><circle cx="468.8" cy="1087.2" r="2.5"/><circle cx="519.1" cy="1080.6" r="2.5"/><circle cx="527.5" cy="1066.7" r="1.6"/><circle cx="564.6" cy="1017.3" r="2.2"/><circle cx="554.1" cy="1027.6" r="1.3"/><circle cx="476.3" cy="1073.0" r="1.4"/><circle cx="577.8" cy="1033.9" r="2.8"/><circle cx="477.5" cy="1072.8" r="2.6"/><circle cx="479.5" cy="1110.9" r="1.5"/><circle cx="576.4" cy="1026.1" r="2.2"/><circle cx="515.6" cy="1065.4" r="2.3"/><circle cx="555.7" cy="1056.2" r="2.0"/><circle cx="499.5" cy="1114.0" r="2.0"/><circle cx="536.9" cy="1069.3" r="2.3"/><circle cx="467.0" cy="1094.9" r="1.2"/><circle cx="556.1" cy="1028.2" r="2.7"/><circle cx="532.8" cy="1097.7" r="2.2"/><circle cx="580.4" cy="1013.5" r="2.0"/><circle cx="482.7" cy="1099.2" r="1.6"/><circle cx="490.2" cy="1061.2" r="1.6"/><circle cx="544.3" cy="1090.6" r="2.2"/><circle cx="494.5" cy="1062.1" r="1.5"/><circle cx="556.7" cy="1074.8" r="2.3"/><circle cx="579.6" cy="1013.6" r="1.3"/><circle cx="541.5" cy="1038.2" r="1.8"/><circle cx="568.6" cy="1032.9" r="1.7"/><circle cx="544.1" cy="1026.2" r="1.2"/><circle cx="572.8" cy="1019.2" r="2.3"/><circle cx="570.8" cy="1010.2" r="2.6"/><circle cx="487.0" cy="1064.6" r="1.8"/><circle cx="550.8" cy="1055.3" r="1.6"/><circle cx="547.2" cy="1093.7" r="2.3"/><circle cx="590.8" cy="989.4" r="1.4"/><circle cx="562.1" cy="1061.2" r="2.6"/><circle cx="555.3" cy="1014.7" r="2.0"/><circle cx="568.0" cy="1043.4" r="2.3"/><circle cx="531.2" cy="1101.3" r="1.7"/><circle cx="537.3" cy="1058.1" r="2.0"/><circle cx="523.0" cy="1086.9" r="2.1"/><circle cx="595.5" cy="974.0" r="2.2"/><circle cx="569.0" cy="1040.2" r="2.5"/><circle cx="545.0" cy="1048.6" r="1.9"/><circle cx="570.2" cy="1028.2" r="1.9"/><circle cx="505.8" cy="1050.0" r="1.9"/><circle cx="537.8" cy="1059.0" r="1.3"/><circle cx="583.6" cy="1019.1" r="1.8"/><circle cx="497.3" cy="1068.4" r="2.7"/><circle cx="464.8" cy="1089.1" r="2.3"/><circle cx="545.2" cy="1065.1" r="1.8"/><circle cx="510.7" cy="1098.5" r="2.5"/><circle cx="534.2" cy="1046.2" r="1.6"/><circle cx="514.8" cy="1084.0" r="1.9"/><circle cx="596.5" cy="976.0" r="1.7"/><circle cx="579.3" cy="1026.8" r="1.9"/><circle cx="513.6" cy="1081.8" r="1.4"/><circle cx="540.4" cy="1080.2" r="2.1"/><circle cx="508.0" cy="1081.9" r="1.4"/><circle cx="544.4" cy="1048.3" r="1.9"/><circle cx="465.4" cy="1087.9" r="2.4"/><circle cx="541.9" cy="1079.7" r="2.6"/><circle cx="543.7" cy="1057.6" r="2.3"/><circle cx="488.8" cy="1105.6" r="1.8"/><circle cx="507.5" cy="1076.9" r="1.5"/><circle cx="466.9" cy="1088.4" r="1.6"/><circle cx="551.1" cy="1027.8" r="1.6"/><circle cx="573.6" cy="1029.7" r="2.3"/><circle cx="454.7" cy="1096.2" r="2.4"/><circle cx="465.3" cy="1082.1" r="1.4"/><circle cx="567.0" cy="1035.5" r="1.9"/><circle cx="458.2" cy="1077.5" r="2.4"/><circle cx="485.5" cy="1091.6" r="2.3"/><circle cx="573.2" cy="1030.3" r="1.4"/><circle cx="530.3" cy="1044.3" r="2.1"/><circle cx="482.4" cy="1104.4" r="2.7"/><circle cx="561.3" cy="1040.2" r="2.6"/><circle cx="516.2" cy="1086.7" r="1.6"/><circle cx="508.1" cy="1085.4" r="2.5"/><circle cx="527.1" cy="1039.7" r="2.8"/><circle cx="485.8" cy="1069.9" r="2.7"/><circle cx="594.3" cy="985.6" r="2.6"/><circle cx="474.8" cy="1109.6" r="1.4"/><circle cx="512.1" cy="1049.4" r="1.9"/><circle cx="547.8" cy="1064.3" r="2.3"/><circle cx="458.1" cy="1082.0" r="2.6"/><circle cx="541.8" cy="1099.3" r="2.5"/><circle cx="585.1" cy="999.7" r="1.9"/><circle cx="533.9" cy="1047.0" r="1.8"/><circle cx="472.4" cy="1076.0" r="2.3"/><circle cx="500.5" cy="1085.9" r="1.6"/><circle cx="507.1" cy="1073.2" r="1.9"/><circle cx="458.8" cy="1104.8" r="2.6"/><circle cx="548.0" cy="1038.2" r="1.6"/><circle cx="491.2" cy="1070.2" r="2.6"/><circle cx="557.2" cy="1008.5" r="1.3"/><circle cx="483.9" cy="1066.2" r="1.3"/><circle cx="501.5" cy="1079.8" r="1.8"/><circle cx="512.3" cy="1109.8" r="2.3"/><circle cx="560.7" cy="1074.0" r="1.6"/><circle cx="573.8" cy="992.7" r="2.7"/><circle cx="514.3" cy="1086.3" r="2.2"/><circle cx="593.4" cy="980.8" r="1.3"/><circle cx="452.4" cy="1088.8" r="1.6"/><circle cx="526.9" cy="1060.0" r="2.6"/><circle cx="484.5" cy="1073.6" r="1.4"/><circle cx="586.9" cy="1008.8" r="1.2"/><circle cx="450.4" cy="1094.4" r="1.6"/><circle cx="508.1" cy="1060.5" r="1.2"/><circle cx="560.2" cy="1036.8" r="1.5"/><circle cx="473.5" cy="1096.6" r="2.0"/><circle cx="480.3" cy="1090.3" r="2.5"/><circle cx="539.0" cy="1092.5" r="1.9"/><circle cx="476.6" cy="1072.9" r="2.1"/><circle cx="479.6" cy="1113.9" r="1.4"/><circle cx="489.8" cy="1075.5" r="1.8"/><circle cx="555.0" cy="1048.5" r="2.2"/><circle cx="575.8" cy="996.9" r="2.0"/><circle cx="465.2" cy="1087.1" r="2.7"/><circle cx="524.8" cy="1071.1" r="1.9"/><circle cx="526.1" cy="1089.4" r="2.7"/><circle cx="498.0" cy="1088.3" r="1.5"/><circle cx="549.5" cy="1053.1" r="2.3"/><circle cx="490.5" cy="1105.3" r="2.4"/><circle cx="507.8" cy="1088.2" r="2.7"/><circle cx="564.1" cy="1060.8" r="1.5"/><circle cx="585.1" cy="993.2" r="2.2"/><circle cx="450.6" cy="1079.4" r="2.7"/><circle cx="550.0" cy="1066.6" r="2.0"/><circle cx="458.4" cy="1087.8" r="2.8"/><circle cx="581.6" cy="1023.0" r="2.6"/><circle cx="561.4" cy="1007.0" r="1.7"/><circle cx="505.5" cy="1068.3" r="2.0"/><circle cx="566.8" cy="1032.0" r="1.7"/><circle cx="507.9" cy="1057.8" r="2.5"/><circle cx="519.3" cy="1041.9" r="1.3"/><circle cx="589.3" cy="991.5" r="2.3"/><circle cx="516.9" cy="1089.6" r="1.2"/><circle cx="594.9" cy="987.2" r="1.3"/><circle cx="567.9" cy="1007.2" r="2.4"/><circle cx="529.0" cy="1073.2" r="1.5"/><circle cx="455.9" cy="1098.2" r="2.1"/><circle cx="596.6" cy="971.6" r="2.7"/><circle cx="489.9" cy="1100.7" r="1.5"/><circle cx="466.7" cy="1098.3" r="1.8"/><circle cx="541.1" cy="1059.1" r="2.4"/><circle cx="572.2" cy="1019.4" r="2.2"/><circle cx="452.2" cy="1097.7" r="2.2"/><circle cx="511.0" cy="1051.4" r="1.5"/><circle cx="507.4" cy="1113.4" r="2.0"/><circle cx="528.5" cy="1090.7" r="2.5"/><circle cx="577.3" cy="998.1" r="2.0"/><circle cx="473.6" cy="1079.0" r="2.2"/><circle cx="509.2" cy="1102.0" r="2.3"/><circle cx="522.2" cy="1077.6" r="1.8"/><circle cx="512.1" cy="1099.9" r="2.0"/><circle cx="516.6" cy="1097.4" r="1.8"/><circle cx="482.4" cy="1109.5" r="1.6"/><circle cx="549.4" cy="1049.8" r="1.3"/><circle cx="577.7" cy="1028.0" r="2.6"/><circle cx="529.4" cy="1099.7" r="1.7"/><circle cx="559.7" cy="1048.4" r="2.3"/><circle cx="560.1" cy="1073.0" r="1.5"/><circle cx="557.9" cy="1045.9" r="2.2"/><circle cx="534.6" cy="1093.0" r="2.4"/><circle cx="567.5" cy="1027.3" r="2.3"/><circle cx="573.2" cy="1000.3" r="2.0"/><circle cx="529.9" cy="1044.8" r="2.8"/><circle cx="592.3" cy="986.2" r="1.4"/><circle cx="460.1" cy="1095.8" r="2.4"/><circle cx="562.8" cy="1066.9" r="1.4"/><circle cx="522.2" cy="1102.8" r="2.0"/><circle cx="534.7" cy="1041.6" r="1.2"/><circle cx="573.7" cy="993.0" r="1.3"/><circle cx="549.7" cy="1017.8" r="2.6"/><circle cx="532.9" cy="1068.0" r="2.4"/><circle cx="466.8" cy="1083.4" r="1.3"/><circle cx="506.5" cy="1062.1" r="1.3"/><circle cx="524.8" cy="1074.9" r="1.4"/><circle cx="521.0" cy="1045.6" r="2.5"/><circle cx="509.1" cy="1084.7" r="2.0"/><circle cx="581.2" cy="986.6" r="2.5"/><circle cx="531.4" cy="1060.8" r="2.2"/><circle cx="537.6" cy="1033.0" r="2.4"/><circle cx="474.2" cy="1092.0" r="1.4"/><circle cx="559.1" cy="1065.9" r="2.4"/><circle cx="542.0" cy="1033.4" r="1.7"/><circle cx="572.6" cy="995.4" r="2.2"/><circle cx="462.6" cy="1096.2" r="1.4"/><circle cx="524.4" cy="1064.3" r="1.7"/><circle cx="569.5" cy="1010.6" r="2.5"/><circle cx="556.7" cy="1078.1" r="1.3"/><circle cx="491.8" cy="1100.1" r="1.4"/><circle cx="469.7" cy="1070.8" r="1.7"/><circle cx="520.8" cy="1099.0" r="1.5"/><circle cx="515.0" cy="1098.0" r="2.5"/><circle cx="471.2" cy="1096.2" r="2.6"/><circle cx="514.8" cy="1067.8" r="2.5"/><circle cx="542.9" cy="1044.0" r="1.9"/><circle cx="458.9" cy="1086.0" r="2.2"/><circle cx="548.9" cy="1065.8" r="2.1"/><circle cx="493.8" cy="1109.4" r="2.2"/><circle cx="532.4" cy="1094.8" r="2.2"/><circle cx="494.1" cy="1070.3" r="2.7"/><circle cx="484.1" cy="1109.3" r="2.2"/><circle cx="581.5" cy="1023.2" r="1.3"/><circle cx="500.8" cy="1061.1" r="2.4"/><circle cx="504.9" cy="1068.9" r="2.1"/><circle cx="570.6" cy="1052.5" r="2.5"/><circle cx="494.1" cy="1107.3" r="1.7"/></g>
<g fill="#a9c4ee" fill-opacity="0.2" stroke="#5b8fd9" stroke-opacity="0.55" stroke-width="0.7"><circle cx="444.2" cy="1079.9" r="2.5"/><circle cx="447.0" cy="1080.5" r="2.1"/><circle cx="447.6" cy="1076.2" r="1.8"/><circle cx="449.9" cy="1075.1" r="1.7"/><circle cx="447.7" cy="1078.5" r="2.1"/><circle cx="453.7" cy="1079.6" r="2.5"/><circle cx="454.8" cy="1077.3" r="3.3"/><circle cx="458.5" cy="1076.5" r="1.9"/><circle cx="459.5" cy="1076.6" r="1.5"/><circle cx="460.9" cy="1076.0" r="2.0"/><circle cx="460.7" cy="1074.0" r="2.3"/><circle cx="465.8" cy="1076.7" r="2.5"/><circle cx="467.7" cy="1075.4" r="2.1"/><circle cx="469.6" cy="1071.6" r="3.1"/><circle cx="472.9" cy="1069.2" r="1.9"/><circle cx="470.2" cy="1068.0" r="2.0"/><circle cx="474.0" cy="1067.2" r="2.0"/><circle cx="476.4" cy="1066.6" r="3.2"/><circle cx="481.7" cy="1064.3" r="2.4"/><circle cx="485.5" cy="1062.0" r="2.1"/><circle cx="486.1" cy="1059.6" r="1.6"/><circle cx="486.9" cy="1060.8" r="2.2"/><circle cx="488.1" cy="1057.4" r="2.9"/><circle cx="491.9" cy="1057.8" r="3.0"/><circle cx="489.0" cy="1057.2" r="3.2"/><circle cx="493.1" cy="1056.4" r="1.9"/><circle cx="495.1" cy="1053.1" r="1.6"/><circle cx="500.1" cy="1052.5" r="1.8"/><circle cx="502.3" cy="1052.0" r="1.6"/><circle cx="503.6" cy="1053.3" r="3.1"/><circle cx="505.2" cy="1050.3" r="2.0"/><circle cx="508.9" cy="1047.2" r="3.0"/><circle cx="510.8" cy="1045.7" r="2.0"/><circle cx="510.7" cy="1042.1" r="1.7"/><circle cx="514.4" cy="1043.7" r="2.0"/><circle cx="517.2" cy="1041.1" r="2.6"/><circle cx="516.5" cy="1041.5" r="3.3"/><circle cx="520.4" cy="1036.2" r="2.6"/><circle cx="526.0" cy="1033.9" r="2.9"/><circle cx="527.4" cy="1031.1" r="2.4"/><circle cx="527.6" cy="1031.1" r="3.2"/><circle cx="527.9" cy="1028.3" r="3.0"/><circle cx="533.3" cy="1025.4" r="3.3"/><circle cx="535.4" cy="1024.4" r="3.0"/><circle cx="534.6" cy="1022.0" r="2.8"/><circle cx="537.5" cy="1020.2" r="3.0"/><circle cx="536.9" cy="1022.6" r="3.1"/><circle cx="541.1" cy="1021.8" r="2.7"/><circle cx="537.8" cy="1021.2" r="1.6"/><circle cx="543.4" cy="1020.7" r="2.3"/><circle cx="547.8" cy="1018.6" r="3.2"/><circle cx="550.5" cy="1018.5" r="2.7"/><circle cx="545.7" cy="1017.5" r="2.2"/><circle cx="551.5" cy="1013.8" r="3.1"/><circle cx="555.5" cy="1008.6" r="2.1"/><circle cx="556.9" cy="1007.7" r="2.2"/><circle cx="557.9" cy="1008.1" r="2.5"/><circle cx="560.7" cy="1007.1" r="2.7"/><circle cx="563.9" cy="1004.0" r="2.5"/><circle cx="566.2" cy="998.8" r="2.1"/><circle cx="568.9" cy="996.1" r="2.5"/><circle cx="568.9" cy="996.2" r="2.1"/><circle cx="574.9" cy="995.1" r="2.7"/><circle cx="577.1" cy="992.3" r="2.5"/><circle cx="574.6" cy="990.2" r="1.7"/><circle cx="580.2" cy="987.6" r="2.6"/><circle cx="579.5" cy="983.4" r="3.2"/><circle cx="581.4" cy="981.2" r="2.6"/><circle cx="582.2" cy="985.6" r="1.6"/><circle cx="584.0" cy="981.3" r="2.5"/><circle cx="584.8" cy="979.5" r="1.8"/><circle cx="585.6" cy="975.6" r="2.3"/><circle cx="590.3" cy="974.4" r="1.8"/><circle cx="588.8" cy="971.9" r="3.2"/><circle cx="593.7" cy="971.1" r="2.9"/><circle cx="592.5" cy="967.3" r="2.5"/><circle cx="596.0" cy="970.0" r="2.0"/><circle cx="596.4" cy="968.0" r="1.7"/><circle cx="597.5" cy="969.0" r="2.8"/><circle cx="598.0" cy="963.8" r="1.9"/><circle cx="594.2" cy="964.0" r="3.1"/><circle cx="598.8" cy="963.9" r="3.1"/><circle cx="598.2" cy="966.1" r="1.8"/><circle cx="599.8" cy="964.2" r="3.3"/><circle cx="602.4" cy="966.8" r="3.2"/><circle cx="601.8" cy="970.4" r="1.6"/><circle cx="602.4" cy="972.0" r="2.4"/><circle cx="599.8" cy="972.5" r="2.0"/><circle cx="599.7" cy="974.2" r="2.6"/><circle cx="598.2" cy="984.3" r="3.0"/><circle cx="595.5" cy="993.3" r="2.0"/><circle cx="591.7" cy="1000.8" r="1.6"/><circle cx="590.2" cy="999.5" r="2.2"/><circle cx="587.8" cy="1008.8" r="1.9"/><circle cx="586.2" cy="1020.2" r="2.8"/><circle cx="580.5" cy="1026.6" r="2.0"/><circle cx="582.4" cy="1029.8" r="2.6"/><circle cx="581.2" cy="1036.0" r="1.7"/><circle cx="578.9" cy="1035.9" r="2.0"/><circle cx="578.6" cy="1042.8" r="2.9"/><circle cx="580.4" cy="1039.9" r="3.0"/><circle cx="574.6" cy="1046.2" r="2.5"/><circle cx="574.2" cy="1053.3" r="2.5"/><circle cx="569.0" cy="1058.7" r="1.6"/><circle cx="568.5" cy="1057.4" r="2.6"/><circle cx="565.9" cy="1064.4" r="2.6"/><circle cx="562.6" cy="1073.1" r="1.9"/><circle cx="560.3" cy="1082.1" r="2.8"/><circle cx="561.2" cy="1079.9" r="1.7"/><circle cx="551.8" cy="1084.5" r="2.5"/><circle cx="549.3" cy="1092.8" r="1.7"/><circle cx="543.1" cy="1099.4" r="3.0"/><circle cx="545.1" cy="1099.1" r="2.2"/><circle cx="539.8" cy="1103.2" r="3.2"/><circle cx="534.0" cy="1105.4" r="2.3"/><circle cx="529.8" cy="1110.4" r="2.9"/><circle cx="528.5" cy="1107.0" r="2.4"/><circle cx="523.2" cy="1112.7" r="1.6"/><circle cx="516.9" cy="1115.2" r="2.1"/><circle cx="512.9" cy="1116.0" r="2.6"/><circle cx="512.7" cy="1116.7" r="2.9"/><circle cx="512.0" cy="1117.0" r="1.6"/><circle cx="507.4" cy="1118.1" r="2.4"/><circle cx="506.0" cy="1117.2" r="2.9"/><circle cx="509.1" cy="1117.4" r="1.9"/><circle cx="506.1" cy="1118.2" r="2.1"/><circle cx="502.5" cy="1117.1" r="2.0"/><circle cx="500.8" cy="1120.2" r="2.8"/><circle cx="498.6" cy="1117.3" r="2.0"/><circle cx="496.6" cy="1117.2" r="3.1"/><circle cx="493.5" cy="1119.1" r="3.0"/><circle cx="491.2" cy="1119.8" r="2.5"/><circle cx="490.9" cy="1116.2" r="3.3"/><circle cx="486.0" cy="1117.5" r="2.1"/><circle cx="487.0" cy="1115.3" r="1.5"/><circle cx="479.9" cy="1116.9" r="2.7"/><circle cx="481.1" cy="1115.9" r="3.0"/><circle cx="479.7" cy="1112.6" r="3.2"/><circle cx="474.7" cy="1112.3" r="1.8"/><circle cx="472.9" cy="1113.1" r="1.6"/><circle cx="471.4" cy="1112.9" r="2.6"/><circle cx="466.6" cy="1111.4" r="2.2"/><circle cx="466.6" cy="1109.7" r="1.9"/><circle cx="461.1" cy="1108.4" r="2.7"/><circle cx="461.6" cy="1110.6" r="2.4"/><circle cx="459.7" cy="1106.5" r="2.6"/><circle cx="456.9" cy="1105.7" r="3.2"/><circle cx="454.2" cy="1103.9" r="3.0"/><circle cx="452.7" cy="1104.7" r="1.8"/><circle cx="450.9" cy="1101.1" r="1.6"/><circle cx="449.6" cy="1098.5" r="2.7"/><circle cx="446.7" cy="1091.9" r="1.5"/><circle cx="445.2" cy="1093.6" r="1.9"/><circle cx="447.6" cy="1089.8" r="3.2"/><circle cx="444.5" cy="1088.6" r="2.2"/><circle cx="442.3" cy="1083.7" r="2.8"/></g>
<polygon points="483.0,1108.6 483.0,1106.8 490.3,1099.6 499.4,1090.5 508.4,1081.5 517.5,1072.4 526.5,1061.5 535.6,1050.7 540.0,1048.6 549.0,1036.0 558.1,1025.1 567.2,1016.0 576.2,1007.0 585.3,997.9 588.9,988.9 590.7,979.8 596.1,972.6 603.4,969.0 608.8,967.2 616.0,961.7 625.1,958.1 634.1,958.1 643.2,959.9 647.7,963.5 647.7,964.4 641.4,967.2 630.5,970.8 621.5,974.4 616.0,978.0 612.4,985.3 610.6,994.3 605.2,1001.5 597.9,1010.6 590.7,1017.8 583.4,1026.9 576.2,1037.8 570.8,1048.6 567.2,1057.7 563.5,1064.9 560.0,1072.4 548.2,1083.3 539.2,1094.1 530.0,1103.2 521.0,1110.4 513.8,1114.0 508.4,1112.2 504.8,1106.8 499.4,1105.0 490.3,1106.8" fill="#eb4f47"/>
<g fill="none" stroke="#f6a9a3" stroke-opacity="0.6" stroke-width="0.6"><circle cx="485.4" cy="1107.3" r="1.3"/><circle cx="562.3" cy="1031.4" r="1.3"/><circle cx="543.2" cy="1079.6" r="1.6"/><circle cx="540.4" cy="1068.0" r="1.5"/><circle cx="611.6" cy="987.2" r="2.1"/><circle cx="547.2" cy="1055.4" r="2.1"/><circle cx="605.9" cy="968.4" r="2.5"/><circle cx="608.0" cy="990.9" r="2.1"/><circle cx="547.1" cy="1064.4" r="2.0"/><circle cx="537.2" cy="1088.6" r="1.6"/><circle cx="537.4" cy="1071.4" r="1.2"/><circle cx="502.4" cy="1092.0" r="2.1"/><circle cx="543.1" cy="1052.2" r="1.4"/><circle cx="526.9" cy="1081.2" r="2.6"/><circle cx="532.7" cy="1094.0" r="2.2"/><circle cx="520.6" cy="1108.5" r="1.2"/><circle cx="556.5" cy="1037.9" r="1.8"/><circle cx="497.5" cy="1104.3" r="1.3"/><circle cx="570.4" cy="1036.3" r="1.2"/><circle cx="573.4" cy="1013.2" r="1.8"/><circle cx="553.5" cy="1045.5" r="2.5"/><circle cx="529.1" cy="1077.7" r="1.4"/><circle cx="520.4" cy="1094.8" r="2.6"/><circle cx="502.6" cy="1095.3" r="1.8"/><circle cx="521.7" cy="1090.9" r="1.6"/><circle cx="544.3" cy="1056.2" r="2.5"/><circle cx="579.4" cy="1017.1" r="1.6"/><circle cx="539.2" cy="1076.5" r="1.4"/><circle cx="572.6" cy="1011.6" r="2.5"/><circle cx="524.6" cy="1101.3" r="2.5"/><circle cx="611.2" cy="979.0" r="2.3"/><circle cx="546.0" cy="1081.5" r="2.3"/><circle cx="563.8" cy="1037.3" r="1.8"/><circle cx="512.9" cy="1096.0" r="2.4"/><circle cx="544.7" cy="1069.2" r="1.8"/><circle cx="530.7" cy="1067.4" r="1.9"/><circle cx="519.0" cy="1096.6" r="1.4"/><circle cx="550.7" cy="1066.5" r="1.9"/><circle cx="606.0" cy="995.8" r="2.2"/><circle cx="590.7" cy="1012.0" r="1.6"/><circle cx="593.7" cy="976.3" r="1.4"/><circle cx="624.5" cy="967.6" r="1.3"/><circle cx="556.1" cy="1051.6" r="1.9"/><circle cx="535.9" cy="1080.7" r="1.4"/><circle cx="534.9" cy="1087.9" r="1.8"/><circle cx="567.8" cy="1052.8" r="2.1"/><circle cx="622.5" cy="970.6" r="1.3"/><circle cx="633.1" cy="961.0" r="2.3"/><circle cx="515.1" cy="1100.1" r="1.3"/><circle cx="505.9" cy="1094.9" r="1.4"/><circle cx="585.2" cy="1019.4" r="2.1"/><circle cx="626.9" cy="964.7" r="2.5"/><circle cx="578.2" cy="1030.7" r="1.4"/><circle cx="521.9" cy="1106.2" r="2.2"/><circle cx="559.3" cy="1047.3" r="1.9"/><circle cx="559.9" cy="1053.4" r="1.5"/><circle cx="524.5" cy="1083.8" r="2.0"/><circle cx="529.5" cy="1081.7" r="1.8"/><circle cx="626.2" cy="958.8" r="1.7"/><circle cx="492.6" cy="1100.4" r="2.4"/><circle cx="600.1" cy="998.1" r="2.0"/><circle cx="516.4" cy="1085.5" r="2.3"/><circle cx="585.4" cy="1020.4" r="1.3"/><circle cx="549.8" cy="1061.7" r="2.5"/><circle cx="572.0" cy="1026.9" r="1.5"/><circle cx="590.9" cy="985.1" r="1.9"/><circle cx="573.7" cy="1026.9" r="1.3"/><circle cx="503.8" cy="1094.7" r="1.5"/><circle cx="600.9" cy="988.1" r="1.9"/><circle cx="509.8" cy="1096.0" r="2.3"/><circle cx="606.1" cy="985.6" r="2.3"/><circle cx="526.6" cy="1078.9" r="1.9"/><circle cx="567.8" cy="1022.8" r="1.5"/><circle cx="597.2" cy="1004.9" r="2.0"/><circle cx="518.8" cy="1089.9" r="1.7"/><circle cx="565.4" cy="1053.6" r="1.4"/><circle cx="572.2" cy="1013.8" r="2.3"/><circle cx="519.5" cy="1074.2" r="2.3"/><circle cx="578.8" cy="1020.8" r="1.4"/><circle cx="610.9" cy="976.1" r="1.3"/><circle cx="520.8" cy="1093.5" r="2.2"/><circle cx="574.0" cy="1033.5" r="2.3"/><circle cx="593.9" cy="999.4" r="1.3"/><circle cx="554.0" cy="1045.7" r="1.8"/><circle cx="560.6" cy="1064.5" r="2.2"/><circle cx="536.4" cy="1073.1" r="1.7"/><circle cx="529.8" cy="1058.5" r="2.3"/><circle cx="531.1" cy="1075.5" r="1.3"/><circle cx="522.7" cy="1091.9" r="2.0"/><circle cx="622.7" cy="961.1" r="1.5"/><circle cx="523.2" cy="1102.0" r="2.2"/><circle cx="584.6" cy="1010.3" r="1.2"/><circle cx="581.0" cy="1024.8" r="2.2"/><circle cx="557.1" cy="1050.0" r="1.8"/><circle cx="577.7" cy="1022.3" r="2.2"/><circle cx="544.9" cy="1069.9" r="1.4"/><circle cx="528.7" cy="1091.5" r="2.4"/><circle cx="512.5" cy="1086.2" r="2.1"/><circle cx="485.1" cy="1106.2" r="1.3"/><circle cx="526.2" cy="1091.9" r="2.4"/><circle cx="607.6" cy="968.4" r="1.4"/><circle cx="575.5" cy="1019.7" r="1.7"/><circle cx="571.7" cy="1037.3" r="1.7"/><circle cx="550.6" cy="1045.9" r="2.3"/><circle cx="620.1" cy="961.7" r="2.3"/><circle cx="495.7" cy="1101.3" r="1.3"/><circle cx="587.3" cy="1001.0" r="2.4"/><circle cx="622.1" cy="970.1" r="1.4"/><circle cx="592.9" cy="1007.1" r="2.2"/><circle cx="553.7" cy="1036.2" r="1.4"/><circle cx="551.2" cy="1033.7" r="1.8"/><circle cx="598.1" cy="1009.4" r="1.4"/><circle cx="532.6" cy="1085.2" r="2.1"/><circle cx="589.5" cy="991.1" r="1.8"/><circle cx="557.6" cy="1052.0" r="2.0"/><circle cx="630.7" cy="959.5" r="2.6"/><circle cx="494.4" cy="1101.3" r="2.4"/><circle cx="537.5" cy="1071.6" r="1.5"/><circle cx="574.2" cy="1040.2" r="1.8"/><circle cx="589.0" cy="994.5" r="2.0"/><circle cx="546.2" cy="1052.5" r="1.7"/><circle cx="604.0" cy="987.9" r="1.3"/><circle cx="526.6" cy="1074.2" r="1.7"/><circle cx="527.3" cy="1081.9" r="1.6"/><circle cx="489.2" cy="1104.4" r="1.5"/><circle cx="594.6" cy="999.7" r="1.4"/><circle cx="534.8" cy="1081.8" r="1.4"/><circle cx="526.1" cy="1076.4" r="2.4"/><circle cx="554.8" cy="1035.5" r="1.8"/><circle cx="535.6" cy="1095.8" r="2.2"/><circle cx="565.3" cy="1049.6" r="2.3"/><circle cx="631.7" cy="966.9" r="2.4"/><circle cx="630.2" cy="966.9" r="2.0"/><circle cx="575.8" cy="1030.1" r="2.4"/><circle cx="628.2" cy="965.6" r="1.4"/><circle cx="518.0" cy="1086.9" r="1.5"/><circle cx="517.2" cy="1075.5" r="2.1"/><circle cx="574.3" cy="1023.9" r="1.7"/><circle cx="589.8" cy="1002.1" r="1.5"/><circle cx="624.5" cy="965.4" r="1.7"/><circle cx="568.5" cy="1023.0" r="1.8"/><circle cx="546.7" cy="1061.1" r="2.4"/><circle cx="534.0" cy="1087.4" r="1.8"/><circle cx="503.5" cy="1097.0" r="2.5"/><circle cx="584.5" cy="1006.2" r="1.5"/><circle cx="520.4" cy="1074.2" r="2.4"/><circle cx="526.2" cy="1063.3" r="2.4"/><circle cx="541.6" cy="1067.9" r="1.4"/><circle cx="515.6" cy="1088.2" r="2.3"/><circle cx="613.1" cy="972.4" r="2.3"/><circle cx="503.7" cy="1106.3" r="2.3"/><circle cx="531.0" cy="1067.4" r="2.5"/><circle cx="525.6" cy="1069.9" r="1.8"/><circle cx="618.6" cy="962.7" r="1.9"/><circle cx="544.3" cy="1045.7" r="1.6"/><circle cx="613.7" cy="978.9" r="1.9"/><circle cx="562.3" cy="1029.9" r="2.5"/><circle cx="594.8" cy="992.3" r="2.1"/><circle cx="589.4" cy="1013.5" r="2.3"/><circle cx="518.5" cy="1099.7" r="2.4"/><circle cx="541.4" cy="1053.2" r="2.1"/><circle cx="508.7" cy="1112.1" r="2.0"/><circle cx="560.4" cy="1061.5" r="1.5"/><circle cx="504.4" cy="1106.2" r="2.0"/><circle cx="582.5" cy="1002.9" r="2.1"/><circle cx="593.5" cy="996.5" r="1.3"/><circle cx="598.6" cy="975.1" r="1.2"/><circle cx="531.0" cy="1099.9" r="2.6"/><circle cx="593.5" cy="1006.8" r="1.3"/><circle cx="526.3" cy="1082.4" r="2.3"/><circle cx="608.0" cy="975.5" r="2.1"/><circle cx="569.4" cy="1037.0" r="2.4"/><circle cx="553.9" cy="1071.9" r="2.0"/><circle cx="532.0" cy="1067.8" r="2.0"/><circle cx="550.2" cy="1074.7" r="1.5"/><circle cx="605.5" cy="993.2" r="2.0"/><circle cx="553.1" cy="1046.0" r="2.4"/><circle cx="521.7" cy="1097.7" r="1.5"/><circle cx="511.3" cy="1089.1" r="2.5"/><circle cx="554.5" cy="1031.1" r="1.6"/><circle cx="593.1" cy="989.9" r="2.1"/><circle cx="555.6" cy="1052.6" r="2.5"/><circle cx="579.7" cy="1023.3" r="2.4"/><circle cx="551.9" cy="1052.2" r="1.6"/><circle cx="504.4" cy="1093.6" r="2.0"/><circle cx="537.4" cy="1076.9" r="2.3"/><circle cx="593.8" cy="1002.1" r="2.6"/><circle cx="603.2" cy="989.8" r="2.2"/><circle cx="640.2" cy="962.9" r="2.5"/><circle cx="505.5" cy="1094.8" r="1.9"/><circle cx="528.5" cy="1084.2" r="2.1"/><circle cx="544.4" cy="1059.2" r="1.6"/><circle cx="569.8" cy="1051.1" r="1.8"/><circle cx="519.8" cy="1108.0" r="1.7"/><circle cx="574.9" cy="1035.5" r="2.6"/><circle cx="533.9" cy="1095.3" r="2.5"/><circle cx="506.7" cy="1090.7" r="2.5"/><circle cx="526.9" cy="1078.8" r="1.8"/><circle cx="581.4" cy="1016.7" r="2.5"/><circle cx="517.7" cy="1083.9" r="2.1"/><circle cx="616.8" cy="971.0" r="1.5"/><circle cx="524.0" cy="1069.5" r="1.9"/><circle cx="517.0" cy="1077.0" r="1.3"/><circle cx="546.1" cy="1052.6" r="1.9"/><circle cx="612.8" cy="974.2" r="2.5"/><circle cx="593.3" cy="1011.2" r="1.8"/><circle cx="566.1" cy="1032.9" r="1.7"/><circle cx="547.8" cy="1048.1" r="1.3"/><circle cx="507.0" cy="1100.3" r="1.9"/><circle cx="495.3" cy="1103.7" r="2.2"/><circle cx="532.9" cy="1094.0" r="2.5"/><circle cx="538.3" cy="1059.6" r="1.7"/><circle cx="522.3" cy="1096.4" r="1.6"/><circle cx="604.2" cy="988.8" r="2.5"/><circle cx="558.4" cy="1055.1" r="1.3"/><circle cx="534.3" cy="1057.4" r="1.7"/><circle cx="600.1" cy="1004.9" r="1.9"/><circle cx="544.7" cy="1079.1" r="2.5"/><circle cx="597.1" cy="998.0" r="2.0"/><circle cx="573.6" cy="1040.2" r="2.4"/><circle cx="510.6" cy="1095.3" r="2.5"/><circle cx="510.2" cy="1082.6" r="2.3"/><circle cx="527.4" cy="1063.2" r="2.3"/><circle cx="609.3" cy="989.1" r="1.5"/><circle cx="541.8" cy="1073.4" r="2.3"/><circle cx="575.3" cy="1025.5" r="2.3"/><circle cx="557.7" cy="1069.7" r="1.6"/><circle cx="556.5" cy="1040.0" r="1.5"/><circle cx="508.7" cy="1099.7" r="1.6"/><circle cx="499.7" cy="1093.4" r="2.4"/><circle cx="514.6" cy="1093.3" r="2.2"/><circle cx="496.5" cy="1095.7" r="1.9"/><circle cx="597.8" cy="979.4" r="1.3"/><circle cx="568.2" cy="1015.6" r="2.5"/><circle cx="611.1" cy="990.5" r="1.2"/><circle cx="533.4" cy="1067.8" r="1.5"/><circle cx="550.4" cy="1047.4" r="2.5"/><circle cx="593.8" cy="990.7" r="1.9"/><circle cx="544.2" cy="1076.6" r="1.7"/><circle cx="520.4" cy="1081.9" r="1.9"/><circle cx="533.0" cy="1076.6" r="2.1"/><circle cx="583.2" cy="1027.0" r="2.2"/><circle cx="515.5" cy="1107.9" r="2.0"/><circle cx="625.2" cy="970.3" r="1.3"/><circle cx="530.6" cy="1066.1" r="1.4"/><circle cx="591.0" cy="993.5" r="1.6"/><circle cx="577.1" cy="1024.6" r="1.9"/><circle cx="562.5" cy="1052.5" r="2.0"/><circle cx="621.6" cy="966.6" r="2.3"/><circle cx="580.9" cy="1011.4" r="1.5"/><circle cx="532.7" cy="1098.3" r="1.4"/><circle cx="593.9" cy="994.8" r="2.4"/><circle cx="537.9" cy="1050.3" r="2.0"/><circle cx="586.8" cy="1015.6" r="1.7"/><circle cx="609.0" cy="980.1" r="1.3"/><circle cx="570.6" cy="1022.0" r="1.5"/><circle cx="513.6" cy="1108.3" r="2.3"/><circle cx="506.4" cy="1099.4" r="1.9"/><circle cx="589.0" cy="997.7" r="1.2"/><circle cx="551.7" cy="1045.5" r="1.9"/><circle cx="539.8" cy="1067.9" r="1.8"/><circle cx="539.5" cy="1093.5" r="2.3"/><circle cx="618.3" cy="975.5" r="1.3"/><circle cx="536.5" cy="1069.1" r="1.8"/><circle cx="613.5" cy="968.3" r="2.5"/><circle cx="496.6" cy="1100.7" r="2.2"/><circle cx="533.2" cy="1095.5" r="2.1"/><circle cx="638.3" cy="965.9" r="1.8"/><circle cx="584.6" cy="1000.6" r="1.6"/><circle cx="578.4" cy="1012.0" r="1.3"/><circle cx="550.4" cy="1040.6" r="1.6"/><circle cx="564.6" cy="1023.3" r="1.7"/><circle cx="514.2" cy="1081.1" r="1.8"/><circle cx="555.8" cy="1055.5" r="2.4"/><circle cx="601.7" cy="973.7" r="1.8"/><circle cx="563.9" cy="1052.5" r="2.1"/><circle cx="573.6" cy="1019.6" r="1.4"/><circle cx="509.5" cy="1108.3" r="1.7"/><circle cx="510.2" cy="1085.2" r="2.5"/><circle cx="566.2" cy="1027.4" r="1.4"/><circle cx="594.7" cy="984.9" r="1.4"/><circle cx="592.0" cy="1009.8" r="1.3"/><circle cx="627.5" cy="961.3" r="1.2"/><circle cx="563.8" cy="1048.9" r="1.4"/><circle cx="584.3" cy="1020.2" r="1.3"/><circle cx="545.9" cy="1070.7" r="1.4"/><circle cx="543.7" cy="1079.3" r="1.8"/><circle cx="538.8" cy="1069.1" r="2.2"/><circle cx="551.4" cy="1045.6" r="2.3"/><circle cx="643.4" cy="965.6" r="2.0"/><circle cx="491.2" cy="1104.1" r="1.3"/><circle cx="636.5" cy="965.7" r="2.4"/><circle cx="503.5" cy="1096.0" r="2.1"/><circle cx="542.4" cy="1084.3" r="2.4"/><circle cx="516.3" cy="1093.2" r="2.3"/><circle cx="525.1" cy="1076.2" r="1.5"/><circle cx="560.9" cy="1028.0" r="2.6"/><circle cx="485.0" cy="1107.5" r="2.3"/><circle cx="533.1" cy="1057.4" r="1.7"/><circle cx="521.8" cy="1109.8" r="2.3"/><circle cx="548.1" cy="1050.7" r="1.8"/><circle cx="528.3" cy="1098.3" r="1.3"/><circle cx="589.5" cy="991.4" r="2.1"/><circle cx="542.4" cy="1087.2" r="2.6"/><circle cx="484.4" cy="1106.7" r="2.1"/><circle cx="597.8" cy="1007.1" r="2.5"/><circle cx="504.2" cy="1087.5" r="1.5"/><circle cx="511.6" cy="1112.6" r="1.9"/><circle cx="521.3" cy="1083.8" r="1.6"/><circle cx="515.0" cy="1098.7" r="2.5"/><circle cx="538.4" cy="1077.1" r="1.4"/><circle cx="509.5" cy="1082.9" r="1.2"/><circle cx="540.1" cy="1067.5" r="1.9"/><circle cx="534.7" cy="1095.2" r="1.8"/><circle cx="551.1" cy="1047.2" r="1.5"/><circle cx="580.2" cy="1025.7" r="2.5"/><circle cx="541.2" cy="1061.9" r="1.6"/><circle cx="545.1" cy="1056.4" r="1.5"/><circle cx="536.5" cy="1054.5" r="2.1"/><circle cx="619.1" cy="963.4" r="2.6"/><circle cx="578.1" cy="1005.4" r="1.8"/><circle cx="617.3" cy="967.3" r="2.3"/><circle cx="549.9" cy="1074.5" r="1.3"/><circle cx="560.3" cy="1034.2" r="2.4"/><circle cx="620.8" cy="964.9" r="2.0"/><circle cx="547.2" cy="1071.0" r="2.1"/><circle cx="551.8" cy="1043.1" r="1.9"/><circle cx="559.0" cy="1040.8" r="1.2"/><circle cx="538.9" cy="1084.2" r="1.7"/><circle cx="592.6" cy="1007.4" r="1.4"/><circle cx="599.3" cy="975.5" r="1.5"/><circle cx="583.6" cy="1005.3" r="2.4"/><circle cx="496.2" cy="1098.5" r="1.7"/><circle cx="563.8" cy="1043.9" r="2.4"/><circle cx="532.5" cy="1085.2" r="2.3"/><circle cx="525.3" cy="1089.4" r="2.2"/><circle cx="530.1" cy="1077.6" r="1.9"/><circle cx="537.1" cy="1060.6" r="1.3"/><circle cx="531.5" cy="1099.5" r="2.3"/><circle cx="642.7" cy="965.8" r="1.2"/><circle cx="557.5" cy="1059.4" r="1.7"/><circle cx="569.7" cy="1038.3" r="2.4"/><circle cx="516.0" cy="1112.2" r="2.3"/><circle cx="538.5" cy="1094.0" r="2.0"/><circle cx="568.7" cy="1017.7" r="2.1"/><circle cx="593.1" cy="986.9" r="2.5"/><circle cx="592.5" cy="1010.2" r="2.3"/><circle cx="627.3" cy="967.2" r="2.0"/><circle cx="556.3" cy="1034.3" r="1.7"/><circle cx="556.8" cy="1063.3" r="1.4"/><circle cx="514.1" cy="1109.0" r="2.4"/><circle cx="539.8" cy="1061.0" r="2.3"/><circle cx="504.0" cy="1106.4" r="2.1"/><circle cx="573.0" cy="1017.0" r="2.5"/><circle cx="553.9" cy="1039.9" r="1.2"/><circle cx="545.5" cy="1050.7" r="1.3"/><circle cx="517.0" cy="1074.6" r="2.0"/><circle cx="497.1" cy="1102.6" r="2.6"/><circle cx="566.0" cy="1023.2" r="2.5"/><circle cx="563.2" cy="1057.8" r="2.1"/><circle cx="608.7" cy="994.3" r="1.4"/><circle cx="605.1" cy="989.9" r="2.0"/><circle cx="524.0" cy="1078.7" r="2.1"/><circle cx="608.5" cy="987.4" r="2.3"/><circle cx="530.7" cy="1063.1" r="2.6"/><circle cx="600.4" cy="988.4" r="2.3"/><circle cx="545.5" cy="1043.0" r="1.9"/><circle cx="505.4" cy="1085.1" r="2.3"/><circle cx="522.1" cy="1070.1" r="1.7"/><circle cx="531.4" cy="1077.1" r="1.9"/><circle cx="529.3" cy="1064.4" r="1.9"/><circle cx="573.5" cy="1034.0" r="1.7"/><circle cx="545.1" cy="1083.8" r="2.6"/><circle cx="505.6" cy="1084.7" r="1.6"/><circle cx="610.0" cy="991.5" r="2.1"/><circle cx="581.6" cy="1029.1" r="1.5"/><circle cx="569.0" cy="1049.6" r="2.6"/><circle cx="546.4" cy="1045.9" r="1.7"/><circle cx="563.1" cy="1057.6" r="2.0"/><circle cx="623.3" cy="961.6" r="2.5"/><circle cx="574.5" cy="1020.3" r="2.2"/><circle cx="509.3" cy="1095.2" r="2.0"/><circle cx="573.5" cy="1041.3" r="1.3"/><circle cx="510.6" cy="1079.5" r="1.8"/><circle cx="597.3" cy="1006.9" r="1.8"/><circle cx="526.2" cy="1073.9" r="2.2"/><circle cx="579.4" cy="1025.8" r="1.9"/><circle cx="536.9" cy="1070.7" r="1.6"/><circle cx="526.5" cy="1094.9" r="1.9"/><circle cx="563.7" cy="1027.7" r="1.7"/><circle cx="575.9" cy="1017.1" r="2.3"/><circle cx="526.4" cy="1091.7" r="1.9"/><circle cx="562.9" cy="1059.8" r="1.8"/><circle cx="636.6" cy="968.7" r="2.2"/><circle cx="511.7" cy="1088.2" r="2.0"/><circle cx="512.6" cy="1099.8" r="1.8"/><circle cx="572.3" cy="1040.3" r="1.3"/><circle cx="531.2" cy="1069.7" r="1.8"/><circle cx="542.8" cy="1075.9" r="2.4"/><circle cx="626.2" cy="971.6" r="2.6"/><circle cx="643.3" cy="962.5" r="2.4"/><circle cx="518.2" cy="1081.5" r="1.3"/><circle cx="538.5" cy="1051.8" r="2.4"/><circle cx="548.7" cy="1072.2" r="1.9"/><circle cx="557.5" cy="1027.6" r="2.2"/><circle cx="536.9" cy="1081.3" r="2.1"/><circle cx="549.3" cy="1056.8" r="1.9"/><circle cx="640.3" cy="965.6" r="1.5"/><circle cx="523.1" cy="1070.7" r="1.7"/><circle cx="639.1" cy="959.4" r="1.7"/><circle cx="512.9" cy="1079.8" r="2.3"/><circle cx="553.0" cy="1071.2" r="1.4"/><circle cx="588.8" cy="1011.2" r="1.3"/><circle cx="496.7" cy="1101.5" r="2.4"/><circle cx="640.7" cy="960.4" r="2.1"/><circle cx="553.4" cy="1042.0" r="2.0"/><circle cx="562.1" cy="1046.6" r="1.4"/><circle cx="570.1" cy="1041.9" r="1.4"/><circle cx="514.7" cy="1091.7" r="2.1"/><circle cx="600.8" cy="999.4" r="1.4"/><circle cx="602.4" cy="972.9" r="2.4"/><circle cx="554.9" cy="1051.7" r="1.4"/><circle cx="515.3" cy="1112.2" r="2.1"/><circle cx="617.5" cy="962.1" r="1.5"/><circle cx="632.5" cy="970.1" r="1.6"/><circle cx="508.7" cy="1104.2" r="1.7"/><circle cx="550.3" cy="1046.0" r="1.2"/><circle cx="511.1" cy="1091.1" r="1.8"/><circle cx="584.1" cy="1010.8" r="2.4"/><circle cx="548.5" cy="1038.7" r="1.9"/><circle cx="641.7" cy="964.4" r="1.5"/><circle cx="607.4" cy="968.7" r="1.9"/><circle cx="558.4" cy="1073.0" r="2.5"/><circle cx="634.1" cy="964.3" r="1.9"/><circle cx="611.0" cy="978.9" r="1.9"/><circle cx="544.3" cy="1063.0" r="2.3"/><circle cx="579.9" cy="1003.8" r="1.3"/><circle cx="537.5" cy="1064.7" r="1.6"/><circle cx="555.6" cy="1072.0" r="1.8"/><circle cx="527.1" cy="1095.6" r="1.6"/><circle cx="525.5" cy="1093.5" r="2.0"/><circle cx="589.8" cy="1009.7" r="2.3"/><circle cx="524.7" cy="1077.9" r="1.8"/><circle cx="567.8" cy="1025.9" r="2.3"/><circle cx="544.4" cy="1071.9" r="1.8"/><circle cx="574.8" cy="1017.4" r="2.5"/><circle cx="534.4" cy="1060.6" r="1.7"/><circle cx="539.3" cy="1063.5" r="1.8"/><circle cx="606.6" cy="980.2" r="2.2"/><circle cx="545.1" cy="1044.8" r="1.2"/><circle cx="528.3" cy="1059.5" r="2.4"/><circle cx="544.8" cy="1058.7" r="1.8"/><circle cx="577.0" cy="1019.0" r="1.7"/><circle cx="547.5" cy="1063.4" r="1.4"/><circle cx="504.8" cy="1104.3" r="1.3"/><circle cx="586.1" cy="1017.8" r="1.9"/><circle cx="542.4" cy="1082.5" r="2.3"/><circle cx="571.3" cy="1034.7" r="2.0"/><circle cx="570.2" cy="1045.9" r="2.5"/><circle cx="548.2" cy="1056.7" r="2.6"/><circle cx="517.6" cy="1089.8" r="1.9"/><circle cx="589.2" cy="1010.6" r="1.5"/><circle cx="597.6" cy="1010.5" r="2.5"/><circle cx="521.8" cy="1084.5" r="1.5"/><circle cx="572.8" cy="1019.1" r="2.0"/><circle cx="565.1" cy="1033.5" r="1.5"/><circle cx="599.0" cy="1005.7" r="2.4"/><circle cx="546.9" cy="1076.1" r="2.3"/><circle cx="564.5" cy="1053.4" r="1.9"/><circle cx="549.4" cy="1044.5" r="2.4"/><circle cx="552.2" cy="1033.9" r="2.2"/><circle cx="527.5" cy="1087.0" r="2.1"/><circle cx="525.3" cy="1065.8" r="2.1"/><circle cx="525.9" cy="1071.0" r="2.4"/><circle cx="541.7" cy="1056.2" r="1.8"/><circle cx="558.8" cy="1031.6" r="2.2"/><circle cx="564.4" cy="1057.7" r="1.7"/><circle cx="508.3" cy="1111.3" r="2.1"/><circle cx="540.7" cy="1061.6" r="1.9"/><circle cx="568.6" cy="1041.3" r="2.3"/><circle cx="607.9" cy="977.5" r="2.0"/><circle cx="541.3" cy="1071.1" r="1.9"/><circle cx="566.0" cy="1043.7" r="1.3"/><circle cx="609.4" cy="992.6" r="1.3"/><circle cx="549.6" cy="1061.8" r="2.4"/><circle cx="629.4" cy="961.5" r="1.8"/><circle cx="526.8" cy="1093.7" r="2.6"/><circle cx="619.5" cy="962.0" r="1.8"/><circle cx="485.1" cy="1105.8" r="1.3"/><circle cx="507.1" cy="1107.7" r="2.2"/><circle cx="571.1" cy="1017.2" r="1.6"/><circle cx="526.0" cy="1064.2" r="2.1"/><circle cx="512.8" cy="1103.1" r="1.3"/><circle cx="565.5" cy="1041.5" r="2.5"/><circle cx="614.3" cy="965.0" r="1.5"/><circle cx="528.7" cy="1093.9" r="1.7"/><circle cx="546.5" cy="1081.8" r="1.8"/><circle cx="576.6" cy="1014.7" r="1.9"/><circle cx="618.1" cy="971.8" r="2.5"/><circle cx="603.2" cy="992.0" r="2.4"/></g>
<g fill="none" stroke="#d22a22" stroke-opacity="0.45" stroke-width="0.7"><circle cx="521.0" cy="1104.6" r="2.2"/><circle cx="544.5" cy="1068.0" r="2.4"/><circle cx="574.0" cy="1023.6" r="2.2"/><circle cx="538.9" cy="1076.0" r="1.9"/><circle cx="513.6" cy="1078.9" r="1.2"/><circle cx="581.6" cy="1022.0" r="2.4"/><circle cx="553.4" cy="1067.2" r="2.7"/><circle cx="599.2" cy="979.5" r="1.5"/><circle cx="509.5" cy="1085.8" r="2.2"/><circle cx="527.7" cy="1083.7" r="2.2"/><circle cx="515.7" cy="1110.8" r="1.3"/><circle cx="588.2" cy="997.7" r="2.1"/><circle cx="515.4" cy="1099.8" r="2.3"/><circle cx="530.9" cy="1078.5" r="2.5"/><circle cx="596.8" cy="980.1" r="2.1"/><circle cx="545.6" cy="1061.6" r="1.2"/><circle cx="592.5" cy="993.9" r="2.0"/><circle cx="500.9" cy="1092.2" r="2.7"/><circle cx="560.8" cy="1037.9" r="2.1"/><circle cx="590.3" cy="1001.7" r="2.2"/><circle cx="528.5" cy="1069.0" r="1.2"/><circle cx="550.5" cy="1049.7" r="2.5"/><circle cx="569.3" cy="1037.3" r="1.8"/><circle cx="601.9" cy="989.7" r="1.4"/><circle cx="611.7" cy="971.1" r="2.6"/><circle cx="492.5" cy="1098.0" r="1.7"/><circle cx="544.0" cy="1052.8" r="2.6"/><circle cx="513.4" cy="1097.4" r="1.7"/><circle cx="549.9" cy="1040.9" r="1.5"/><circle cx="535.3" cy="1070.8" r="2.7"/><circle cx="554.8" cy="1046.9" r="1.2"/><circle cx="603.4" cy="984.6" r="1.9"/><circle cx="547.6" cy="1039.0" r="2.2"/><circle cx="567.9" cy="1016.9" r="2.7"/><circle cx="545.0" cy="1054.3" r="2.1"/><circle cx="591.6" cy="1011.5" r="1.9"/><circle cx="604.3" cy="999.2" r="1.6"/><circle cx="590.3" cy="999.8" r="1.7"/><circle cx="538.8" cy="1064.4" r="1.6"/><circle cx="504.9" cy="1092.0" r="2.0"/><circle cx="517.2" cy="1110.3" r="1.3"/><circle cx="545.5" cy="1047.9" r="2.5"/><circle cx="553.5" cy="1076.6" r="2.6"/><circle cx="506.3" cy="1089.9" r="1.8"/><circle cx="598.6" cy="994.5" r="2.3"/><circle cx="550.8" cy="1077.1" r="2.7"/><circle cx="514.3" cy="1108.2" r="2.5"/><circle cx="539.5" cy="1050.0" r="2.0"/><circle cx="636.0" cy="965.5" r="1.3"/><circle cx="568.5" cy="1016.4" r="1.8"/><circle cx="584.8" cy="1011.0" r="1.6"/><circle cx="547.4" cy="1047.6" r="1.3"/><circle cx="639.2" cy="963.5" r="1.4"/><circle cx="543.9" cy="1052.8" r="2.0"/><circle cx="601.5" cy="976.0" r="2.4"/><circle cx="599.5" cy="999.5" r="1.3"/><circle cx="512.3" cy="1085.6" r="1.6"/><circle cx="520.6" cy="1095.8" r="1.3"/><circle cx="536.5" cy="1050.9" r="2.3"/><circle cx="562.7" cy="1042.0" r="2.3"/><circle cx="624.2" cy="966.2" r="1.5"/><circle cx="526.4" cy="1099.7" r="2.3"/><circle cx="534.7" cy="1064.9" r="2.0"/><circle cx="590.1" cy="991.9" r="2.6"/><circle cx="557.0" cy="1064.4" r="2.6"/><circle cx="612.3" cy="984.4" r="2.6"/><circle cx="533.8" cy="1095.7" r="2.4"/><circle cx="554.8" cy="1047.9" r="2.8"/><circle cx="511.3" cy="1082.8" r="2.2"/><circle cx="593.3" cy="1002.7" r="2.3"/><circle cx="539.8" cy="1054.3" r="1.3"/><circle cx="539.0" cy="1092.1" r="2.0"/><circle cx="552.1" cy="1049.2" r="2.4"/><circle cx="592.8" cy="1001.9" r="2.5"/><circle cx="566.8" cy="1034.5" r="1.4"/><circle cx="585.0" cy="1016.9" r="2.7"/><circle cx="522.6" cy="1086.4" r="1.7"/><circle cx="560.6" cy="1024.2" r="1.5"/><circle cx="538.2" cy="1051.7" r="1.2"/><circle cx="604.5" cy="1000.6" r="1.7"/><circle cx="603.6" cy="977.3" r="2.5"/><circle cx="564.4" cy="1049.7" r="2.0"/><circle cx="581.3" cy="1008.4" r="1.3"/><circle cx="598.8" cy="1002.6" r="1.9"/><circle cx="550.9" cy="1063.5" r="2.0"/><circle cx="522.4" cy="1099.3" r="2.4"/><circle cx="530.8" cy="1096.3" r="2.2"/><circle cx="554.8" cy="1031.9" r="1.6"/><circle cx="584.7" cy="1004.4" r="2.3"/><circle cx="532.3" cy="1074.7" r="2.1"/><circle cx="495.9" cy="1095.7" r="1.3"/><circle cx="530.8" cy="1101.2" r="2.3"/><circle cx="520.8" cy="1081.8" r="2.2"/><circle cx="598.1" cy="992.9" r="2.6"/><circle cx="562.1" cy="1036.3" r="2.2"/><circle cx="627.3" cy="962.4" r="2.5"/><circle cx="564.7" cy="1036.7" r="1.8"/><circle cx="549.1" cy="1070.3" r="2.3"/><circle cx="494.4" cy="1099.7" r="1.2"/><circle cx="523.4" cy="1088.8" r="2.3"/><circle cx="563.1" cy="1024.3" r="1.2"/><circle cx="554.5" cy="1055.2" r="2.1"/><circle cx="627.4" cy="971.6" r="2.1"/><circle cx="556.6" cy="1057.3" r="1.4"/><circle cx="622.0" cy="967.1" r="1.9"/><circle cx="549.4" cy="1078.3" r="1.6"/><circle cx="561.6" cy="1024.4" r="2.4"/><circle cx="524.2" cy="1092.9" r="1.9"/><circle cx="552.2" cy="1054.4" r="2.0"/><circle cx="542.2" cy="1074.8" r="1.4"/><circle cx="598.2" cy="998.2" r="2.2"/><circle cx="601.4" cy="993.6" r="1.6"/><circle cx="501.4" cy="1090.8" r="2.6"/><circle cx="581.3" cy="1028.9" r="2.5"/><circle cx="547.3" cy="1067.3" r="1.3"/><circle cx="578.8" cy="1027.6" r="1.6"/><circle cx="522.0" cy="1086.8" r="1.4"/><circle cx="514.2" cy="1097.8" r="2.6"/><circle cx="547.7" cy="1080.2" r="2.3"/><circle cx="604.3" cy="999.3" r="1.2"/><circle cx="597.1" cy="974.8" r="2.2"/><circle cx="540.7" cy="1073.8" r="2.4"/><circle cx="521.4" cy="1090.1" r="1.2"/><circle cx="547.7" cy="1073.0" r="1.5"/><circle cx="550.3" cy="1063.2" r="1.5"/><circle cx="588.2" cy="1020.6" r="1.4"/><circle cx="636.0" cy="964.0" r="1.4"/><circle cx="542.3" cy="1045.7" r="2.2"/><circle cx="585.7" cy="997.4" r="1.4"/><circle cx="563.9" cy="1054.1" r="2.3"/><circle cx="615.3" cy="972.2" r="1.9"/><circle cx="525.4" cy="1096.4" r="1.4"/><circle cx="604.8" cy="998.2" r="2.0"/><circle cx="544.6" cy="1046.6" r="2.6"/><circle cx="613.4" cy="965.5" r="2.6"/><circle cx="501.2" cy="1097.1" r="2.8"/><circle cx="543.5" cy="1069.4" r="2.1"/><circle cx="542.5" cy="1059.9" r="1.4"/><circle cx="551.8" cy="1040.6" r="1.5"/><circle cx="578.7" cy="1020.6" r="2.5"/><circle cx="539.9" cy="1051.5" r="2.1"/><circle cx="523.3" cy="1075.5" r="2.7"/><circle cx="508.3" cy="1106.3" r="2.6"/><circle cx="613.4" cy="983.2" r="2.3"/><circle cx="528.4" cy="1093.7" r="2.5"/><circle cx="552.8" cy="1073.5" r="2.0"/><circle cx="545.0" cy="1063.3" r="2.7"/><circle cx="634.6" cy="966.9" r="2.0"/><circle cx="555.5" cy="1030.3" r="2.2"/><circle cx="511.6" cy="1106.9" r="2.8"/><circle cx="550.6" cy="1064.7" r="2.5"/><circle cx="569.7" cy="1027.0" r="2.1"/><circle cx="540.2" cy="1089.2" r="1.5"/><circle cx="556.6" cy="1041.4" r="1.4"/><circle cx="489.7" cy="1106.4" r="2.6"/><circle cx="637.8" cy="966.0" r="1.2"/><circle cx="503.2" cy="1098.0" r="2.2"/><circle cx="508.5" cy="1104.2" r="2.3"/><circle cx="567.6" cy="1056.4" r="1.8"/><circle cx="551.7" cy="1032.9" r="1.6"/><circle cx="557.8" cy="1041.0" r="2.2"/><circle cx="540.4" cy="1054.0" r="2.8"/><circle cx="561.7" cy="1046.0" r="2.0"/><circle cx="567.3" cy="1046.9" r="2.2"/><circle cx="499.3" cy="1093.4" r="1.9"/><circle cx="524.6" cy="1104.4" r="1.6"/><circle cx="563.3" cy="1046.2" r="2.2"/><circle cx="509.7" cy="1095.7" r="2.4"/><circle cx="562.6" cy="1035.5" r="2.1"/><circle cx="627.0" cy="960.8" r="2.6"/><circle cx="584.0" cy="1019.1" r="2.8"/><circle cx="572.3" cy="1033.1" r="1.4"/><circle cx="543.8" cy="1050.2" r="1.6"/><circle cx="556.8" cy="1075.1" r="2.3"/><circle cx="621.7" cy="971.6" r="2.1"/><circle cx="561.8" cy="1061.7" r="1.3"/><circle cx="537.7" cy="1088.2" r="1.8"/><circle cx="537.0" cy="1070.8" r="1.8"/><circle cx="607.8" cy="985.9" r="2.7"/><circle cx="524.7" cy="1080.6" r="1.4"/><circle cx="561.7" cy="1066.9" r="2.6"/><circle cx="591.3" cy="1016.7" r="2.7"/><circle cx="552.8" cy="1060.5" r="1.7"/><circle cx="536.8" cy="1056.3" r="2.1"/><circle cx="518.7" cy="1111.5" r="2.1"/><circle cx="586.9" cy="1009.3" r="2.7"/><circle cx="575.8" cy="1023.3" r="1.6"/><circle cx="602.6" cy="985.2" r="2.1"/><circle cx="544.4" cy="1079.2" r="1.9"/><circle cx="527.5" cy="1078.5" r="2.6"/><circle cx="528.3" cy="1079.3" r="2.7"/><circle cx="621.7" cy="967.8" r="1.5"/><circle cx="497.1" cy="1100.4" r="2.2"/><circle cx="551.6" cy="1051.5" r="2.1"/><circle cx="593.1" cy="1014.6" r="1.4"/><circle cx="554.2" cy="1071.6" r="2.0"/><circle cx="594.1" cy="1001.1" r="1.5"/><circle cx="538.6" cy="1083.4" r="1.6"/><circle cx="520.7" cy="1100.9" r="1.9"/><circle cx="583.5" cy="1020.5" r="1.4"/><circle cx="643.0" cy="965.4" r="1.6"/><circle cx="558.0" cy="1051.1" r="1.8"/><circle cx="640.6" cy="965.5" r="1.2"/><circle cx="548.0" cy="1075.2" r="2.6"/><circle cx="526.4" cy="1086.5" r="2.7"/><circle cx="540.8" cy="1052.9" r="2.3"/><circle cx="514.5" cy="1103.3" r="2.4"/><circle cx="532.8" cy="1092.9" r="1.5"/><circle cx="552.8" cy="1044.7" r="2.0"/><circle cx="613.4" cy="978.6" r="1.3"/><circle cx="573.4" cy="1022.2" r="1.6"/><circle cx="508.8" cy="1093.7" r="1.3"/><circle cx="614.1" cy="973.6" r="2.5"/><circle cx="543.0" cy="1074.1" r="2.6"/><circle cx="562.7" cy="1057.2" r="1.5"/><circle cx="570.2" cy="1021.8" r="1.4"/><circle cx="563.1" cy="1023.7" r="1.4"/><circle cx="560.7" cy="1053.9" r="2.7"/><circle cx="562.3" cy="1024.3" r="1.6"/><circle cx="523.1" cy="1081.3" r="1.9"/><circle cx="489.5" cy="1103.5" r="2.6"/><circle cx="596.6" cy="993.9" r="1.2"/><circle cx="515.9" cy="1086.2" r="2.1"/><circle cx="625.2" cy="964.2" r="2.0"/><circle cx="565.9" cy="1031.8" r="1.5"/><circle cx="562.1" cy="1045.2" r="2.2"/><circle cx="593.4" cy="1002.3" r="2.6"/><circle cx="532.9" cy="1069.1" r="1.4"/><circle cx="599.5" cy="999.5" r="1.4"/><circle cx="578.6" cy="1013.4" r="2.1"/><circle cx="585.5" cy="1007.2" r="2.4"/><circle cx="484.7" cy="1105.8" r="2.5"/><circle cx="507.3" cy="1108.1" r="2.8"/><circle cx="561.6" cy="1053.7" r="2.6"/><circle cx="508.8" cy="1092.4" r="2.0"/><circle cx="556.3" cy="1059.5" r="2.0"/><circle cx="598.7" cy="988.4" r="2.1"/><circle cx="518.6" cy="1080.2" r="1.8"/><circle cx="514.6" cy="1093.4" r="2.5"/><circle cx="563.5" cy="1059.2" r="1.4"/><circle cx="531.8" cy="1068.6" r="2.4"/><circle cx="583.5" cy="1020.6" r="1.4"/><circle cx="524.7" cy="1080.5" r="1.6"/><circle cx="501.0" cy="1096.6" r="2.0"/><circle cx="592.9" cy="997.0" r="2.7"/><circle cx="526.4" cy="1086.0" r="2.7"/><circle cx="591.0" cy="1002.0" r="2.5"/><circle cx="525.4" cy="1100.3" r="2.1"/><circle cx="605.6" cy="986.3" r="2.3"/><circle cx="591.1" cy="1010.1" r="1.5"/><circle cx="536.5" cy="1095.5" r="2.2"/><circle cx="532.4" cy="1094.9" r="2.6"/><circle cx="592.4" cy="995.5" r="2.2"/><circle cx="559.2" cy="1031.6" r="2.0"/><circle cx="599.4" cy="990.7" r="1.8"/><circle cx="594.9" cy="997.2" r="1.9"/><circle cx="590.8" cy="1007.6" r="1.8"/><circle cx="593.9" cy="984.5" r="2.1"/><circle cx="611.1" cy="983.4" r="2.7"/><circle cx="537.8" cy="1071.6" r="1.8"/><circle cx="572.8" cy="1020.6" r="2.0"/><circle cx="601.7" cy="979.4" r="2.4"/><circle cx="554.1" cy="1043.7" r="1.5"/><circle cx="607.4" cy="981.8" r="2.2"/><circle cx="508.6" cy="1108.9" r="2.1"/><circle cx="564.7" cy="1036.5" r="2.5"/><circle cx="562.9" cy="1040.7" r="2.3"/><circle cx="565.9" cy="1050.6" r="1.2"/><circle cx="540.8" cy="1055.4" r="1.7"/><circle cx="540.6" cy="1062.6" r="1.2"/><circle cx="539.1" cy="1075.6" r="2.3"/><circle cx="589.3" cy="1011.5" r="2.3"/><circle cx="529.6" cy="1100.3" r="2.2"/><circle cx="548.7" cy="1055.3" r="2.5"/><circle cx="501.8" cy="1095.3" r="2.6"/><circle cx="523.7" cy="1098.6" r="1.7"/><circle cx="525.7" cy="1100.3" r="2.6"/><circle cx="560.8" cy="1056.9" r="2.0"/><circle cx="557.3" cy="1040.8" r="2.7"/><circle cx="563.2" cy="1031.5" r="1.3"/><circle cx="539.7" cy="1053.5" r="1.4"/><circle cx="530.0" cy="1093.6" r="2.3"/><circle cx="531.4" cy="1065.6" r="1.5"/><circle cx="523.4" cy="1093.9" r="2.3"/><circle cx="528.3" cy="1090.6" r="1.4"/><circle cx="528.4" cy="1080.4" r="2.6"/><circle cx="562.3" cy="1043.2" r="2.1"/><circle cx="623.0" cy="960.0" r="1.2"/><circle cx="548.8" cy="1056.3" r="1.7"/><circle cx="561.7" cy="1043.4" r="2.0"/><circle cx="615.2" cy="975.2" r="2.3"/><circle cx="552.5" cy="1057.2" r="1.7"/><circle cx="550.7" cy="1063.3" r="2.3"/><circle cx="553.5" cy="1055.1" r="2.3"/><circle cx="516.0" cy="1078.0" r="2.6"/><circle cx="536.8" cy="1065.4" r="1.8"/><circle cx="510.3" cy="1086.2" r="1.4"/><circle cx="605.7" cy="973.1" r="1.6"/><circle cx="634.8" cy="958.8" r="2.5"/><circle cx="521.9" cy="1092.2" r="2.0"/></g>
<g fill="#f3a19c" fill-opacity="0.25" stroke="#e0443c" stroke-opacity="0.6" stroke-width="0.7"><circle cx="484.5" cy="1107.2" r="1.8"/><circle cx="483.8" cy="1108.1" r="2.7"/><circle cx="486.2" cy="1106.8" r="2.9"/><circle cx="484.7" cy="1106.2" r="2.1"/><circle cx="485.3" cy="1103.6" r="1.7"/><circle cx="491.7" cy="1098.9" r="2.4"/><circle cx="491.5" cy="1100.2" r="2.5"/><circle cx="494.8" cy="1095.2" r="1.9"/><circle cx="499.5" cy="1089.7" r="1.5"/><circle cx="499.5" cy="1090.9" r="2.4"/><circle cx="503.0" cy="1082.9" r="1.8"/><circle cx="509.1" cy="1080.7" r="2.1"/><circle cx="509.0" cy="1080.5" r="2.6"/><circle cx="513.4" cy="1076.6" r="1.7"/><circle cx="517.1" cy="1072.3" r="2.3"/><circle cx="517.9" cy="1070.3" r="1.8"/><circle cx="523.4" cy="1068.1" r="2.5"/><circle cx="526.8" cy="1059.5" r="2.2"/><circle cx="527.4" cy="1061.5" r="2.5"/><circle cx="532.9" cy="1055.5" r="1.9"/><circle cx="535.3" cy="1051.8" r="2.5"/><circle cx="533.0" cy="1050.2" r="1.7"/><circle cx="537.5" cy="1046.9" r="2.4"/><circle cx="538.8" cy="1048.8" r="1.6"/><circle cx="540.3" cy="1050.5" r="2.5"/><circle cx="545.6" cy="1040.7" r="2.8"/><circle cx="549.9" cy="1036.4" r="2.4"/><circle cx="549.1" cy="1034.6" r="2.2"/><circle cx="555.7" cy="1032.6" r="2.9"/><circle cx="558.4" cy="1024.1" r="2.6"/><circle cx="556.7" cy="1023.7" r="2.9"/><circle cx="563.7" cy="1018.5" r="2.5"/><circle cx="568.5" cy="1015.8" r="2.8"/><circle cx="567.6" cy="1016.9" r="3.0"/><circle cx="574.5" cy="1012.3" r="2.1"/><circle cx="576.0" cy="1007.4" r="2.9"/><circle cx="576.3" cy="1007.0" r="2.8"/><circle cx="580.8" cy="1001.3" r="1.9"/><circle cx="585.6" cy="996.3" r="1.8"/><circle cx="586.6" cy="997.4" r="2.3"/><circle cx="585.7" cy="994.1" r="2.8"/><circle cx="589.7" cy="989.0" r="1.6"/><circle cx="587.1" cy="987.3" r="2.6"/><circle cx="590.4" cy="987.0" r="2.2"/><circle cx="591.0" cy="980.1" r="2.7"/><circle cx="591.4" cy="978.8" r="1.5"/><circle cx="594.7" cy="975.4" r="2.5"/><circle cx="596.1" cy="971.6" r="1.9"/><circle cx="594.7" cy="971.7" r="2.5"/><circle cx="598.6" cy="970.3" r="1.6"/><circle cx="605.2" cy="969.3" r="3.0"/><circle cx="602.7" cy="969.5" r="2.9"/><circle cx="605.4" cy="969.4" r="2.1"/><circle cx="609.7" cy="966.8" r="2.2"/><circle cx="608.7" cy="967.3" r="2.9"/><circle cx="611.2" cy="963.1" r="2.6"/><circle cx="615.8" cy="960.6" r="2.2"/><circle cx="616.0" cy="962.7" r="1.7"/><circle cx="620.3" cy="960.6" r="1.9"/><circle cx="627.2" cy="957.6" r="2.5"/><circle cx="626.8" cy="957.1" r="2.8"/><circle cx="628.3" cy="958.3" r="1.8"/><circle cx="633.9" cy="956.4" r="2.5"/><circle cx="635.6" cy="959.1" r="2.1"/><circle cx="637.5" cy="958.8" r="2.8"/><circle cx="643.1" cy="958.4" r="1.6"/><circle cx="643.6" cy="958.3" r="1.6"/><circle cx="643.4" cy="963.4" r="2.6"/><circle cx="647.0" cy="962.6" r="1.7"/><circle cx="647.4" cy="962.7" r="2.8"/><circle cx="650.2" cy="964.5" r="2.9"/><circle cx="648.7" cy="965.4" r="2.5"/><circle cx="650.2" cy="961.8" r="2.9"/><circle cx="645.5" cy="966.0" r="2.5"/><circle cx="641.5" cy="968.6" r="2.9"/><circle cx="642.1" cy="965.2" r="2.9"/><circle cx="636.2" cy="968.8" r="1.6"/><circle cx="631.8" cy="968.4" r="1.6"/><circle cx="631.3" cy="971.0" r="1.6"/><circle cx="626.8" cy="973.1" r="2.6"/><circle cx="619.0" cy="975.2" r="3.0"/><circle cx="621.5" cy="973.5" r="2.8"/><circle cx="619.9" cy="976.1" r="1.7"/><circle cx="617.9" cy="979.3" r="3.0"/><circle cx="614.7" cy="978.9" r="2.8"/><circle cx="614.2" cy="981.6" r="1.7"/><circle cx="612.2" cy="986.5" r="1.9"/><circle cx="611.5" cy="985.8" r="1.7"/><circle cx="609.7" cy="990.2" r="2.6"/><circle cx="609.1" cy="992.8" r="2.8"/><circle cx="610.5" cy="993.0" r="1.8"/><circle cx="609.2" cy="996.6" r="2.9"/><circle cx="607.1" cy="1002.5" r="2.1"/><circle cx="605.3" cy="1002.2" r="2.6"/><circle cx="601.8" cy="1008.8" r="2.5"/><circle cx="598.5" cy="1009.9" r="2.0"/><circle cx="598.4" cy="1010.2" r="2.8"/><circle cx="594.2" cy="1013.5" r="1.9"/><circle cx="590.1" cy="1018.8" r="2.8"/><circle cx="590.7" cy="1018.7" r="2.0"/><circle cx="586.7" cy="1022.2" r="2.0"/><circle cx="582.8" cy="1028.4" r="1.7"/><circle cx="585.3" cy="1026.8" r="2.2"/><circle cx="580.9" cy="1030.7" r="2.3"/><circle cx="574.7" cy="1038.7" r="2.1"/><circle cx="574.2" cy="1041.1" r="2.7"/><circle cx="574.7" cy="1045.3" r="3.0"/><circle cx="570.7" cy="1047.0" r="1.7"/><circle cx="569.8" cy="1047.6" r="2.5"/><circle cx="570.0" cy="1051.9" r="1.6"/><circle cx="566.3" cy="1059.6" r="2.8"/><circle cx="565.8" cy="1057.0" r="1.8"/><circle cx="567.0" cy="1064.3" r="2.1"/><circle cx="561.6" cy="1062.1" r="1.9"/><circle cx="562.7" cy="1065.2" r="2.0"/><circle cx="561.7" cy="1068.0" r="2.8"/><circle cx="558.5" cy="1073.4" r="2.0"/><circle cx="559.4" cy="1071.6" r="1.9"/><circle cx="554.2" cy="1079.6" r="2.8"/><circle cx="548.4" cy="1086.4" r="2.2"/><circle cx="547.8" cy="1084.1" r="2.6"/><circle cx="541.2" cy="1088.0" r="2.5"/><circle cx="539.2" cy="1093.3" r="1.6"/><circle cx="538.3" cy="1093.5" r="2.6"/><circle cx="533.5" cy="1098.0" r="1.6"/><circle cx="530.1" cy="1103.7" r="2.5"/><circle cx="528.7" cy="1103.0" r="2.6"/><circle cx="524.6" cy="1107.9" r="2.4"/><circle cx="523.1" cy="1110.7" r="2.4"/><circle cx="521.5" cy="1110.1" r="2.7"/><circle cx="518.0" cy="1112.0" r="2.8"/><circle cx="512.3" cy="1115.5" r="2.0"/><circle cx="516.5" cy="1114.8" r="2.6"/><circle cx="511.1" cy="1113.7" r="2.6"/><circle cx="510.5" cy="1111.7" r="2.2"/><circle cx="509.3" cy="1112.5" r="2.8"/><circle cx="504.0" cy="1109.1" r="3.0"/><circle cx="505.5" cy="1107.3" r="2.2"/><circle cx="504.7" cy="1105.4" r="2.9"/><circle cx="502.5" cy="1106.2" r="2.1"/><circle cx="500.1" cy="1107.2" r="2.6"/><circle cx="499.5" cy="1106.4" r="1.6"/><circle cx="495.5" cy="1109.3" r="2.7"/><circle cx="491.0" cy="1110.0" r="1.8"/></g>
<g fill="#a9c6ee" fill-opacity="0.3" stroke="#5b8fd9" stroke-opacity="0.6" stroke-width="0.8"><circle cx="579" cy="1094.5" r="3.3"/><circle cx="588" cy="1101" r="1.6"/><circle cx="575" cy="1108" r="2.7"/><circle cx="560" cy="1113" r="1.5"/><circle cx="548" cy="1105" r="2.5"/><circle cx="540" cy="1120" r="2.4"/><circle cx="530" cy="1100" r="3.4"/><circle cx="590" cy="1115" r="3.3"/><circle cx="520" cy="1092" r="2.8"/><circle cx="512" cy="1010" r="2.7"/><circle cx="505" cy="1002" r="3.3"/><circle cx="476" cy="1025" r="2.6"/><circle cx="520" cy="990" r="2.4"/><circle cx="530" cy="985" r="1.6"/><circle cx="596" cy="958" r="3.2"/><circle cx="450" cy="1060" r="2.4"/><circle cx="600" cy="980" r="2.0"/><circle cx="598" cy="992" r="1.8"/><circle cx="593" cy="1070" r="2.2"/><circle cx="598" cy="1080" r="2.7"/><circle cx="585" cy="1088" r="3.1"/><circle cx="565" cy="1107" r="2.3"/><circle cx="553" cy="1118" r="3.4"/></g>
<g fill="#f3a19c" fill-opacity="0.4" stroke="#e0443c" stroke-opacity="0.8" stroke-width="0.9"><circle cx="579" cy="1112" r="1.5"/><circle cx="581" cy="1106" r="2.4"/><circle cx="584" cy="1100" r="1.8"/><circle cx="588" cy="1094" r="2.0"/><circle cx="592" cy="1090" r="1.7"/><circle cx="596" cy="1087" r="3.3"/><circle cx="585" cy="1115" r="2.0"/><circle cx="578" cy="1118" r="2.5"/></g>
<path d="M500.5,1022.3 L639.8,996.1" stroke="#111" stroke-width="1.7" stroke-dasharray="5.5 3.5"/>
<path d="M275.8,1139.1 L276.4,901.0" stroke="#a8a8a8" stroke-width="0.8" stroke-dasharray="9 3"/>
<path d="M598.4,1141.8 L598.5,900.8" stroke="#a8a8a8" stroke-width="0.8" stroke-dasharray="9 3"/>
<path d="M115.5,1107.1 l-7.5,0 M116.0,1068.7 l-7.5,0 M116.4,1030.6 l-7.5,0 M116.9,992.7 l-7.5,0 M117.4,954.9 l-7.5,0 " stroke="#111" stroke-width="1.3"/>
<path d="M115.5,1107.1 l-3.2,8 M142.7,1112.5 l-3.2,8 M173.9,1118.7 l-3.2,8 M209.9,1125.9 l-3.2,8 M252.0,1134.3 l-3.2,8 " stroke="#111" stroke-width="1.3"/>
<path d="M275.8,1139.1 l7.2,8.6 M297.0,1119.1 l7.2,8.6 M312.0,1105.0 l7.2,8.6 M323.2,1094.4 l7.2,8.6 " stroke="#111" stroke-width="1.3"/>
<path d="M441.4,1104.7 l-7.5,0 M441.3,1057.1 l-7.5,0 M441.3,1009.5 l-7.5,0 M441.2,961.8 l-7.5,0 " stroke="#111" stroke-width="1.3"/>
<path d="M441.4,1104.7 l-3.2,8 M482.2,1114.4 l-3.2,8 M533.1,1126.4 l-3.2,8 M598.4,1141.8 l-3.2,8 " stroke="#111" stroke-width="1.3"/>
<path d="M598.4,1141.8 l7.2,8.6 M628.2,1114.7 l7.2,8.6 M646.7,1097.8 l7.2,8.6 " stroke="#111" stroke-width="1.3"/>
<text x="103.8" y="959.6" font-size="10.8" text-anchor="end" fill="#222" font-weight="normal">0.4</text>
<text x="103.8" y="996.8" font-size="10.8" text-anchor="end" fill="#222" font-weight="normal">0.3</text>
<text x="103.8" y="1034.4" font-size="10.8" text-anchor="end" fill="#222" font-weight="normal">0.2</text>
<text x="103.8" y="1072.1" font-size="10.8" text-anchor="end" fill="#222" font-weight="normal">0.1</text>
<text x="103.8" y="1109.6" font-size="10.8" text-anchor="end" fill="#222" font-weight="normal">0</text>
<text x="107.9" y="1123.9" font-size="10.8" text-anchor="middle" fill="#222" font-weight="normal">0</text>
<text x="136.6" y="1132.9" font-size="10.8" text-anchor="middle" fill="#222" font-weight="normal">20</text>
<text x="167.6" y="1139.3" font-size="10.8" text-anchor="middle" fill="#222" font-weight="normal">40</text>
<text x="203.4" y="1148.9" font-size="10.8" text-anchor="middle" fill="#222" font-weight="normal">60</text>
<text x="246.9" y="1158.7" font-size="10.8" text-anchor="middle" fill="#222" font-weight="normal">80</text>
<text x="290.8" y="1160.9" font-size="10.8" text-anchor="middle" fill="#222" font-weight="normal">0</text>
<text x="310.3" y="1138.2" font-size="10.8" text-anchor="middle" fill="#222" font-weight="normal">2</text>
<text x="323.5" y="1122.1" font-size="10.8" text-anchor="middle" fill="#222" font-weight="normal">4</text>
<text x="335.6" y="1107.9" font-size="10.8" text-anchor="middle" fill="#222" font-weight="normal">6</text>
<text x="428.3" y="964.6" font-size="10.8" text-anchor="end" fill="#222" font-weight="normal">3</text>
<text x="428.3" y="1013.3" font-size="10.8" text-anchor="end" fill="#222" font-weight="normal">2</text>
<text x="428.3" y="1061.1" font-size="10.8" text-anchor="end" fill="#222" font-weight="normal">1</text>
<text x="428.3" y="1108.9" font-size="10.8" text-anchor="end" fill="#222" font-weight="normal">0</text>
<text x="437.9" y="1124.7" font-size="10.8" text-anchor="middle" fill="#222" font-weight="normal">1,800</text>
<text x="477.5" y="1136.4" font-size="10.8" text-anchor="middle" fill="#222" font-weight="normal">2,000</text>
<text x="532.2" y="1147.6" font-size="10.8" text-anchor="middle" fill="#222" font-weight="normal">2,200</text>
<text x="593.3" y="1164.3" font-size="10.8" text-anchor="middle" fill="#222" font-weight="normal">2,400</text>
<text x="617" y="1162.2" font-size="10.8" text-anchor="middle" fill="#222" font-weight="normal">0</text>
<text x="638" y="1132.2" font-size="10.8" text-anchor="middle" fill="#222" font-weight="normal">20</text>
<text x="657.5" y="1110.9" font-size="10.8" text-anchor="middle" fill="#222" font-weight="normal">40</text>
<text transform="translate(178.5,1163) rotate(14)" font-size="12" text-anchor="middle" fill="#222">C (μmol l<tspan font-size="7.5" dy="-4.5">−1</tspan><tspan dy="4.5">)</tspan></text>
<text transform="translate(336,1145) rotate(-49)" font-size="12" text-anchor="middle" fill="#222">N (μmol l<tspan font-size="7.5" dy="-4.5">−1</tspan><tspan dy="4.5">)</tspan></text>
<text transform="translate(79,1037) rotate(-90)" font-size="12" text-anchor="middle" fill="#222">P (μmol l<tspan font-size="7.5" dy="-4.5">−1</tspan><tspan dy="4.5">)</tspan></text>
<text transform="translate(496,1165) rotate(12)" font-size="12" text-anchor="middle" fill="#222">C (μmol kg<tspan font-size="7.5" dy="-4.5">−1</tspan><tspan dy="4.5">)</tspan></text>
<text transform="translate(661,1146) rotate(-52)" font-size="12" text-anchor="middle" fill="#222">N (μmol kg<tspan font-size="7.5" dy="-4.5">−1</tspan><tspan dy="4.5">)</tspan></text>
<text transform="translate(410,1032) rotate(-90)" font-size="12" text-anchor="middle" fill="#222">P (μmol kg<tspan font-size="7.5" dy="-4.5">−1</tspan><tspan dy="4.5">)</tspan></text>
<defs><radialGradient id="gb"><stop offset="0" stop-color="#fff"/><stop offset="1" stop-color="#a9c4ea"/></radialGradient><radialGradient id="gr"><stop offset="0" stop-color="#fff"/><stop offset="1" stop-color="#f2a6a2"/></radialGradient><radialGradient id="gg" cx="0.4" cy="0.4"><stop offset="0" stop-color="#eee"/><stop offset="1" stop-color="#999"/></radialGradient></defs>
<circle cx="199" cy="853.9" r="8" fill="url(#gb)"/>
<text x="214.7" y="858.2" font-size="11.8" text-anchor="start" fill="#222" font-weight="normal" textLength="51.5" lengthAdjust="spacingAndGlyphs">0–200 m</text>
<circle cx="291" cy="853.9" r="8" fill="url(#gr)"/>
<text x="305.6" y="858.2" font-size="11.8" text-anchor="start" fill="#222" font-weight="normal" textLength="75.5" lengthAdjust="spacingAndGlyphs">200–1,000 m</text>
<path d="M398.6,853.9 H432" stroke="#111" stroke-width="1.7" stroke-dasharray="6 4"/>
<text x="439.6" y="858.2" font-size="11.8" text-anchor="start" fill="#222" font-weight="normal" textLength="77" lengthAdjust="spacingAndGlyphs">Redfield ratio</text>
<text x="26.8" y="895" font-size="11.2" text-anchor="start" fill="#222" font-weight="normal" textLength="49" lengthAdjust="spacingAndGlyphs">Plankton</text>
<use href="#bact" x="26" y="905" width="46" height="43"/>
<text x="120.5" y="902" font-size="11.2" text-anchor="start" fill="#222" font-weight="normal" textLength="34.2" lengthAdjust="spacingAndGlyphs">Count</text>
<circle cx="174.8" cy="896.6" r="1.6" fill="none" stroke="#999" stroke-width="0.7"/>
<path d="M177,896.6 H199.3" stroke="#999" stroke-width="0.8" stroke-dasharray="3 2.5"/>
<text x="203.5" y="899.5" font-size="11.2" text-anchor="start" fill="#222" font-weight="normal">e<tspan font-size="8" dy="-5.5">0</tspan></text>
<text x="357.5" y="895.5" font-size="11.2" text-anchor="start" fill="#222" font-weight="normal" textLength="37" lengthAdjust="spacingAndGlyphs">Ocean</text>
<g transform="translate(351,903) scale(1.0)"><path d="M26.7,1 C28,6 33.7,10.5 33.7,15.5 A7,7 0 0 1 19.7,15.5 C19.7,10.5 25.4,6 26.7,1Z" fill="#e4eef5"/><path d="M5.00,29.50 L5.75,28.93 L6.50,28.40 L7.25,27.95 L8.00,27.63 L8.75,27.44 L9.50,27.41 L10.25,27.53 L11.00,27.81 L11.75,28.21 L12.50,28.71 L13.25,29.27 L14.00,29.85 L14.75,30.40 L15.50,30.88 L16.25,31.26 L17.00,31.50 L17.75,31.60 L18.50,31.54 L19.25,31.32 L20.00,30.96 L20.75,30.50 L21.50,29.96 L22.25,29.38 L23.00,28.82 L23.75,28.30 L24.50,27.88 L25.25,27.58 L26.00,27.42 L26.75,27.42 L27.50,27.58 L28.25,27.88 L29.00,28.30 L29.75,28.82 L30.50,29.38 L31.25,29.96 L32.00,30.50 L32.75,30.96 L33.50,31.32 L34.25,31.54 L35.00,31.60 L35.75,31.50 L36.50,31.26 L37.25,30.88 L38.00,30.40 L38.75,29.85 L39.50,29.27 L40.25,28.71 L41.00,28.21 L41.75,27.81 L42.50,27.53 L43.25,27.41 L44.00,27.44 L44.75,27.63 L45.50,27.95 L46.25,28.40 L47.00,28.93 L47.75,29.50 L48.50,30.07 L49.25,30.60 L50.00,31.05" fill="none" stroke="#e3edf4" stroke-width="3" stroke-linecap="round"/><path d="M5.00,38.00 L5.75,37.43 L6.50,36.90 L7.25,36.45 L8.00,36.13 L8.75,35.94 L9.50,35.91 L10.25,36.03 L11.00,36.31 L11.75,36.71 L12.50,37.21 L13.25,37.77 L14.00,38.35 L14.75,38.90 L15.50,39.38 L16.25,39.76 L17.00,40.00 L17.75,40.10 L18.50,40.04 L19.25,39.82 L20.00,39.46 L20.75,39.00 L21.50,38.46 L22.25,37.88 L23.00,37.32 L23.75,36.80 L24.50,36.38 L25.25,36.08 L26.00,35.92 L26.75,35.92 L27.50,36.08 L28.25,36.38 L29.00,36.80 L29.75,37.32 L30.50,37.88 L31.25,38.46 L32.00,39.00 L32.75,39.46 L33.50,39.82 L34.25,40.04 L35.00,40.10 L35.75,40.00 L36.50,39.76 L37.25,39.38 L38.00,38.90 L38.75,38.35 L39.50,37.77 L40.25,37.21 L41.00,36.71 L41.75,36.31 L42.50,36.03 L43.25,35.91 L44.00,35.94 L44.75,36.13 L45.50,36.45 L46.25,36.90 L47.00,37.43 L47.75,38.00 L48.50,38.57 L49.25,39.10 L50.00,39.55" fill="none" stroke="#e3edf4" stroke-width="3" stroke-linecap="round"/><path d="M1.10,25.70 L1.85,25.13 L2.60,24.60 L3.36,24.15 L4.11,23.82 L4.86,23.64 L5.61,23.61 L6.36,23.74 L7.11,24.01 L7.87,24.42 L8.62,24.92 L9.37,25.48 L10.12,26.06 L10.87,26.61 L11.62,27.09 L12.38,27.47 L13.13,27.71 L13.88,27.80 L14.63,27.73 L15.38,27.51 L16.13,27.15 L16.89,26.68 L17.64,26.13 L18.39,25.55 L19.14,24.99 L19.89,24.48 L20.64,24.06 L21.40,23.76 L22.15,23.62 L22.90,23.63 L23.65,23.79 L24.40,24.10 L25.15,24.54 L25.91,25.06 L26.66,25.63 L27.41,26.20 L28.16,26.74 L28.91,27.20 L29.66,27.54 L30.42,27.75 L31.17,27.80 L31.92,27.69 L32.67,27.43 L33.42,27.04 L34.17,26.54 L34.93,25.99 L35.68,25.41 L36.43,24.85 L37.18,24.36 L37.93,23.97 L38.68,23.71 L39.44,23.60 L40.19,23.65 L40.94,23.86 L41.69,24.20 L42.44,24.66 L43.19,25.20 L43.95,25.77 L44.70,26.34 L45.45,26.86 L46.20,27.30" fill="none" stroke="#2a7ca5" stroke-width="3.2" stroke-linecap="round"/><path d="M1.10,33.70 L1.85,33.13 L2.60,32.60 L3.36,32.15 L4.11,31.82 L4.86,31.64 L5.61,31.61 L6.36,31.74 L7.11,32.01 L7.87,32.42 L8.62,32.92 L9.37,33.48 L10.12,34.06 L10.87,34.61 L11.62,35.09 L12.38,35.47 L13.13,35.71 L13.88,35.80 L14.63,35.73 L15.38,35.51 L16.13,35.15 L16.89,34.68 L17.64,34.13 L18.39,33.55 L19.14,32.99 L19.89,32.48 L20.64,32.06 L21.40,31.76 L22.15,31.62 L22.90,31.63 L23.65,31.79 L24.40,32.10 L25.15,32.54 L25.91,33.06 L26.66,33.63 L27.41,34.20 L28.16,34.74 L28.91,35.20 L29.66,35.54 L30.42,35.75 L31.17,35.80 L31.92,35.69 L32.67,35.43 L33.42,35.04 L34.17,34.54 L34.93,33.99 L35.68,33.41 L36.43,32.85 L37.18,32.36 L37.93,31.97 L38.68,31.71 L39.44,31.60 L40.19,31.65 L40.94,31.86 L41.69,32.20 L42.44,32.66 L43.19,33.20 L43.95,33.77 L44.70,34.34 L45.45,34.86 L46.20,35.30" fill="none" stroke="#2a7ca5" stroke-width="3.2" stroke-linecap="round"/></g>
<text x="430" y="902.6" font-size="11.2" text-anchor="start" fill="#222" font-weight="normal" textLength="34.2" lengthAdjust="spacingAndGlyphs">Count</text>
<path d="M477,891 V885.8 H541 M484,896 H500 M477,904.6 H517" stroke="#aaa" stroke-width="0.8" fill="none" stroke-dasharray="3 2.5"/>
<circle cx="477" cy="897.9" r="6.7" fill="url(#gg)"/>
<circle cx="477" cy="899" r="4.5" fill="none" stroke="#888" stroke-width="0.6"/>
<text x="543" y="887.5" font-size="11.2" text-anchor="start" fill="#222" font-weight="normal">e<tspan font-size="8" dy="-5.5">3</tspan></text>
<text x="501" y="899.5" font-size="11.2" text-anchor="start" fill="#222" font-weight="normal">e<tspan font-size="8" dy="-5.5">2</tspan></text>
<text x="518" y="907.5" font-size="11.2" text-anchor="start" fill="#222" font-weight="normal">e<tspan font-size="8" dy="-5.5">1</tspan></text>
</svg></body></html>
